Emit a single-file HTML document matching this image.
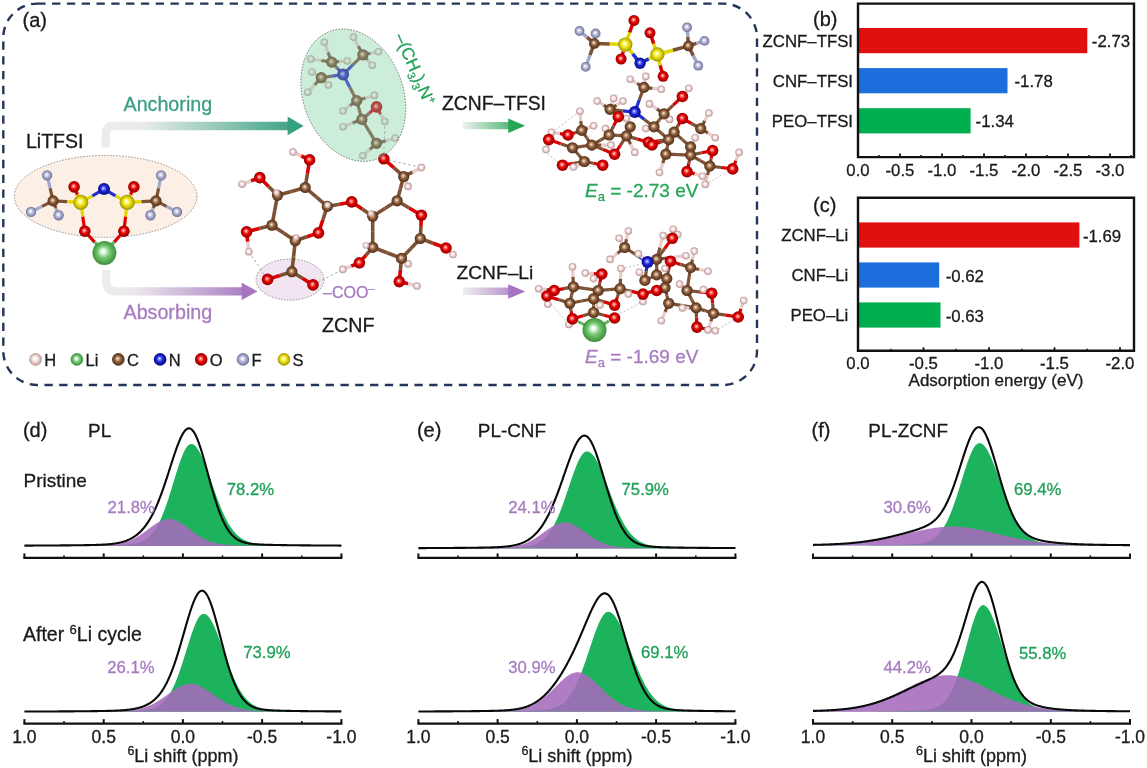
<!DOCTYPE html>
<html><head><meta charset="utf-8"><style>
html,body{margin:0;padding:0;background:#fff;}
body{width:1147px;height:768px;overflow:hidden;}
svg{display:block;font-family:"Liberation Sans", sans-serif;will-change:transform;}
</style></head><body>
<svg width="1147" height="768" viewBox="0 0 1147 768">
<defs><radialGradient id="gC" cx="0.5" cy="0.5" r="0.52" fx="0.44" fy="0.42"><stop offset="0" stop-color="#ffffff"/><stop offset="0.12" stop-color="#e2c6a8"/><stop offset="0.5" stop-color="#8c5b3a"/><stop offset="1" stop-color="#4a2c16"/></radialGradient><radialGradient id="gO" cx="0.5" cy="0.5" r="0.52" fx="0.44" fy="0.42"><stop offset="0" stop-color="#ffffff"/><stop offset="0.12" stop-color="#ffa0a0"/><stop offset="0.5" stop-color="#e60000"/><stop offset="1" stop-color="#8a0000"/></radialGradient><radialGradient id="gH" cx="0.5" cy="0.5" r="0.52" fx="0.44" fy="0.42"><stop offset="0" stop-color="#ffffff"/><stop offset="0.12" stop-color="#ffffff"/><stop offset="0.5" stop-color="#f2d8d8"/><stop offset="1" stop-color="#b08c8c"/></radialGradient><radialGradient id="gN" cx="0.5" cy="0.5" r="0.52" fx="0.44" fy="0.42"><stop offset="0" stop-color="#ffffff"/><stop offset="0.12" stop-color="#9aa6ff"/><stop offset="0.5" stop-color="#1c22d8"/><stop offset="1" stop-color="#080a78"/></radialGradient><radialGradient id="gS" cx="0.5" cy="0.5" r="0.52" fx="0.44" fy="0.42"><stop offset="0" stop-color="#ffffff"/><stop offset="0.12" stop-color="#ffffc0"/><stop offset="0.5" stop-color="#ebe210"/><stop offset="1" stop-color="#9a8c00"/></radialGradient><radialGradient id="gF" cx="0.5" cy="0.5" r="0.52" fx="0.44" fy="0.42"><stop offset="0" stop-color="#ffffff"/><stop offset="0.12" stop-color="#f4f4ff"/><stop offset="0.5" stop-color="#aeb0d4"/><stop offset="1" stop-color="#6a6c90"/></radialGradient><radialGradient id="gL" cx="0.5" cy="0.5" r="0.52" fx="0.44" fy="0.42"><stop offset="0" stop-color="#ffffff"/><stop offset="0.12" stop-color="#f4fff4"/><stop offset="0.5" stop-color="#70c66e"/><stop offset="1" stop-color="#3a8a38"/></radialGradient><linearGradient id="arAnch" gradientUnits="userSpaceOnUse" x1="105" y1="0" x2="300" y2="0"><stop offset="0" stop-color="#ececec"/><stop offset="0.2" stop-color="#e8ece9"/><stop offset="1" stop-color="#37a083"/></linearGradient><linearGradient id="arAbs" gradientUnits="userSpaceOnUse" x1="105" y1="0" x2="255" y2="0"><stop offset="0" stop-color="#ececec"/><stop offset="0.2" stop-color="#ebe8ec"/><stop offset="1" stop-color="#a674c0"/></linearGradient><linearGradient id="arG" gradientUnits="userSpaceOnUse" x1="463" y1="0" x2="525" y2="0"><stop offset="0" stop-color="#efefef"/><stop offset="1" stop-color="#25a654"/></linearGradient><linearGradient id="arP" gradientUnits="userSpaceOnUse" x1="463" y1="0" x2="525" y2="0"><stop offset="0" stop-color="#efefef"/><stop offset="1" stop-color="#a674c0"/></linearGradient></defs>
<rect x="858" y="28.0" width="229.3" height="25.2" fill="#e01010"/>
<text x="853.0" y="46.6" font-size="16.8" fill="#1a1a1a" text-anchor="end"  stroke="#1a1a1a" stroke-width="0.3">ZCNF&#8211;TFSI</text>
<text x="1091.8" y="47.1" font-size="16.8" fill="#1a1a1a" text-anchor="start"  stroke="#1a1a1a" stroke-width="0.3">-2.73</text>
<rect x="858" y="68.1" width="149.5" height="25.2" fill="#1b6edc"/>
<text x="853.0" y="86.7" font-size="16.8" fill="#1a1a1a" text-anchor="end"  stroke="#1a1a1a" stroke-width="0.3">CNF&#8211;TFSI</text>
<text x="1014.5" y="87.2" font-size="16.8" fill="#1a1a1a" text-anchor="start"  stroke="#1a1a1a" stroke-width="0.3">-1.78</text>
<rect x="858" y="108.2" width="112.6" height="25.2" fill="#00ad4f"/>
<text x="853.0" y="126.8" font-size="16.8" fill="#1a1a1a" text-anchor="end"  stroke="#1a1a1a" stroke-width="0.3">PEO&#8211;TFSI</text>
<text x="975.6" y="127.3" font-size="16.8" fill="#1a1a1a" text-anchor="start"  stroke="#1a1a1a" stroke-width="0.3">-1.34</text>
<path d="M858,3.6 H1134 V157.1 H858 Z" fill="none" stroke="#111" stroke-width="2.4"/>
<line x1="858.0" y1="157.1" x2="858.0" y2="153.6" stroke="#111" stroke-width="1.8"/>
<text x="858.0" y="175.9" font-size="16.8" fill="#1a1a1a" text-anchor="middle"  stroke="#1a1a1a" stroke-width="0.3">0.0</text>
<line x1="900.0" y1="157.1" x2="900.0" y2="153.6" stroke="#111" stroke-width="1.8"/>
<text x="900.0" y="175.9" font-size="16.8" fill="#1a1a1a" text-anchor="middle"  stroke="#1a1a1a" stroke-width="0.3">-0.5</text>
<line x1="942.0" y1="157.1" x2="942.0" y2="153.6" stroke="#111" stroke-width="1.8"/>
<text x="942.0" y="175.9" font-size="16.8" fill="#1a1a1a" text-anchor="middle"  stroke="#1a1a1a" stroke-width="0.3">-1.0</text>
<line x1="984.0" y1="157.1" x2="984.0" y2="153.6" stroke="#111" stroke-width="1.8"/>
<text x="984.0" y="175.9" font-size="16.8" fill="#1a1a1a" text-anchor="middle"  stroke="#1a1a1a" stroke-width="0.3">-1.5</text>
<line x1="1026.0" y1="157.1" x2="1026.0" y2="153.6" stroke="#111" stroke-width="1.8"/>
<text x="1026.0" y="175.9" font-size="16.8" fill="#1a1a1a" text-anchor="middle"  stroke="#1a1a1a" stroke-width="0.3">-2.0</text>
<line x1="1068.0" y1="157.1" x2="1068.0" y2="153.6" stroke="#111" stroke-width="1.8"/>
<text x="1068.0" y="175.9" font-size="16.8" fill="#1a1a1a" text-anchor="middle"  stroke="#1a1a1a" stroke-width="0.3">-2.5</text>
<line x1="1110.0" y1="157.1" x2="1110.0" y2="153.6" stroke="#111" stroke-width="1.8"/>
<text x="1110.0" y="175.9" font-size="16.8" fill="#1a1a1a" text-anchor="middle"  stroke="#1a1a1a" stroke-width="0.3">-3.0</text>
<line x1="879.0" y1="157.1" x2="879.0" y2="155.1" stroke="#111" stroke-width="1.5"/>
<line x1="921.0" y1="157.1" x2="921.0" y2="155.1" stroke="#111" stroke-width="1.5"/>
<line x1="963.0" y1="157.1" x2="963.0" y2="155.1" stroke="#111" stroke-width="1.5"/>
<line x1="1005.0" y1="157.1" x2="1005.0" y2="155.1" stroke="#111" stroke-width="1.5"/>
<line x1="1047.0" y1="157.1" x2="1047.0" y2="155.1" stroke="#111" stroke-width="1.5"/>
<line x1="1089.0" y1="157.1" x2="1089.0" y2="155.1" stroke="#111" stroke-width="1.5"/>
<line x1="1131.0" y1="157.1" x2="1131.0" y2="155.1" stroke="#111" stroke-width="1.5"/>
<text x="813.0" y="25.8" font-size="20" fill="#1a1a1a" text-anchor="start"  stroke="#1a1a1a" stroke-width="0.3">(b)</text>
<rect x="858" y="222.4" width="221.4" height="25.2" fill="#e01010"/>
<text x="848.3" y="241.0" font-size="16.8" fill="#1a1a1a" text-anchor="end"  stroke="#1a1a1a" stroke-width="0.3">ZCNF&#8211;Li</text>
<text x="1082.9" y="241.5" font-size="16.8" fill="#1a1a1a" text-anchor="start"  stroke="#1a1a1a" stroke-width="0.3">-1.69</text>
<rect x="858" y="262.4" width="81.2" height="25.2" fill="#1b6edc"/>
<text x="848.3" y="281.0" font-size="16.8" fill="#1a1a1a" text-anchor="end"  stroke="#1a1a1a" stroke-width="0.3">CNF&#8211;Li</text>
<text x="945.7" y="281.5" font-size="16.8" fill="#1a1a1a" text-anchor="start"  stroke="#1a1a1a" stroke-width="0.3">-0.62</text>
<rect x="858" y="302.4" width="82.5" height="25.2" fill="#00ad4f"/>
<text x="848.3" y="321.0" font-size="16.8" fill="#1a1a1a" text-anchor="end"  stroke="#1a1a1a" stroke-width="0.3">PEO&#8211;Li</text>
<text x="945.7" y="321.5" font-size="16.8" fill="#1a1a1a" text-anchor="start"  stroke="#1a1a1a" stroke-width="0.3">-0.63</text>
<path d="M858,197.8 H1134 V350.8 H858 Z" fill="none" stroke="#111" stroke-width="2.4"/>
<line x1="858.0" y1="350.8" x2="858.0" y2="347.3" stroke="#111" stroke-width="1.8"/>
<text x="858.0" y="369.0" font-size="16.8" fill="#1a1a1a" text-anchor="middle"  stroke="#1a1a1a" stroke-width="0.3">0.0</text>
<line x1="923.5" y1="350.8" x2="923.5" y2="347.3" stroke="#111" stroke-width="1.8"/>
<text x="923.5" y="369.0" font-size="16.8" fill="#1a1a1a" text-anchor="middle"  stroke="#1a1a1a" stroke-width="0.3">-0.5</text>
<line x1="989.0" y1="350.8" x2="989.0" y2="347.3" stroke="#111" stroke-width="1.8"/>
<text x="989.0" y="369.0" font-size="16.8" fill="#1a1a1a" text-anchor="middle"  stroke="#1a1a1a" stroke-width="0.3">-1.0</text>
<line x1="1054.5" y1="350.8" x2="1054.5" y2="347.3" stroke="#111" stroke-width="1.8"/>
<text x="1054.5" y="369.0" font-size="16.8" fill="#1a1a1a" text-anchor="middle"  stroke="#1a1a1a" stroke-width="0.3">-1.5</text>
<line x1="1120.0" y1="350.8" x2="1120.0" y2="347.3" stroke="#111" stroke-width="1.8"/>
<text x="1120.0" y="369.0" font-size="16.8" fill="#1a1a1a" text-anchor="middle"  stroke="#1a1a1a" stroke-width="0.3">-2.0</text>
<line x1="890.8" y1="350.8" x2="890.8" y2="348.8" stroke="#111" stroke-width="1.5"/>
<line x1="956.2" y1="350.8" x2="956.2" y2="348.8" stroke="#111" stroke-width="1.5"/>
<line x1="1021.8" y1="350.8" x2="1021.8" y2="348.8" stroke="#111" stroke-width="1.5"/>
<line x1="1087.2" y1="350.8" x2="1087.2" y2="348.8" stroke="#111" stroke-width="1.5"/>
<text x="813.0" y="211.5" font-size="20" fill="#1a1a1a" text-anchor="start"  stroke="#1a1a1a" stroke-width="0.3">(c)</text>
<text x="996.0" y="386.0" font-size="17" fill="#1a1a1a" text-anchor="middle"  stroke="#1a1a1a" stroke-width="0.3">Adsorption energy (eV)</text>
<polygon points="24.4,545.9 24.4,545.70 24.9,545.70 25.4,545.70 25.9,545.69 26.4,545.69 26.9,545.69 27.4,545.69 27.9,545.69 28.4,545.69 28.9,545.69 29.4,545.69 29.9,545.68 30.4,545.68 30.9,545.68 31.4,545.68 31.9,545.68 32.4,545.68 32.9,545.68 33.4,545.67 33.9,545.67 34.4,545.67 34.9,545.67 35.4,545.67 35.9,545.67 36.4,545.67 36.9,545.66 37.4,545.66 37.9,545.66 38.4,545.66 38.9,545.66 39.4,545.66 39.9,545.66 40.4,545.65 40.9,545.65 41.4,545.65 41.9,545.65 42.4,545.65 42.9,545.65 43.4,545.64 43.9,545.64 44.4,545.64 44.9,545.64 45.4,545.64 45.9,545.64 46.4,545.63 46.9,545.63 47.4,545.63 47.9,545.63 48.4,545.63 48.9,545.62 49.4,545.62 49.9,545.62 50.4,545.62 50.9,545.62 51.4,545.61 51.9,545.61 52.4,545.61 52.9,545.61 53.4,545.61 53.9,545.60 54.4,545.60 54.9,545.60 55.4,545.60 55.9,545.60 56.4,545.59 56.9,545.59 57.4,545.59 57.9,545.59 58.4,545.58 58.9,545.58 59.4,545.58 59.9,545.58 60.4,545.58 60.9,545.57 61.4,545.57 61.9,545.57 62.4,545.57 62.9,545.56 63.4,545.56 63.9,545.56 64.4,545.55 64.9,545.55 65.4,545.55 65.9,545.55 66.4,545.54 66.9,545.54 67.4,545.54 67.9,545.54 68.4,545.53 68.9,545.53 69.4,545.53 69.9,545.52 70.4,545.52 70.9,545.52 71.4,545.51 71.9,545.51 72.4,545.51 72.9,545.51 73.4,545.50 73.9,545.50 74.4,545.50 74.9,545.49 75.4,545.49 75.9,545.48 76.4,545.48 76.9,545.48 77.4,545.47 77.9,545.47 78.4,545.47 78.9,545.46 79.4,545.46 79.9,545.46 80.4,545.45 80.9,545.45 81.4,545.44 81.9,545.44 82.4,545.44 82.9,545.43 83.4,545.43 83.9,545.42 84.4,545.42 84.9,545.41 85.4,545.41 85.9,545.41 86.4,545.40 86.9,545.40 87.4,545.39 87.9,545.39 88.4,545.38 88.9,545.38 89.4,545.37 89.9,545.37 90.4,545.36 90.9,545.36 91.4,545.35 91.9,545.35 92.4,545.34 92.9,545.34 93.4,545.33 93.9,545.33 94.4,545.32 94.9,545.31 95.4,545.31 95.9,545.30 96.4,545.30 96.9,545.29 97.4,545.28 97.9,545.28 98.4,545.27 98.9,545.26 99.4,545.26 99.9,545.25 100.4,545.24 100.9,545.24 101.4,545.23 101.9,545.22 102.4,545.22 102.9,545.21 103.4,545.20 103.9,545.19 104.4,545.18 104.9,545.18 105.4,545.17 105.9,545.16 106.4,545.15 106.9,545.14 107.4,545.13 107.9,545.13 108.4,545.12 108.9,545.11 109.4,545.10 109.9,545.09 110.4,545.08 110.9,545.07 111.4,545.06 111.9,545.05 112.4,545.04 112.9,545.02 113.4,545.01 113.9,545.00 114.4,544.99 114.9,544.98 115.4,544.96 115.9,544.95 116.4,544.94 116.9,544.92 117.4,544.91 117.9,544.89 118.4,544.88 118.9,544.86 119.4,544.84 119.9,544.82 120.4,544.81 120.9,544.79 121.4,544.77 121.9,544.74 122.4,544.72 122.9,544.70 123.4,544.68 123.9,544.65 124.4,544.62 124.9,544.59 125.4,544.56 125.9,544.53 126.4,544.50 126.9,544.47 127.4,544.43 127.9,544.39 128.4,544.35 128.9,544.31 129.4,544.26 129.9,544.21 130.4,544.16 130.9,544.10 131.4,544.05 131.9,543.98 132.4,543.92 132.9,543.85 133.4,543.77 133.9,543.69 134.4,543.61 134.9,543.52 135.4,543.43 135.9,543.32 136.4,543.22 136.9,543.10 137.4,542.98 137.9,542.85 138.4,542.72 138.9,542.57 139.4,542.42 139.9,542.26 140.4,542.08 140.9,541.90 141.4,541.71 141.9,541.50 142.4,541.29 142.9,541.06 143.4,540.81 143.9,540.56 144.4,540.28 144.9,540.00 145.4,539.69 145.9,539.38 146.4,539.04 146.9,538.69 147.4,538.31 147.9,537.92 148.4,537.51 148.9,537.08 149.4,536.63 149.9,536.15 150.4,535.65 150.9,535.13 151.4,534.58 151.9,534.01 152.4,533.42 152.9,532.79 153.4,532.14 153.9,531.47 154.4,530.76 154.9,530.03 155.4,529.26 155.9,528.47 156.4,527.65 156.9,526.79 157.4,525.91 157.9,524.99 158.4,524.04 158.9,523.07 159.4,522.05 159.9,521.01 160.4,519.94 160.9,518.83 161.4,517.69 161.9,516.52 162.4,515.32 162.9,514.08 163.4,512.82 163.9,511.52 164.4,510.20 164.9,508.85 165.4,507.47 165.9,506.06 166.4,504.62 166.9,503.16 167.4,501.68 167.9,500.17 168.4,498.65 168.9,497.10 169.4,495.53 169.9,493.95 170.4,492.35 170.9,490.74 171.4,489.11 171.9,487.48 172.4,485.84 172.9,484.20 173.4,482.55 173.9,480.90 174.4,479.26 174.9,477.61 175.4,475.98 175.9,474.36 176.4,472.74 176.9,471.15 177.4,469.57 177.9,468.01 178.4,466.47 178.9,464.97 179.4,463.49 179.9,462.04 180.4,460.63 180.9,459.26 181.4,457.92 181.9,456.64 182.4,455.40 182.9,454.21 183.4,453.07 183.9,451.99 184.4,450.96 184.9,450.00 185.4,449.10 185.9,448.26 186.4,447.50 186.9,446.80 187.4,446.17 187.9,445.62 188.4,445.14 188.9,444.74 189.4,444.42 189.9,444.17 190.4,444.00 190.9,443.91 191.4,443.90 191.9,443.96 192.4,444.07 192.9,444.25 193.4,444.49 193.9,444.78 194.4,445.14 194.9,445.55 195.4,446.02 195.9,446.54 196.4,447.12 196.9,447.76 197.4,448.44 197.9,449.18 198.4,449.97 198.9,450.80 199.4,451.69 199.9,452.61 200.4,453.58 200.9,454.60 201.4,455.65 201.9,456.73 202.4,457.86 202.9,459.02 203.4,460.21 203.9,461.43 204.4,462.67 204.9,463.95 205.4,465.24 205.9,466.56 206.4,467.90 206.9,469.26 207.4,470.63 207.9,472.02 208.4,473.42 208.9,474.83 209.4,476.25 209.9,477.68 210.4,479.11 210.9,480.55 211.4,481.99 211.9,483.43 212.4,484.86 212.9,486.30 213.4,487.73 213.9,489.15 214.4,490.57 214.9,491.98 215.4,493.37 215.9,494.76 216.4,496.14 216.9,497.50 217.4,498.85 217.9,500.18 218.4,501.50 218.9,502.79 219.4,504.08 219.9,505.34 220.4,506.58 220.9,507.80 221.4,509.00 221.9,510.18 222.4,511.34 222.9,512.47 223.4,513.59 223.9,514.67 224.4,515.74 224.9,516.78 225.4,517.80 225.9,518.79 226.4,519.76 226.9,520.71 227.4,521.63 227.9,522.52 228.4,523.39 228.9,524.24 229.4,525.06 229.9,525.86 230.4,526.64 230.9,527.39 231.4,528.12 231.9,528.82 232.4,529.50 232.9,530.16 233.4,530.80 233.9,531.42 234.4,532.01 234.9,532.59 235.4,533.14 235.9,533.67 236.4,534.18 236.9,534.68 237.4,535.15 237.9,535.61 238.4,536.04 238.9,536.47 239.4,536.87 239.9,537.26 240.4,537.63 240.9,537.98 241.4,538.32 241.9,538.65 242.4,538.96 242.9,539.26 243.4,539.54 243.9,539.81 244.4,540.07 244.9,540.32 245.4,540.56 245.9,540.78 246.4,541.00 246.9,541.20 247.4,541.39 247.9,541.58 248.4,541.76 248.9,541.92 249.4,542.08 249.9,542.23 250.4,542.38 250.9,542.51 251.4,542.64 251.9,542.77 252.4,542.88 252.9,542.99 253.4,543.10 253.9,543.20 254.4,543.29 254.9,543.38 255.4,543.47 255.9,543.55 256.4,543.63 256.9,543.70 257.4,543.77 257.9,543.83 258.4,543.90 258.9,543.95 259.4,544.01 259.9,544.06 260.4,544.11 260.9,544.16 261.4,544.21 261.9,544.25 262.4,544.29 262.9,544.33 263.4,544.37 263.9,544.40 264.4,544.44 264.9,544.47 265.4,544.50 265.9,544.53 266.4,544.55 266.9,544.58 267.4,544.61 267.9,544.63 268.4,544.65 268.9,544.68 269.4,544.70 269.9,544.72 270.4,544.74 270.9,544.76 271.4,544.77 271.9,544.79 272.4,544.81 272.9,544.82 273.4,544.84 273.9,544.85 274.4,544.87 274.9,544.88 275.4,544.90 275.9,544.91 276.4,544.92 276.9,544.94 277.4,544.95 277.9,544.96 278.4,544.97 278.9,544.98 279.4,544.99 279.9,545.00 280.4,545.01 280.9,545.02 281.4,545.03 281.9,545.04 282.4,545.05 282.9,545.06 283.4,545.07 283.9,545.08 284.4,545.09 284.9,545.10 285.4,545.11 285.9,545.11 286.4,545.12 286.9,545.13 287.4,545.14 287.9,545.15 288.4,545.15 288.9,545.16 289.4,545.17 289.9,545.17 290.4,545.18 290.9,545.19 291.4,545.20 291.9,545.20 292.4,545.21 292.9,545.21 293.4,545.22 293.9,545.23 294.4,545.23 294.9,545.24 295.4,545.25 295.9,545.25 296.4,545.26 296.9,545.26 297.4,545.27 297.9,545.27 298.4,545.28 298.9,545.29 299.4,545.29 299.9,545.30 300.4,545.30 300.9,545.31 301.4,545.31 301.9,545.32 302.4,545.32 302.9,545.33 303.4,545.33 303.9,545.34 304.4,545.34 304.9,545.35 305.4,545.35 305.9,545.36 306.4,545.36 306.9,545.36 307.4,545.37 307.9,545.37 308.4,545.38 308.9,545.38 309.4,545.39 309.9,545.39 310.4,545.39 310.9,545.40 311.4,545.40 311.9,545.41 312.4,545.41 312.9,545.41 313.4,545.42 313.9,545.42 314.4,545.43 314.9,545.43 315.4,545.43 315.9,545.44 316.4,545.44 316.9,545.44 317.4,545.45 317.9,545.45 318.4,545.45 318.9,545.46 319.4,545.46 319.9,545.46 320.4,545.47 320.9,545.47 321.4,545.47 321.9,545.48 322.4,545.48 322.9,545.48 323.4,545.49 323.9,545.49 324.4,545.49 324.9,545.49 325.4,545.50 325.9,545.50 326.4,545.50 326.9,545.51 327.4,545.51 327.9,545.51 328.4,545.51 328.9,545.52 329.4,545.52 329.9,545.52 330.4,545.52 330.9,545.53 331.4,545.53 331.9,545.53 332.4,545.54 332.9,545.54 333.4,545.54 333.9,545.54 334.4,545.54 334.9,545.55 335.4,545.55 335.9,545.55 336.4,545.55 336.9,545.56 337.4,545.56 337.9,545.56 338.4,545.56 338.9,545.57 339.4,545.57 339.9,545.57 340.4,545.57 340.9,545.57 341.4,545.58 341.4,545.9" fill="#1db35c"/>
<polygon points="24.4,545.9 24.4,545.81 24.9,545.81 25.4,545.80 25.9,545.80 26.4,545.80 26.9,545.80 27.4,545.80 27.9,545.80 28.4,545.80 28.9,545.80 29.4,545.80 29.9,545.80 30.4,545.80 30.9,545.80 31.4,545.80 31.9,545.80 32.4,545.79 32.9,545.79 33.4,545.79 33.9,545.79 34.4,545.79 34.9,545.79 35.4,545.79 35.9,545.79 36.4,545.79 36.9,545.79 37.4,545.79 37.9,545.79 38.4,545.79 38.9,545.78 39.4,545.78 39.9,545.78 40.4,545.78 40.9,545.78 41.4,545.78 41.9,545.78 42.4,545.78 42.9,545.78 43.4,545.78 43.9,545.78 44.4,545.77 44.9,545.77 45.4,545.77 45.9,545.77 46.4,545.77 46.9,545.77 47.4,545.77 47.9,545.77 48.4,545.77 48.9,545.77 49.4,545.76 49.9,545.76 50.4,545.76 50.9,545.76 51.4,545.76 51.9,545.76 52.4,545.76 52.9,545.76 53.4,545.76 53.9,545.75 54.4,545.75 54.9,545.75 55.4,545.75 55.9,545.75 56.4,545.75 56.9,545.75 57.4,545.75 57.9,545.74 58.4,545.74 58.9,545.74 59.4,545.74 59.9,545.74 60.4,545.74 60.9,545.74 61.4,545.73 61.9,545.73 62.4,545.73 62.9,545.73 63.4,545.73 63.9,545.73 64.4,545.72 64.9,545.72 65.4,545.72 65.9,545.72 66.4,545.72 66.9,545.72 67.4,545.71 67.9,545.71 68.4,545.71 68.9,545.71 69.4,545.71 69.9,545.71 70.4,545.70 70.9,545.70 71.4,545.70 71.9,545.70 72.4,545.70 72.9,545.69 73.4,545.69 73.9,545.69 74.4,545.69 74.9,545.69 75.4,545.68 75.9,545.68 76.4,545.68 76.9,545.68 77.4,545.67 77.9,545.67 78.4,545.67 78.9,545.67 79.4,545.66 79.9,545.66 80.4,545.66 80.9,545.65 81.4,545.65 81.9,545.65 82.4,545.64 82.9,545.64 83.4,545.64 83.9,545.63 84.4,545.63 84.9,545.63 85.4,545.62 85.9,545.62 86.4,545.62 86.9,545.61 87.4,545.61 87.9,545.60 88.4,545.60 88.9,545.59 89.4,545.59 89.9,545.58 90.4,545.58 90.9,545.57 91.4,545.57 91.9,545.56 92.4,545.55 92.9,545.55 93.4,545.54 93.9,545.53 94.4,545.52 94.9,545.52 95.4,545.51 95.9,545.50 96.4,545.49 96.9,545.48 97.4,545.47 97.9,545.46 98.4,545.44 98.9,545.43 99.4,545.42 99.9,545.41 100.4,545.39 100.9,545.38 101.4,545.36 101.9,545.34 102.4,545.33 102.9,545.31 103.4,545.29 103.9,545.27 104.4,545.25 104.9,545.22 105.4,545.20 105.9,545.17 106.4,545.15 106.9,545.12 107.4,545.09 107.9,545.06 108.4,545.02 108.9,544.99 109.4,544.95 109.9,544.91 110.4,544.87 110.9,544.83 111.4,544.79 111.9,544.74 112.4,544.69 112.9,544.64 113.4,544.58 113.9,544.53 114.4,544.47 114.9,544.40 115.4,544.34 115.9,544.27 116.4,544.20 116.9,544.12 117.4,544.04 117.9,543.96 118.4,543.88 118.9,543.79 119.4,543.69 119.9,543.59 120.4,543.49 120.9,543.38 121.4,543.27 121.9,543.16 122.4,543.04 122.9,542.91 123.4,542.78 123.9,542.65 124.4,542.51 124.9,542.36 125.4,542.21 125.9,542.06 126.4,541.89 126.9,541.73 127.4,541.55 127.9,541.38 128.4,541.19 128.9,541.00 129.4,540.80 129.9,540.60 130.4,540.39 130.9,540.17 131.4,539.95 131.9,539.73 132.4,539.49 132.9,539.25 133.4,539.00 133.9,538.75 134.4,538.49 134.9,538.22 135.4,537.95 135.9,537.67 136.4,537.39 136.9,537.10 137.4,536.80 137.9,536.50 138.4,536.19 138.9,535.88 139.4,535.56 139.9,535.23 140.4,534.91 140.9,534.57 141.4,534.23 141.9,533.89 142.4,533.54 142.9,533.19 143.4,532.83 143.9,532.47 144.4,532.11 144.9,531.74 145.4,531.38 145.9,531.00 146.4,530.63 146.9,530.26 147.4,529.88 147.9,529.51 148.4,529.13 148.9,528.75 149.4,528.38 149.9,528.00 150.4,527.63 150.9,527.25 151.4,526.88 151.9,526.51 152.4,526.15 152.9,525.79 153.4,525.43 153.9,525.07 154.4,524.73 154.9,524.38 155.4,524.05 155.9,523.72 156.4,523.39 156.9,523.08 157.4,522.77 157.9,522.47 158.4,522.18 158.9,521.90 159.4,521.62 159.9,521.36 160.4,521.11 160.9,520.88 161.4,520.65 161.9,520.43 162.4,520.23 162.9,520.04 163.4,519.87 163.9,519.71 164.4,519.56 164.9,519.42 165.4,519.30 165.9,519.20 166.4,519.11 166.9,519.04 167.4,518.98 167.9,518.94 168.4,518.91 168.9,518.90 169.4,518.91 169.9,518.93 170.4,518.96 170.9,519.01 171.4,519.08 171.9,519.16 172.4,519.26 172.9,519.37 173.4,519.50 173.9,519.64 174.4,519.80 174.9,519.97 175.4,520.15 175.9,520.35 176.4,520.56 176.9,520.78 177.4,521.02 177.9,521.26 178.4,521.52 178.9,521.79 179.4,522.06 179.9,522.35 180.4,522.65 180.9,522.95 181.4,523.26 181.9,523.59 182.4,523.91 182.9,524.25 183.4,524.59 183.9,524.93 184.4,525.29 184.9,525.64 185.4,526.00 185.9,526.37 186.4,526.73 186.9,527.10 187.4,527.48 187.9,527.85 188.4,528.23 188.9,528.60 189.4,528.98 189.9,529.36 190.4,529.73 190.9,530.11 191.4,530.48 191.9,530.86 192.4,531.23 192.9,531.60 193.4,531.96 193.9,532.33 194.4,532.69 194.9,533.05 195.4,533.40 195.9,533.75 196.4,534.09 196.9,534.44 197.4,534.77 197.9,535.10 198.4,535.43 198.9,535.75 199.4,536.07 199.9,536.38 200.4,536.68 200.9,536.98 201.4,537.27 201.9,537.56 202.4,537.84 202.9,538.12 203.4,538.38 203.9,538.65 204.4,538.90 204.9,539.15 205.4,539.40 205.9,539.63 206.4,539.86 206.9,540.09 207.4,540.31 207.9,540.52 208.4,540.72 208.9,540.92 209.4,541.11 209.9,541.30 210.4,541.48 210.9,541.66 211.4,541.83 211.9,541.99 212.4,542.15 212.9,542.30 213.4,542.45 213.9,542.59 214.4,542.73 214.9,542.86 215.4,542.99 215.9,543.11 216.4,543.23 216.9,543.34 217.4,543.45 217.9,543.55 218.4,543.65 218.9,543.75 219.4,543.84 219.9,543.93 220.4,544.01 220.9,544.09 221.4,544.17 221.9,544.24 222.4,544.31 222.9,544.38 223.4,544.44 223.9,544.50 224.4,544.56 224.9,544.62 225.4,544.67 225.9,544.72 226.4,544.77 226.9,544.81 227.4,544.86 227.9,544.90 228.4,544.94 228.9,544.98 229.4,545.01 229.9,545.04 230.4,545.08 230.9,545.11 231.4,545.14 231.9,545.16 232.4,545.19 232.9,545.21 233.4,545.24 233.9,545.26 234.4,545.28 234.9,545.30 235.4,545.32 235.9,545.34 236.4,545.35 236.9,545.37 237.4,545.39 237.9,545.40 238.4,545.41 238.9,545.43 239.4,545.44 239.9,545.45 240.4,545.46 240.9,545.47 241.4,545.48 241.9,545.49 242.4,545.50 242.9,545.51 243.4,545.52 243.9,545.53 244.4,545.54 244.9,545.54 245.4,545.55 245.9,545.56 246.4,545.56 246.9,545.57 247.4,545.57 247.9,545.58 248.4,545.59 248.9,545.59 249.4,545.60 249.9,545.60 250.4,545.61 250.9,545.61 251.4,545.61 251.9,545.62 252.4,545.62 252.9,545.63 253.4,545.63 253.9,545.63 254.4,545.64 254.9,545.64 255.4,545.64 255.9,545.65 256.4,545.65 256.9,545.65 257.4,545.66 257.9,545.66 258.4,545.66 258.9,545.66 259.4,545.67 259.9,545.67 260.4,545.67 260.9,545.67 261.4,545.68 261.9,545.68 262.4,545.68 262.9,545.68 263.4,545.69 263.9,545.69 264.4,545.69 264.9,545.69 265.4,545.70 265.9,545.70 266.4,545.70 266.9,545.70 267.4,545.70 267.9,545.70 268.4,545.71 268.9,545.71 269.4,545.71 269.9,545.71 270.4,545.71 270.9,545.72 271.4,545.72 271.9,545.72 272.4,545.72 272.9,545.72 273.4,545.72 273.9,545.73 274.4,545.73 274.9,545.73 275.4,545.73 275.9,545.73 276.4,545.73 276.9,545.73 277.4,545.74 277.9,545.74 278.4,545.74 278.9,545.74 279.4,545.74 279.9,545.74 280.4,545.74 280.9,545.75 281.4,545.75 281.9,545.75 282.4,545.75 282.9,545.75 283.4,545.75 283.9,545.75 284.4,545.75 284.9,545.76 285.4,545.76 285.9,545.76 286.4,545.76 286.9,545.76 287.4,545.76 287.9,545.76 288.4,545.76 288.9,545.77 289.4,545.77 289.9,545.77 290.4,545.77 290.9,545.77 291.4,545.77 291.9,545.77 292.4,545.77 292.9,545.77 293.4,545.77 293.9,545.78 294.4,545.78 294.9,545.78 295.4,545.78 295.9,545.78 296.4,545.78 296.9,545.78 297.4,545.78 297.9,545.78 298.4,545.78 298.9,545.78 299.4,545.79 299.9,545.79 300.4,545.79 300.9,545.79 301.4,545.79 301.9,545.79 302.4,545.79 302.9,545.79 303.4,545.79 303.9,545.79 304.4,545.79 304.9,545.79 305.4,545.79 305.9,545.80 306.4,545.80 306.9,545.80 307.4,545.80 307.9,545.80 308.4,545.80 308.9,545.80 309.4,545.80 309.9,545.80 310.4,545.80 310.9,545.80 311.4,545.80 311.9,545.80 312.4,545.80 312.9,545.81 313.4,545.81 313.9,545.81 314.4,545.81 314.9,545.81 315.4,545.81 315.9,545.81 316.4,545.81 316.9,545.81 317.4,545.81 317.9,545.81 318.4,545.81 318.9,545.81 319.4,545.81 319.9,545.81 320.4,545.81 320.9,545.81 321.4,545.82 321.9,545.82 322.4,545.82 322.9,545.82 323.4,545.82 323.9,545.82 324.4,545.82 324.9,545.82 325.4,545.82 325.9,545.82 326.4,545.82 326.9,545.82 327.4,545.82 327.9,545.82 328.4,545.82 328.9,545.82 329.4,545.82 329.9,545.82 330.4,545.82 330.9,545.82 331.4,545.82 331.9,545.83 332.4,545.83 332.9,545.83 333.4,545.83 333.9,545.83 334.4,545.83 334.9,545.83 335.4,545.83 335.9,545.83 336.4,545.83 336.9,545.83 337.4,545.83 337.9,545.83 338.4,545.83 338.9,545.83 339.4,545.83 339.9,545.83 340.4,545.83 340.9,545.83 341.4,545.83 341.4,545.9" fill="rgba(165,106,188,0.88)"/>
<polyline points="24.4,545.61 24.9,545.61 25.4,545.61 25.9,545.60 26.4,545.60 26.9,545.60 27.4,545.60 27.9,545.60 28.4,545.59 28.9,545.59 29.4,545.59 29.9,545.59 30.4,545.59 30.9,545.58 31.4,545.58 31.9,545.58 32.4,545.58 32.9,545.58 33.4,545.57 33.9,545.57 34.4,545.57 34.9,545.57 35.4,545.57 35.9,545.56 36.4,545.56 36.9,545.56 37.4,545.56 37.9,545.55 38.4,545.55 38.9,545.55 39.4,545.55 39.9,545.54 40.4,545.54 40.9,545.54 41.4,545.54 41.9,545.53 42.4,545.53 42.9,545.53 43.4,545.53 43.9,545.52 44.4,545.52 44.9,545.52 45.4,545.52 45.9,545.51 46.4,545.51 46.9,545.51 47.4,545.51 47.9,545.50 48.4,545.50 48.9,545.50 49.4,545.49 49.9,545.49 50.4,545.49 50.9,545.48 51.4,545.48 51.9,545.48 52.4,545.48 52.9,545.47 53.4,545.47 53.9,545.47 54.4,545.46 54.9,545.46 55.4,545.46 55.9,545.45 56.4,545.45 56.9,545.45 57.4,545.44 57.9,545.44 58.4,545.43 58.9,545.43 59.4,545.43 59.9,545.42 60.4,545.42 60.9,545.42 61.4,545.41 61.9,545.41 62.4,545.40 62.9,545.40 63.4,545.40 63.9,545.39 64.4,545.39 64.9,545.38 65.4,545.38 65.9,545.38 66.4,545.37 66.9,545.37 67.4,545.36 67.9,545.36 68.4,545.35 68.9,545.35 69.4,545.34 69.9,545.34 70.4,545.33 70.9,545.33 71.4,545.32 71.9,545.32 72.4,545.31 72.9,545.31 73.4,545.30 73.9,545.30 74.4,545.29 74.9,545.29 75.4,545.28 75.9,545.28 76.4,545.27 76.9,545.26 77.4,545.26 77.9,545.25 78.4,545.25 78.9,545.24 79.4,545.23 79.9,545.23 80.4,545.22 80.9,545.21 81.4,545.21 81.9,545.20 82.4,545.19 82.9,545.19 83.4,545.18 83.9,545.17 84.4,545.16 84.9,545.16 85.4,545.15 85.9,545.14 86.4,545.13 86.9,545.12 87.4,545.11 87.9,545.10 88.4,545.10 88.9,545.09 89.4,545.08 89.9,545.07 90.4,545.06 90.9,545.05 91.4,545.03 91.9,545.02 92.4,545.01 92.9,545.00 93.4,544.99 93.9,544.97 94.4,544.96 94.9,544.95 95.4,544.93 95.9,544.92 96.4,544.90 96.9,544.89 97.4,544.87 97.9,544.86 98.4,544.84 98.9,544.82 99.4,544.80 99.9,544.78 100.4,544.76 100.9,544.74 101.4,544.72 101.9,544.69 102.4,544.67 102.9,544.65 103.4,544.62 103.9,544.59 104.4,544.56 104.9,544.53 105.4,544.50 105.9,544.47 106.4,544.44 106.9,544.40 107.4,544.36 107.9,544.33 108.4,544.28 108.9,544.24 109.4,544.20 109.9,544.15 110.4,544.10 110.9,544.05 111.4,544.00 111.9,543.94 112.4,543.89 112.9,543.83 113.4,543.76 113.9,543.70 114.4,543.63 114.9,543.56 115.4,543.48 115.9,543.40 116.4,543.32 116.9,543.23 117.4,543.14 117.9,543.05 118.4,542.95 118.9,542.85 119.4,542.74 119.9,542.63 120.4,542.52 120.9,542.40 121.4,542.27 121.9,542.14 122.4,542.00 122.9,541.86 123.4,541.71 123.9,541.56 124.4,541.40 124.9,541.23 125.4,541.06 125.9,540.88 126.4,540.70 126.9,540.50 127.4,540.30 127.9,540.09 128.4,539.88 128.9,539.65 129.4,539.42 129.9,539.18 130.4,538.92 130.9,538.66 131.4,538.40 131.9,538.12 132.4,537.83 132.9,537.53 133.4,537.22 133.9,536.90 134.4,536.57 134.9,536.23 135.4,535.88 135.9,535.51 136.4,535.13 136.9,534.74 137.4,534.34 137.9,533.92 138.4,533.50 138.9,533.05 139.4,532.60 139.9,532.13 140.4,531.64 140.9,531.14 141.4,530.62 141.9,530.09 142.4,529.54 142.9,528.98 143.4,528.40 143.9,527.80 144.4,527.18 144.9,526.55 145.4,525.90 145.9,525.23 146.4,524.54 146.9,523.83 147.4,523.10 147.9,522.35 148.4,521.58 148.9,520.79 149.4,519.98 149.9,519.15 150.4,518.29 150.9,517.41 151.4,516.52 151.9,515.59 152.4,514.65 152.9,513.68 153.4,512.69 153.9,511.68 154.4,510.65 154.9,509.59 155.4,508.50 155.9,507.39 156.4,506.26 156.9,505.11 157.4,503.93 157.9,502.73 158.4,501.51 158.9,500.26 159.4,498.99 159.9,497.70 160.4,496.39 160.9,495.06 161.4,493.70 161.9,492.33 162.4,490.93 162.9,489.52 163.4,488.09 163.9,486.64 164.4,485.18 164.9,483.70 165.4,482.20 165.9,480.69 166.4,479.18 166.9,477.65 167.4,476.11 167.9,474.56 168.4,473.01 168.9,471.45 169.4,469.89 169.9,468.32 170.4,466.76 170.9,465.20 171.4,463.64 171.9,462.08 172.4,460.54 172.9,459.00 173.4,457.47 173.9,455.96 174.4,454.46 174.9,452.98 175.4,451.52 175.9,450.08 176.4,448.67 176.9,447.29 177.4,445.93 177.9,444.60 178.4,443.31 178.9,442.06 179.4,440.84 179.9,439.67 180.4,438.54 180.9,437.46 181.4,436.42 181.9,435.44 182.4,434.51 182.9,433.64 183.4,432.82 183.9,432.07 184.4,431.38 184.9,430.75 185.4,430.20 185.9,429.71 186.4,429.29 186.9,428.94 187.4,428.67 187.9,428.47 188.4,428.35 188.9,428.31 189.4,428.34 189.9,428.45 190.4,428.64 190.9,428.91 191.4,429.26 191.9,429.69 192.4,430.19 192.9,430.77 193.4,431.43 193.9,432.16 194.4,432.97 194.9,433.84 195.4,434.79 195.9,435.81 196.4,436.89 196.9,438.04 197.4,439.24 197.9,440.51 198.4,441.83 198.9,443.21 199.4,444.63 199.9,446.11 200.4,447.63 200.9,449.19 201.4,450.79 201.9,452.43 202.4,454.10 202.9,455.80 203.4,457.53 203.9,459.28 204.4,461.05 204.9,462.84 205.4,464.65 205.9,466.47 206.4,468.30 206.9,470.13 207.4,471.97 207.9,473.81 208.4,475.65 208.9,477.49 209.4,479.32 209.9,481.15 210.4,482.96 210.9,484.76 211.4,486.55 211.9,488.32 212.4,490.07 212.9,491.80 213.4,493.51 213.9,495.20 214.4,496.86 214.9,498.50 215.4,500.10 215.9,501.68 216.4,503.24 216.9,504.76 217.4,506.25 217.9,507.70 218.4,509.13 218.9,510.52 219.4,511.88 219.9,513.20 220.4,514.49 220.9,515.74 221.4,516.96 221.9,518.14 222.4,519.29 222.9,520.40 223.4,521.48 223.9,522.53 224.4,523.53 224.9,524.51 225.4,525.45 225.9,526.36 226.4,527.23 226.9,528.07 227.4,528.89 227.9,529.66 228.4,530.41 228.9,531.13 229.4,531.82 229.9,532.48 230.4,533.11 230.9,533.72 231.4,534.30 231.9,534.85 232.4,535.38 232.9,535.88 233.4,536.36 233.9,536.82 234.4,537.25 234.9,537.67 235.4,538.06 235.9,538.44 236.4,538.79 236.9,539.13 237.4,539.45 237.9,539.75 238.4,540.04 238.9,540.31 239.4,540.57 239.9,540.81 240.4,541.04 240.9,541.26 241.4,541.47 241.9,541.66 242.4,541.85 242.9,542.02 243.4,542.18 243.9,542.34 244.4,542.48 244.9,542.62 245.4,542.75 245.9,542.87 246.4,542.98 246.9,543.09 247.4,543.19 247.9,543.29 248.4,543.38 248.9,543.46 249.4,543.54 249.9,543.62 250.4,543.69 250.9,543.76 251.4,543.82 251.9,543.88 252.4,543.94 252.9,543.99 253.4,544.04 253.9,544.09 254.4,544.13 254.9,544.17 255.4,544.22 255.9,544.25 256.4,544.29 256.9,544.32 257.4,544.36 257.9,544.39 258.4,544.42 258.9,544.45 259.4,544.47 259.9,544.50 260.4,544.52 260.9,544.55 261.4,544.57 261.9,544.59 262.4,544.61 262.9,544.63 263.4,544.65 263.9,544.67 264.4,544.69 264.9,544.71 265.4,544.72 265.9,544.74 266.4,544.76 266.9,544.77 267.4,544.79 267.9,544.80 268.4,544.82 268.9,544.83 269.4,544.84 269.9,544.86 270.4,544.87 270.9,544.88 271.4,544.89 271.9,544.90 272.4,544.92 272.9,544.93 273.4,544.94 273.9,544.95 274.4,544.96 274.9,544.97 275.4,544.98 275.9,544.99 276.4,545.00 276.9,545.01 277.4,545.02 277.9,545.03 278.4,545.04 278.9,545.05 279.4,545.06 279.9,545.07 280.4,545.07 280.9,545.08 281.4,545.09 281.9,545.10 282.4,545.11 282.9,545.11 283.4,545.12 283.9,545.13 284.4,545.14 284.9,545.15 285.4,545.15 285.9,545.16 286.4,545.17 286.9,545.17 287.4,545.18 287.9,545.19 288.4,545.19 288.9,545.20 289.4,545.21 289.9,545.21 290.4,545.22 290.9,545.23 291.4,545.23 291.9,545.24 292.4,545.25 292.9,545.25 293.4,545.26 293.9,545.26 294.4,545.27 294.9,545.27 295.4,545.28 295.9,545.29 296.4,545.29 296.9,545.30 297.4,545.30 297.9,545.31 298.4,545.31 298.9,545.32 299.4,545.32 299.9,545.33 300.4,545.33 300.9,545.34 301.4,545.34 301.9,545.35 302.4,545.35 302.9,545.36 303.4,545.36 303.9,545.36 304.4,545.37 304.9,545.37 305.4,545.38 305.9,545.38 306.4,545.39 306.9,545.39 307.4,545.39 307.9,545.40 308.4,545.40 308.9,545.41 309.4,545.41 309.9,545.41 310.4,545.42 310.9,545.42 311.4,545.43 311.9,545.43 312.4,545.43 312.9,545.44 313.4,545.44 313.9,545.44 314.4,545.45 314.9,545.45 315.4,545.45 315.9,545.46 316.4,545.46 316.9,545.46 317.4,545.47 317.9,545.47 318.4,545.47 318.9,545.48 319.4,545.48 319.9,545.48 320.4,545.49 320.9,545.49 321.4,545.49 321.9,545.49 322.4,545.50 322.9,545.50 323.4,545.50 323.9,545.51 324.4,545.51 324.9,545.51 325.4,545.51 325.9,545.52 326.4,545.52 326.9,545.52 327.4,545.52 327.9,545.53 328.4,545.53 328.9,545.53 329.4,545.54 329.9,545.54 330.4,545.54 330.9,545.54 331.4,545.54 331.9,545.55 332.4,545.55 332.9,545.55 333.4,545.55 333.9,545.56 334.4,545.56 334.9,545.56 335.4,545.56 335.9,545.57 336.4,545.57 336.9,545.57 337.4,545.57 337.9,545.57 338.4,545.58 338.9,545.58 339.4,545.58 339.9,545.58 340.4,545.58 340.9,545.59 341.4,545.59" fill="none" stroke="#0a0a0a" stroke-width="2.1" stroke-linejoin="round"/>
<polygon points="24.4,711.8 24.4,711.64 24.9,711.64 25.4,711.64 25.9,711.64 26.4,711.64 26.9,711.63 27.4,711.63 27.9,711.63 28.4,711.63 28.9,711.63 29.4,711.63 29.9,711.63 30.4,711.63 30.9,711.63 31.4,711.63 31.9,711.62 32.4,711.62 32.9,711.62 33.4,711.62 33.9,711.62 34.4,711.62 34.9,711.62 35.4,711.62 35.9,711.62 36.4,711.62 36.9,711.61 37.4,711.61 37.9,711.61 38.4,711.61 38.9,711.61 39.4,711.61 39.9,711.61 40.4,711.61 40.9,711.61 41.4,711.60 41.9,711.60 42.4,711.60 42.9,711.60 43.4,711.60 43.9,711.60 44.4,711.60 44.9,711.60 45.4,711.59 45.9,711.59 46.4,711.59 46.9,711.59 47.4,711.59 47.9,711.59 48.4,711.59 48.9,711.58 49.4,711.58 49.9,711.58 50.4,711.58 50.9,711.58 51.4,711.58 51.9,711.58 52.4,711.57 52.9,711.57 53.4,711.57 53.9,711.57 54.4,711.57 54.9,711.57 55.4,711.57 55.9,711.56 56.4,711.56 56.9,711.56 57.4,711.56 57.9,711.56 58.4,711.56 58.9,711.55 59.4,711.55 59.9,711.55 60.4,711.55 60.9,711.55 61.4,711.55 61.9,711.54 62.4,711.54 62.9,711.54 63.4,711.54 63.9,711.54 64.4,711.54 64.9,711.53 65.4,711.53 65.9,711.53 66.4,711.53 66.9,711.53 67.4,711.52 67.9,711.52 68.4,711.52 68.9,711.52 69.4,711.52 69.9,711.51 70.4,711.51 70.9,711.51 71.4,711.51 71.9,711.51 72.4,711.50 72.9,711.50 73.4,711.50 73.9,711.50 74.4,711.49 74.9,711.49 75.4,711.49 75.9,711.49 76.4,711.48 76.9,711.48 77.4,711.48 77.9,711.48 78.4,711.47 78.9,711.47 79.4,711.47 79.9,711.47 80.4,711.46 80.9,711.46 81.4,711.46 81.9,711.46 82.4,711.45 82.9,711.45 83.4,711.45 83.9,711.44 84.4,711.44 84.9,711.44 85.4,711.44 85.9,711.43 86.4,711.43 86.9,711.43 87.4,711.42 87.9,711.42 88.4,711.42 88.9,711.41 89.4,711.41 89.9,711.41 90.4,711.40 90.9,711.40 91.4,711.40 91.9,711.39 92.4,711.39 92.9,711.39 93.4,711.38 93.9,711.38 94.4,711.38 94.9,711.37 95.4,711.37 95.9,711.36 96.4,711.36 96.9,711.36 97.4,711.35 97.9,711.35 98.4,711.34 98.9,711.34 99.4,711.34 99.9,711.33 100.4,711.33 100.9,711.32 101.4,711.32 101.9,711.31 102.4,711.31 102.9,711.30 103.4,711.30 103.9,711.29 104.4,711.29 104.9,711.29 105.4,711.28 105.9,711.27 106.4,711.27 106.9,711.26 107.4,711.26 107.9,711.25 108.4,711.25 108.9,711.24 109.4,711.24 109.9,711.23 110.4,711.23 110.9,711.22 111.4,711.21 111.9,711.21 112.4,711.20 112.9,711.19 113.4,711.19 113.9,711.18 114.4,711.18 114.9,711.17 115.4,711.16 115.9,711.15 116.4,711.15 116.9,711.14 117.4,711.13 117.9,711.13 118.4,711.12 118.9,711.11 119.4,711.10 119.9,711.09 120.4,711.09 120.9,711.08 121.4,711.07 121.9,711.06 122.4,711.05 122.9,711.04 123.4,711.03 123.9,711.02 124.4,711.01 124.9,711.00 125.4,710.99 125.9,710.98 126.4,710.97 126.9,710.96 127.4,710.95 127.9,710.94 128.4,710.93 128.9,710.91 129.4,710.90 129.9,710.89 130.4,710.88 130.9,710.86 131.4,710.85 131.9,710.83 132.4,710.82 132.9,710.80 133.4,710.78 133.9,710.77 134.4,710.75 134.9,710.73 135.4,710.71 135.9,710.69 136.4,710.67 136.9,710.64 137.4,710.62 137.9,710.59 138.4,710.57 138.9,710.54 139.4,710.51 139.9,710.48 140.4,710.44 140.9,710.41 141.4,710.37 141.9,710.33 142.4,710.29 142.9,710.25 143.4,710.20 143.9,710.15 144.4,710.10 144.9,710.04 145.4,709.99 145.9,709.92 146.4,709.85 146.9,709.78 147.4,709.71 147.9,709.63 148.4,709.54 148.9,709.45 149.4,709.35 149.9,709.25 150.4,709.14 150.9,709.02 151.4,708.90 151.9,708.76 152.4,708.62 152.9,708.47 153.4,708.31 153.9,708.14 154.4,707.97 154.9,707.78 155.4,707.57 155.9,707.36 156.4,707.13 156.9,706.89 157.4,706.64 157.9,706.37 158.4,706.09 158.9,705.79 159.4,705.47 159.9,705.14 160.4,704.79 160.9,704.42 161.4,704.03 161.9,703.62 162.4,703.18 162.9,702.73 163.4,702.26 163.9,701.76 164.4,701.24 164.9,700.69 165.4,700.12 165.9,699.52 166.4,698.89 166.9,698.24 167.4,697.56 167.9,696.85 168.4,696.11 168.9,695.34 169.4,694.55 169.9,693.72 170.4,692.86 170.9,691.97 171.4,691.04 171.9,690.09 172.4,689.10 172.9,688.09 173.4,687.04 173.9,685.95 174.4,684.84 174.9,683.69 175.4,682.51 175.9,681.30 176.4,680.06 176.9,678.79 177.4,677.49 177.9,676.16 178.4,674.80 178.9,673.42 179.4,672.00 179.9,670.57 180.4,669.11 180.9,667.62 181.4,666.12 181.9,664.59 182.4,663.05 182.9,661.49 183.4,659.91 183.9,658.33 184.4,656.73 184.9,655.12 185.4,653.51 185.9,651.89 186.4,650.27 186.9,648.65 187.4,647.04 187.9,645.43 188.4,643.83 188.9,642.24 189.4,640.66 189.9,639.10 190.4,637.56 190.9,636.04 191.4,634.55 191.9,633.09 192.4,631.65 192.9,630.26 193.4,628.90 193.9,627.58 194.4,626.30 194.9,625.08 195.4,623.90 195.9,622.77 196.4,621.70 196.9,620.69 197.4,619.73 197.9,618.84 198.4,618.02 198.9,617.27 199.4,616.58 199.9,615.97 200.4,615.43 200.9,614.96 201.4,614.57 201.9,614.26 202.4,614.03 202.9,613.88 203.4,613.81 203.9,613.81 204.4,613.88 204.9,614.01 205.4,614.19 205.9,614.44 206.4,614.75 206.9,615.12 207.4,615.54 207.9,616.03 208.4,616.57 208.9,617.16 209.4,617.81 209.9,618.50 210.4,619.25 210.9,620.05 211.4,620.90 211.9,621.79 212.4,622.73 212.9,623.70 213.4,624.72 213.9,625.78 214.4,626.87 214.9,628.00 215.4,629.16 215.9,630.35 216.4,631.57 216.9,632.82 217.4,634.09 217.9,635.38 218.4,636.70 218.9,638.03 219.4,639.38 219.9,640.74 220.4,642.12 220.9,643.50 221.4,644.90 221.9,646.30 222.4,647.71 222.9,649.12 223.4,650.53 223.9,651.94 224.4,653.36 224.9,654.77 225.4,656.17 225.9,657.57 226.4,658.96 226.9,660.34 227.4,661.71 227.9,663.07 228.4,664.42 228.9,665.75 229.4,667.07 229.9,668.37 230.4,669.66 230.9,670.93 231.4,672.18 231.9,673.41 232.4,674.62 232.9,675.81 233.4,676.98 233.9,678.13 234.4,679.25 234.9,680.35 235.4,681.43 235.9,682.49 236.4,683.52 236.9,684.52 237.4,685.51 237.9,686.46 238.4,687.40 238.9,688.31 239.4,689.19 239.9,690.05 240.4,690.89 240.9,691.70 241.4,692.49 241.9,693.25 242.4,693.99 242.9,694.71 243.4,695.40 243.9,696.07 244.4,696.72 244.9,697.34 245.4,697.94 245.9,698.53 246.4,699.09 246.9,699.63 247.4,700.15 247.9,700.65 248.4,701.13 248.9,701.59 249.4,702.03 249.9,702.46 250.4,702.86 250.9,703.26 251.4,703.63 251.9,703.99 252.4,704.33 252.9,704.66 253.4,704.97 253.9,705.27 254.4,705.56 254.9,705.83 255.4,706.09 255.9,706.34 256.4,706.58 256.9,706.80 257.4,707.02 257.9,707.22 258.4,707.41 258.9,707.60 259.4,707.77 259.9,707.94 260.4,708.10 260.9,708.25 261.4,708.39 261.9,708.53 262.4,708.66 262.9,708.78 263.4,708.89 263.9,709.00 264.4,709.11 264.9,709.20 265.4,709.30 265.9,709.39 266.4,709.47 266.9,709.55 267.4,709.62 267.9,709.69 268.4,709.76 268.9,709.83 269.4,709.89 269.9,709.94 270.4,710.00 270.9,710.05 271.4,710.10 271.9,710.14 272.4,710.19 272.9,710.23 273.4,710.27 273.9,710.31 274.4,710.34 274.9,710.38 275.4,710.41 275.9,710.44 276.4,710.47 276.9,710.49 277.4,710.52 277.9,710.55 278.4,710.57 278.9,710.59 279.4,710.62 279.9,710.64 280.4,710.66 280.9,710.68 281.4,710.70 281.9,710.71 282.4,710.73 282.9,710.75 283.4,710.76 283.9,710.78 284.4,710.79 284.9,710.81 285.4,710.82 285.9,710.84 286.4,710.85 286.9,710.86 287.4,710.87 287.9,710.89 288.4,710.90 288.9,710.91 289.4,710.92 289.9,710.93 290.4,710.94 290.9,710.95 291.4,710.96 291.9,710.97 292.4,710.98 292.9,710.99 293.4,711.00 293.9,711.01 294.4,711.02 294.9,711.02 295.4,711.03 295.9,711.04 296.4,711.05 296.9,711.06 297.4,711.06 297.9,711.07 298.4,711.08 298.9,711.09 299.4,711.09 299.9,711.10 300.4,711.11 300.9,711.11 301.4,711.12 301.9,711.13 302.4,711.13 302.9,711.14 303.4,711.15 303.9,711.15 304.4,711.16 304.9,711.16 305.4,711.17 305.9,711.18 306.4,711.18 306.9,711.19 307.4,711.19 307.9,711.20 308.4,711.20 308.9,711.21 309.4,711.22 309.9,711.22 310.4,711.23 310.9,711.23 311.4,711.24 311.9,711.24 312.4,711.25 312.9,711.25 313.4,711.26 313.9,711.26 314.4,711.26 314.9,711.27 315.4,711.27 315.9,711.28 316.4,711.28 316.9,711.29 317.4,711.29 317.9,711.30 318.4,711.30 318.9,711.30 319.4,711.31 319.9,711.31 320.4,711.32 320.9,711.32 321.4,711.32 321.9,711.33 322.4,711.33 322.9,711.34 323.4,711.34 323.9,711.34 324.4,711.35 324.9,711.35 325.4,711.35 325.9,711.36 326.4,711.36 326.9,711.36 327.4,711.37 327.9,711.37 328.4,711.37 328.9,711.38 329.4,711.38 329.9,711.38 330.4,711.39 330.9,711.39 331.4,711.39 331.9,711.40 332.4,711.40 332.9,711.40 333.4,711.40 333.9,711.41 334.4,711.41 334.9,711.41 335.4,711.42 335.9,711.42 336.4,711.42 336.9,711.42 337.4,711.43 337.9,711.43 338.4,711.43 338.9,711.44 339.4,711.44 339.9,711.44 340.4,711.44 340.9,711.45 341.4,711.45 341.4,711.8" fill="#1db35c"/>
<polygon points="24.4,711.8 24.4,711.71 24.9,711.71 25.4,711.71 25.9,711.71 26.4,711.71 26.9,711.71 27.4,711.71 27.9,711.71 28.4,711.71 28.9,711.71 29.4,711.70 29.9,711.70 30.4,711.70 30.9,711.70 31.4,711.70 31.9,711.70 32.4,711.70 32.9,711.70 33.4,711.70 33.9,711.70 34.4,711.70 34.9,711.70 35.4,711.70 35.9,711.70 36.4,711.70 36.9,711.70 37.4,711.70 37.9,711.69 38.4,711.69 38.9,711.69 39.4,711.69 39.9,711.69 40.4,711.69 40.9,711.69 41.4,711.69 41.9,711.69 42.4,711.69 42.9,711.69 43.4,711.69 43.9,711.69 44.4,711.69 44.9,711.68 45.4,711.68 45.9,711.68 46.4,711.68 46.9,711.68 47.4,711.68 47.9,711.68 48.4,711.68 48.9,711.68 49.4,711.68 49.9,711.68 50.4,711.68 50.9,711.67 51.4,711.67 51.9,711.67 52.4,711.67 52.9,711.67 53.4,711.67 53.9,711.67 54.4,711.67 54.9,711.67 55.4,711.67 55.9,711.67 56.4,711.66 56.9,711.66 57.4,711.66 57.9,711.66 58.4,711.66 58.9,711.66 59.4,711.66 59.9,711.66 60.4,711.66 60.9,711.66 61.4,711.65 61.9,711.65 62.4,711.65 62.9,711.65 63.4,711.65 63.9,711.65 64.4,711.65 64.9,711.65 65.4,711.65 65.9,711.64 66.4,711.64 66.9,711.64 67.4,711.64 67.9,711.64 68.4,711.64 68.9,711.64 69.4,711.64 69.9,711.63 70.4,711.63 70.9,711.63 71.4,711.63 71.9,711.63 72.4,711.63 72.9,711.63 73.4,711.62 73.9,711.62 74.4,711.62 74.9,711.62 75.4,711.62 75.9,711.62 76.4,711.62 76.9,711.61 77.4,711.61 77.9,711.61 78.4,711.61 78.9,711.61 79.4,711.61 79.9,711.60 80.4,711.60 80.9,711.60 81.4,711.60 81.9,711.60 82.4,711.60 82.9,711.59 83.4,711.59 83.9,711.59 84.4,711.59 84.9,711.59 85.4,711.58 85.9,711.58 86.4,711.58 86.9,711.58 87.4,711.58 87.9,711.57 88.4,711.57 88.9,711.57 89.4,711.57 89.9,711.56 90.4,711.56 90.9,711.56 91.4,711.56 91.9,711.55 92.4,711.55 92.9,711.55 93.4,711.55 93.9,711.54 94.4,711.54 94.9,711.54 95.4,711.54 95.9,711.53 96.4,711.53 96.9,711.53 97.4,711.52 97.9,711.52 98.4,711.52 98.9,711.51 99.4,711.51 99.9,711.50 100.4,711.50 100.9,711.50 101.4,711.49 101.9,711.49 102.4,711.48 102.9,711.48 103.4,711.47 103.9,711.47 104.4,711.46 104.9,711.46 105.4,711.45 105.9,711.45 106.4,711.44 106.9,711.43 107.4,711.43 107.9,711.42 108.4,711.41 108.9,711.40 109.4,711.40 109.9,711.39 110.4,711.38 110.9,711.37 111.4,711.36 111.9,711.35 112.4,711.34 112.9,711.33 113.4,711.32 113.9,711.31 114.4,711.29 114.9,711.28 115.4,711.27 115.9,711.25 116.4,711.24 116.9,711.22 117.4,711.20 117.9,711.19 118.4,711.17 118.9,711.15 119.4,711.13 119.9,711.11 120.4,711.08 120.9,711.06 121.4,711.04 121.9,711.01 122.4,710.98 122.9,710.95 123.4,710.93 123.9,710.89 124.4,710.86 124.9,710.83 125.4,710.79 125.9,710.75 126.4,710.72 126.9,710.67 127.4,710.63 127.9,710.59 128.4,710.54 128.9,710.49 129.4,710.44 129.9,710.39 130.4,710.33 130.9,710.27 131.4,710.21 131.9,710.15 132.4,710.08 132.9,710.01 133.4,709.94 133.9,709.87 134.4,709.79 134.9,709.71 135.4,709.62 135.9,709.53 136.4,709.44 136.9,709.35 137.4,709.25 137.9,709.15 138.4,709.04 138.9,708.93 139.4,708.82 139.9,708.70 140.4,708.58 140.9,708.45 141.4,708.32 141.9,708.18 142.4,708.04 142.9,707.90 143.4,707.75 143.9,707.60 144.4,707.44 144.9,707.27 145.4,707.10 145.9,706.93 146.4,706.75 146.9,706.57 147.4,706.38 147.9,706.18 148.4,705.98 148.9,705.78 149.4,705.56 149.9,705.35 150.4,705.13 150.9,704.90 151.4,704.67 151.9,704.43 152.4,704.18 152.9,703.94 153.4,703.68 153.9,703.42 154.4,703.16 154.9,702.89 155.4,702.61 155.9,702.33 156.4,702.05 156.9,701.76 157.4,701.46 157.9,701.16 158.4,700.86 158.9,700.55 159.4,700.23 159.9,699.92 160.4,699.60 160.9,699.27 161.4,698.94 161.9,698.61 162.4,698.27 162.9,697.94 163.4,697.59 163.9,697.25 164.4,696.90 164.9,696.56 165.4,696.21 165.9,695.85 166.4,695.50 166.9,695.15 167.4,694.79 167.9,694.44 168.4,694.08 168.9,693.73 169.4,693.37 169.9,693.02 170.4,692.67 170.9,692.31 171.4,691.97 171.9,691.62 172.4,691.28 172.9,690.93 173.4,690.60 173.9,690.26 174.4,689.93 174.9,689.61 175.4,689.29 175.9,688.97 176.4,688.67 176.9,688.36 177.4,688.07 177.9,687.78 178.4,687.49 178.9,687.22 179.4,686.95 179.9,686.70 180.4,686.45 180.9,686.21 181.4,685.98 181.9,685.76 182.4,685.55 182.9,685.35 183.4,685.16 183.9,684.98 184.4,684.82 184.9,684.66 185.4,684.52 185.9,684.39 186.4,684.27 186.9,684.17 187.4,684.08 187.9,684.00 188.4,683.93 188.9,683.88 189.4,683.84 189.9,683.81 190.4,683.80 190.9,683.80 191.4,683.82 191.9,683.85 192.4,683.89 192.9,683.94 193.4,684.01 193.9,684.09 194.4,684.19 194.9,684.29 195.4,684.41 195.9,684.55 196.4,684.69 196.9,684.85 197.4,685.02 197.9,685.20 198.4,685.39 198.9,685.59 199.4,685.80 199.9,686.02 200.4,686.25 200.9,686.50 201.4,686.75 201.9,687.01 202.4,687.27 202.9,687.55 203.4,687.83 203.9,688.12 204.4,688.42 204.9,688.73 205.4,689.04 205.9,689.35 206.4,689.67 206.9,690.00 207.4,690.33 207.9,690.66 208.4,691.00 208.9,691.34 209.4,691.69 209.9,692.04 210.4,692.38 210.9,692.74 211.4,693.09 211.9,693.44 212.4,693.80 212.9,694.15 213.4,694.51 213.9,694.86 214.4,695.22 214.9,695.57 215.4,695.92 215.9,696.28 216.4,696.63 216.9,696.97 217.4,697.32 217.9,697.66 218.4,698.00 218.9,698.34 219.4,698.68 219.9,699.01 220.4,699.34 220.9,699.66 221.4,699.98 221.9,700.30 222.4,700.61 222.9,700.92 223.4,701.22 223.9,701.52 224.4,701.81 224.9,702.10 225.4,702.39 225.9,702.67 226.4,702.94 226.9,703.21 227.4,703.47 227.9,703.73 228.4,703.99 228.9,704.23 229.4,704.48 229.9,704.71 230.4,704.95 230.9,705.17 231.4,705.39 231.9,705.61 232.4,705.82 232.9,706.02 233.4,706.22 233.9,706.42 234.4,706.60 234.9,706.79 235.4,706.97 235.9,707.14 236.4,707.31 236.9,707.47 237.4,707.63 237.9,707.78 238.4,707.93 238.9,708.07 239.4,708.21 239.9,708.35 240.4,708.48 240.9,708.60 241.4,708.72 241.9,708.84 242.4,708.95 242.9,709.06 243.4,709.17 243.9,709.27 244.4,709.37 244.9,709.46 245.4,709.55 245.9,709.64 246.4,709.72 246.9,709.80 247.4,709.88 247.9,709.96 248.4,710.03 248.9,710.10 249.4,710.16 249.9,710.22 250.4,710.28 250.9,710.34 251.4,710.40 251.9,710.45 252.4,710.50 252.9,710.55 253.4,710.60 253.9,710.64 254.4,710.68 254.9,710.72 255.4,710.76 255.9,710.80 256.4,710.83 256.9,710.87 257.4,710.90 257.9,710.93 258.4,710.96 258.9,710.99 259.4,711.02 259.9,711.04 260.4,711.07 260.9,711.09 261.4,711.11 261.9,711.13 262.4,711.15 262.9,711.17 263.4,711.19 263.9,711.21 264.4,711.22 264.9,711.24 265.4,711.25 265.9,711.27 266.4,711.28 266.9,711.30 267.4,711.31 267.9,711.32 268.4,711.33 268.9,711.34 269.4,711.35 269.9,711.36 270.4,711.37 270.9,711.38 271.4,711.39 271.9,711.40 272.4,711.41 272.9,711.41 273.4,711.42 273.9,711.43 274.4,711.43 274.9,711.44 275.4,711.45 275.9,711.45 276.4,711.46 276.9,711.46 277.4,711.47 277.9,711.47 278.4,711.48 278.9,711.48 279.4,711.49 279.9,711.49 280.4,711.50 280.9,711.50 281.4,711.50 281.9,711.51 282.4,711.51 282.9,711.52 283.4,711.52 283.9,711.52 284.4,711.53 284.9,711.53 285.4,711.53 285.9,711.54 286.4,711.54 286.9,711.54 287.4,711.54 287.9,711.55 288.4,711.55 288.9,711.55 289.4,711.56 289.9,711.56 290.4,711.56 290.9,711.56 291.4,711.57 291.9,711.57 292.4,711.57 292.9,711.57 293.4,711.57 293.9,711.58 294.4,711.58 294.9,711.58 295.4,711.58 295.9,711.58 296.4,711.59 296.9,711.59 297.4,711.59 297.9,711.59 298.4,711.59 298.9,711.60 299.4,711.60 299.9,711.60 300.4,711.60 300.9,711.60 301.4,711.60 301.9,711.61 302.4,711.61 302.9,711.61 303.4,711.61 303.9,711.61 304.4,711.61 304.9,711.62 305.4,711.62 305.9,711.62 306.4,711.62 306.9,711.62 307.4,711.62 307.9,711.62 308.4,711.63 308.9,711.63 309.4,711.63 309.9,711.63 310.4,711.63 310.9,711.63 311.4,711.63 311.9,711.64 312.4,711.64 312.9,711.64 313.4,711.64 313.9,711.64 314.4,711.64 314.9,711.64 315.4,711.64 315.9,711.65 316.4,711.65 316.9,711.65 317.4,711.65 317.9,711.65 318.4,711.65 318.9,711.65 319.4,711.65 319.9,711.65 320.4,711.66 320.9,711.66 321.4,711.66 321.9,711.66 322.4,711.66 322.9,711.66 323.4,711.66 323.9,711.66 324.4,711.66 324.9,711.66 325.4,711.67 325.9,711.67 326.4,711.67 326.9,711.67 327.4,711.67 327.9,711.67 328.4,711.67 328.9,711.67 329.4,711.67 329.9,711.67 330.4,711.67 330.9,711.68 331.4,711.68 331.9,711.68 332.4,711.68 332.9,711.68 333.4,711.68 333.9,711.68 334.4,711.68 334.9,711.68 335.4,711.68 335.9,711.68 336.4,711.68 336.9,711.69 337.4,711.69 337.9,711.69 338.4,711.69 338.9,711.69 339.4,711.69 339.9,711.69 340.4,711.69 340.9,711.69 341.4,711.69 341.4,711.8" fill="rgba(165,106,188,0.88)"/>
<polyline points="24.4,711.55 24.9,711.55 25.4,711.55 25.9,711.55 26.4,711.55 26.9,711.55 27.4,711.55 27.9,711.54 28.4,711.54 28.9,711.54 29.4,711.54 29.9,711.54 30.4,711.54 30.9,711.53 31.4,711.53 31.9,711.53 32.4,711.53 32.9,711.53 33.4,711.53 33.9,711.53 34.4,711.52 34.9,711.52 35.4,711.52 35.9,711.52 36.4,711.52 36.9,711.52 37.4,711.51 37.9,711.51 38.4,711.51 38.9,711.51 39.4,711.51 39.9,711.50 40.4,711.50 40.9,711.50 41.4,711.50 41.9,711.50 42.4,711.50 42.9,711.49 43.4,711.49 43.9,711.49 44.4,711.49 44.9,711.49 45.4,711.48 45.9,711.48 46.4,711.48 46.9,711.48 47.4,711.48 47.9,711.47 48.4,711.47 48.9,711.47 49.4,711.47 49.9,711.46 50.4,711.46 50.9,711.46 51.4,711.46 51.9,711.46 52.4,711.45 52.9,711.45 53.4,711.45 53.9,711.45 54.4,711.44 54.9,711.44 55.4,711.44 55.9,711.44 56.4,711.43 56.9,711.43 57.4,711.43 57.9,711.43 58.4,711.42 58.9,711.42 59.4,711.42 59.9,711.42 60.4,711.41 60.9,711.41 61.4,711.41 61.9,711.41 62.4,711.40 62.9,711.40 63.4,711.40 63.9,711.39 64.4,711.39 64.9,711.39 65.4,711.38 65.9,711.38 66.4,711.38 66.9,711.38 67.4,711.37 67.9,711.37 68.4,711.37 68.9,711.36 69.4,711.36 69.9,711.36 70.4,711.35 70.9,711.35 71.4,711.35 71.9,711.34 72.4,711.34 72.9,711.34 73.4,711.33 73.9,711.33 74.4,711.32 74.9,711.32 75.4,711.32 75.9,711.31 76.4,711.31 76.9,711.31 77.4,711.30 77.9,711.30 78.4,711.29 78.9,711.29 79.4,711.29 79.9,711.28 80.4,711.28 80.9,711.27 81.4,711.27 81.9,711.26 82.4,711.26 82.9,711.25 83.4,711.25 83.9,711.25 84.4,711.24 84.9,711.24 85.4,711.23 85.9,711.23 86.4,711.22 86.9,711.22 87.4,711.21 87.9,711.21 88.4,711.20 88.9,711.20 89.4,711.19 89.9,711.18 90.4,711.18 90.9,711.17 91.4,711.17 91.9,711.16 92.4,711.16 92.9,711.15 93.4,711.14 93.9,711.14 94.4,711.13 94.9,711.12 95.4,711.12 95.9,711.11 96.4,711.10 96.9,711.10 97.4,711.09 97.9,711.08 98.4,711.07 98.9,711.07 99.4,711.06 99.9,711.05 100.4,711.04 100.9,711.03 101.4,711.03 101.9,711.02 102.4,711.01 102.9,711.00 103.4,710.99 103.9,710.98 104.4,710.97 104.9,710.96 105.4,710.95 105.9,710.94 106.4,710.93 106.9,710.92 107.4,710.90 107.9,710.89 108.4,710.88 108.9,710.87 109.4,710.85 109.9,710.84 110.4,710.83 110.9,710.81 111.4,710.80 111.9,710.78 112.4,710.76 112.9,710.75 113.4,710.73 113.9,710.71 114.4,710.69 114.9,710.67 115.4,710.65 115.9,710.63 116.4,710.61 116.9,710.59 117.4,710.57 117.9,710.54 118.4,710.52 118.9,710.49 119.4,710.46 119.9,710.44 120.4,710.41 120.9,710.38 121.4,710.34 121.9,710.31 122.4,710.28 122.9,710.24 123.4,710.20 123.9,710.16 124.4,710.12 124.9,710.08 125.4,710.04 125.9,709.99 126.4,709.94 126.9,709.89 127.4,709.84 127.9,709.79 128.4,709.73 128.9,709.67 129.4,709.61 129.9,709.55 130.4,709.48 130.9,709.41 131.4,709.34 131.9,709.26 132.4,709.18 132.9,709.10 133.4,709.02 133.9,708.93 134.4,708.84 134.9,708.74 135.4,708.64 135.9,708.54 136.4,708.43 136.9,708.31 137.4,708.20 137.9,708.07 138.4,707.95 138.9,707.81 139.4,707.68 139.9,707.53 140.4,707.38 140.9,707.23 141.4,707.07 141.9,706.90 142.4,706.73 142.9,706.54 143.4,706.36 143.9,706.16 144.4,705.96 144.9,705.74 145.4,705.52 145.9,705.30 146.4,705.06 146.9,704.81 147.4,704.56 147.9,704.29 148.4,704.01 148.9,703.73 149.4,703.43 149.9,703.12 150.4,702.80 150.9,702.47 151.4,702.12 151.9,701.76 152.4,701.39 152.9,701.00 153.4,700.60 153.9,700.19 154.4,699.75 154.9,699.31 155.4,698.84 155.9,698.36 156.4,697.87 156.9,697.35 157.4,696.82 157.9,696.26 158.4,695.69 158.9,695.10 159.4,694.48 159.9,693.85 160.4,693.19 160.9,692.51 161.4,691.81 161.9,691.09 162.4,690.34 162.9,689.56 163.4,688.76 163.9,687.94 164.4,687.08 164.9,686.21 165.4,685.30 165.9,684.37 166.4,683.41 166.9,682.42 167.4,681.40 167.9,680.36 168.4,679.28 168.9,678.17 169.4,677.04 169.9,675.87 170.4,674.68 170.9,673.46 171.4,672.20 171.9,670.92 172.4,669.61 172.9,668.26 173.4,666.89 173.9,665.49 174.4,664.06 174.9,662.61 175.4,661.13 175.9,659.62 176.4,658.08 176.9,656.52 177.4,654.94 177.9,653.34 178.4,651.71 178.9,650.07 179.4,648.40 179.9,646.72 180.4,645.02 180.9,643.31 181.4,641.59 181.9,639.85 182.4,638.11 182.9,636.36 183.4,634.61 183.9,632.85 184.4,631.09 184.9,629.34 185.4,627.59 185.9,625.85 186.4,624.12 186.9,622.40 187.4,620.70 187.9,619.01 188.4,617.35 188.9,615.71 189.4,614.10 189.9,612.51 190.4,610.96 190.9,609.44 191.4,607.97 191.9,606.53 192.4,605.14 192.9,603.79 193.4,602.50 193.9,601.26 194.4,600.07 194.9,598.95 195.4,597.88 195.9,596.88 196.4,595.95 196.9,595.08 197.4,594.29 197.9,593.57 198.4,592.93 198.9,592.36 199.4,591.88 199.9,591.48 200.4,591.16 200.9,590.92 201.4,590.77 201.9,590.71 202.4,590.73 202.9,590.84 203.4,591.04 203.9,591.32 204.4,591.69 204.9,592.15 205.4,592.69 205.9,593.32 206.4,594.03 206.9,594.82 207.4,595.69 207.9,596.63 208.4,597.65 208.9,598.75 209.4,599.91 209.9,601.14 210.4,602.44 210.9,603.80 211.4,605.22 211.9,606.69 212.4,608.21 212.9,609.79 213.4,611.41 213.9,613.08 214.4,614.78 214.9,616.52 215.4,618.30 215.9,620.10 216.4,621.93 216.9,623.78 217.4,625.65 217.9,627.54 218.4,629.45 218.9,631.36 219.4,633.28 219.9,635.21 220.4,637.14 220.9,639.06 221.4,640.99 221.9,642.91 222.4,644.81 222.9,646.71 223.4,648.60 223.9,650.46 224.4,652.32 224.9,654.15 225.4,655.96 225.9,657.74 226.4,659.50 226.9,661.24 227.4,662.95 227.9,664.62 228.4,666.27 228.9,667.89 229.4,669.47 229.9,671.02 230.4,672.53 230.9,674.01 231.4,675.46 231.9,676.87 232.4,678.24 232.9,679.57 233.4,680.87 233.9,682.13 234.4,683.36 234.9,684.54 235.4,685.69 235.9,686.80 236.4,687.88 236.9,688.92 237.4,689.92 237.9,690.89 238.4,691.82 238.9,692.72 239.4,693.59 239.9,694.42 240.4,695.22 240.9,695.98 241.4,696.72 241.9,697.42 242.4,698.10 242.9,698.74 243.4,699.36 243.9,699.95 244.4,700.51 244.9,701.05 245.4,701.56 245.9,702.05 246.4,702.52 246.9,702.96 247.4,703.38 247.9,703.78 248.4,704.16 248.9,704.53 249.4,704.87 249.9,705.19 250.4,705.50 250.9,705.79 251.4,706.07 251.9,706.33 252.4,706.58 252.9,706.81 253.4,707.04 253.9,707.24 254.4,707.44 254.9,707.63 255.4,707.80 255.9,707.97 256.4,708.13 256.9,708.28 257.4,708.42 257.9,708.55 258.4,708.67 258.9,708.79 259.4,708.90 259.9,709.00 260.4,709.10 260.9,709.19 261.4,709.28 261.9,709.36 262.4,709.44 262.9,709.51 263.4,709.58 263.9,709.65 264.4,709.71 264.9,709.77 265.4,709.82 265.9,709.88 266.4,709.92 266.9,709.97 267.4,710.02 267.9,710.06 268.4,710.10 268.9,710.14 269.4,710.17 269.9,710.21 270.4,710.24 270.9,710.27 271.4,710.30 271.9,710.33 272.4,710.36 272.9,710.38 273.4,710.41 273.9,710.43 274.4,710.46 274.9,710.48 275.4,710.50 275.9,710.52 276.4,710.54 276.9,710.56 277.4,710.58 277.9,710.59 278.4,710.61 278.9,710.63 279.4,710.65 279.9,710.66 280.4,710.68 280.9,710.69 281.4,710.71 281.9,710.72 282.4,710.73 282.9,710.75 283.4,710.76 283.9,710.77 284.4,710.78 284.9,710.80 285.4,710.81 285.9,710.82 286.4,710.83 286.9,710.84 287.4,710.85 287.9,710.86 288.4,710.87 288.9,710.88 289.4,710.89 289.9,710.90 290.4,710.91 290.9,710.92 291.4,710.93 291.9,710.94 292.4,710.95 292.9,710.96 293.4,710.97 293.9,710.98 294.4,710.99 294.9,710.99 295.4,711.00 295.9,711.01 296.4,711.02 296.9,711.03 297.4,711.03 297.9,711.04 298.4,711.05 298.9,711.06 299.4,711.06 299.9,711.07 300.4,711.08 300.9,711.08 301.4,711.09 301.9,711.10 302.4,711.10 302.9,711.11 303.4,711.12 303.9,711.12 304.4,711.13 304.9,711.14 305.4,711.14 305.9,711.15 306.4,711.15 306.9,711.16 307.4,711.16 307.9,711.17 308.4,711.18 308.9,711.18 309.4,711.19 309.9,711.19 310.4,711.20 310.9,711.20 311.4,711.21 311.9,711.21 312.4,711.22 312.9,711.22 313.4,711.23 313.9,711.23 314.4,711.24 314.9,711.24 315.4,711.25 315.9,711.25 316.4,711.26 316.9,711.26 317.4,711.27 317.9,711.27 318.4,711.27 318.9,711.28 319.4,711.28 319.9,711.29 320.4,711.29 320.9,711.29 321.4,711.30 321.9,711.30 322.4,711.31 322.9,711.31 323.4,711.31 323.9,711.32 324.4,711.32 324.9,711.33 325.4,711.33 325.9,711.33 326.4,711.34 326.9,711.34 327.4,711.34 327.9,711.35 328.4,711.35 328.9,711.35 329.4,711.36 329.9,711.36 330.4,711.36 330.9,711.37 331.4,711.37 331.9,711.37 332.4,711.38 332.9,711.38 333.4,711.38 333.9,711.39 334.4,711.39 334.9,711.39 335.4,711.39 335.9,711.40 336.4,711.40 336.9,711.40 337.4,711.41 337.9,711.41 338.4,711.41 338.9,711.41 339.4,711.42 339.9,711.42 340.4,711.42 340.9,711.42 341.4,711.43" fill="none" stroke="#0a0a0a" stroke-width="2.1" stroke-linejoin="round"/>
<line x1="23.4" y1="557.9" x2="342.4" y2="557.9" stroke="#111" stroke-width="2.2"/>
<line x1="24.4" y1="557.9" x2="24.4" y2="553.4" stroke="#111" stroke-width="2"/>
<line x1="103.7" y1="557.9" x2="103.7" y2="553.4" stroke="#111" stroke-width="2"/>
<line x1="182.9" y1="557.9" x2="182.9" y2="553.4" stroke="#111" stroke-width="2"/>
<line x1="262.1" y1="557.9" x2="262.1" y2="553.4" stroke="#111" stroke-width="2"/>
<line x1="341.4" y1="557.9" x2="341.4" y2="553.4" stroke="#111" stroke-width="2"/>
<line x1="64.0" y1="557.9" x2="64.0" y2="555.4" stroke="#111" stroke-width="1.6"/>
<line x1="143.3" y1="557.9" x2="143.3" y2="555.4" stroke="#111" stroke-width="1.6"/>
<line x1="222.5" y1="557.9" x2="222.5" y2="555.4" stroke="#111" stroke-width="1.6"/>
<line x1="301.8" y1="557.9" x2="301.8" y2="555.4" stroke="#111" stroke-width="1.6"/>
<line x1="23.4" y1="723.6" x2="342.4" y2="723.6" stroke="#111" stroke-width="2.2"/>
<line x1="24.4" y1="723.6" x2="24.4" y2="719.1" stroke="#111" stroke-width="2"/>
<line x1="103.7" y1="723.6" x2="103.7" y2="719.1" stroke="#111" stroke-width="2"/>
<line x1="182.9" y1="723.6" x2="182.9" y2="719.1" stroke="#111" stroke-width="2"/>
<line x1="262.1" y1="723.6" x2="262.1" y2="719.1" stroke="#111" stroke-width="2"/>
<line x1="341.4" y1="723.6" x2="341.4" y2="719.1" stroke="#111" stroke-width="2"/>
<line x1="64.0" y1="723.6" x2="64.0" y2="721.1" stroke="#111" stroke-width="1.6"/>
<line x1="143.3" y1="723.6" x2="143.3" y2="721.1" stroke="#111" stroke-width="1.6"/>
<line x1="222.5" y1="723.6" x2="222.5" y2="721.1" stroke="#111" stroke-width="1.6"/>
<line x1="301.8" y1="723.6" x2="301.8" y2="721.1" stroke="#111" stroke-width="1.6"/>
<text x="24.4" y="742.8" font-size="17.5" fill="#1a1a1a" text-anchor="middle"  stroke="#1a1a1a" stroke-width="0.3">1.0</text>
<text x="103.7" y="742.8" font-size="17.5" fill="#1a1a1a" text-anchor="middle"  stroke="#1a1a1a" stroke-width="0.3">0.5</text>
<text x="182.9" y="742.8" font-size="17.5" fill="#1a1a1a" text-anchor="middle"  stroke="#1a1a1a" stroke-width="0.3">0.0</text>
<text x="262.1" y="742.8" font-size="17.5" fill="#1a1a1a" text-anchor="middle"  stroke="#1a1a1a" stroke-width="0.3">-0.5</text>
<text x="341.4" y="742.8" font-size="17.5" fill="#1a1a1a" text-anchor="middle"  stroke="#1a1a1a" stroke-width="0.3">-1.0</text>
<text x="182.9" y="761.5" font-size="18" fill="#1a1a1a" text-anchor="middle" stroke="#1a1a1a" stroke-width="0.3"><tspan font-size="12.5" dy="-7">6</tspan><tspan dy="7">Li shift (ppm)</tspan></text>
<text x="22.9" y="437.0" font-size="20" fill="#1a1a1a" text-anchor="start"  stroke="#1a1a1a" stroke-width="0.3">(d)</text>
<text x="88.1" y="437.2" font-size="18.9" fill="#1a1a1a" text-anchor="start"  stroke="#1a1a1a" stroke-width="0.3">PL</text>
<text x="107.6" y="512.5" font-size="16.7" fill="#a87bc1" text-anchor="start"  stroke="#a87bc1" stroke-width="0.3">21.8%</text>
<text x="226.7" y="495.4" font-size="16.7" fill="#20a058" text-anchor="start"  stroke="#20a058" stroke-width="0.3">78.2%</text>
<text x="107.2" y="673.2" font-size="16.7" fill="#a87bc1" text-anchor="start"  stroke="#a87bc1" stroke-width="0.3">26.1%</text>
<text x="243.3" y="658.1" font-size="16.7" fill="#20a058" text-anchor="start"  stroke="#20a058" stroke-width="0.3">73.9%</text>
<polygon points="418.4,548.4 418.4,548.20 418.9,548.19 419.4,548.19 419.9,548.19 420.4,548.19 420.9,548.19 421.4,548.19 421.9,548.19 422.4,548.19 422.9,548.18 423.4,548.18 423.9,548.18 424.4,548.18 424.9,548.18 425.4,548.18 425.9,548.18 426.4,548.17 426.9,548.17 427.4,548.17 427.9,548.17 428.4,548.17 428.9,548.17 429.4,548.17 429.9,548.16 430.4,548.16 430.9,548.16 431.4,548.16 431.9,548.16 432.4,548.16 432.9,548.16 433.4,548.15 433.9,548.15 434.4,548.15 434.9,548.15 435.4,548.15 435.9,548.15 436.4,548.14 436.9,548.14 437.4,548.14 437.9,548.14 438.4,548.14 438.9,548.14 439.4,548.13 439.9,548.13 440.4,548.13 440.9,548.13 441.4,548.13 441.9,548.13 442.4,548.12 442.9,548.12 443.4,548.12 443.9,548.12 444.4,548.12 444.9,548.11 445.4,548.11 445.9,548.11 446.4,548.11 446.9,548.11 447.4,548.10 447.9,548.10 448.4,548.10 448.9,548.10 449.4,548.10 449.9,548.09 450.4,548.09 450.9,548.09 451.4,548.09 451.9,548.08 452.4,548.08 452.9,548.08 453.4,548.08 453.9,548.07 454.4,548.07 454.9,548.07 455.4,548.07 455.9,548.07 456.4,548.06 456.9,548.06 457.4,548.06 457.9,548.06 458.4,548.05 458.9,548.05 459.4,548.05 459.9,548.04 460.4,548.04 460.9,548.04 461.4,548.04 461.9,548.03 462.4,548.03 462.9,548.03 463.4,548.02 463.9,548.02 464.4,548.02 464.9,548.02 465.4,548.01 465.9,548.01 466.4,548.01 466.9,548.00 467.4,548.00 467.9,548.00 468.4,547.99 468.9,547.99 469.4,547.99 469.9,547.98 470.4,547.98 470.9,547.98 471.4,547.97 471.9,547.97 472.4,547.97 472.9,547.96 473.4,547.96 473.9,547.95 474.4,547.95 474.9,547.95 475.4,547.94 475.9,547.94 476.4,547.94 476.9,547.93 477.4,547.93 477.9,547.92 478.4,547.92 478.9,547.91 479.4,547.91 479.9,547.91 480.4,547.90 480.9,547.90 481.4,547.89 481.9,547.89 482.4,547.88 482.9,547.88 483.4,547.87 483.9,547.87 484.4,547.86 484.9,547.86 485.4,547.85 485.9,547.85 486.4,547.84 486.9,547.84 487.4,547.83 487.9,547.83 488.4,547.82 488.9,547.82 489.4,547.81 489.9,547.80 490.4,547.80 490.9,547.79 491.4,547.79 491.9,547.78 492.4,547.77 492.9,547.77 493.4,547.76 493.9,547.75 494.4,547.75 494.9,547.74 495.4,547.73 495.9,547.73 496.4,547.72 496.9,547.71 497.4,547.70 497.9,547.70 498.4,547.69 498.9,547.68 499.4,547.67 499.9,547.67 500.4,547.66 500.9,547.65 501.4,547.64 501.9,547.63 502.4,547.62 502.9,547.61 503.4,547.60 503.9,547.59 504.4,547.58 504.9,547.57 505.4,547.56 505.9,547.55 506.4,547.54 506.9,547.53 507.4,547.52 507.9,547.51 508.4,547.50 508.9,547.48 509.4,547.47 509.9,547.46 510.4,547.44 510.9,547.43 511.4,547.41 511.9,547.40 512.4,547.38 512.9,547.36 513.4,547.35 513.9,547.33 514.4,547.31 514.9,547.29 515.4,547.27 515.9,547.25 516.4,547.23 516.9,547.20 517.4,547.18 517.9,547.15 518.4,547.12 518.9,547.09 519.4,547.06 519.9,547.03 520.4,547.00 520.9,546.96 521.4,546.93 521.9,546.89 522.4,546.84 522.9,546.80 523.4,546.75 523.9,546.70 524.4,546.65 524.9,546.60 525.4,546.54 525.9,546.47 526.4,546.41 526.9,546.34 527.4,546.26 527.9,546.19 528.4,546.10 528.9,546.01 529.4,545.92 529.9,545.82 530.4,545.72 530.9,545.61 531.4,545.49 531.9,545.36 532.4,545.23 532.9,545.09 533.4,544.94 533.9,544.79 534.4,544.62 534.9,544.44 535.4,544.26 535.9,544.06 536.4,543.86 536.9,543.64 537.4,543.41 537.9,543.17 538.4,542.91 538.9,542.65 539.4,542.36 539.9,542.07 540.4,541.76 540.9,541.43 541.4,541.08 541.9,540.72 542.4,540.34 542.9,539.95 543.4,539.53 543.9,539.10 544.4,538.64 544.9,538.17 545.4,537.67 545.9,537.15 546.4,536.61 546.9,536.05 547.4,535.46 547.9,534.85 548.4,534.22 548.9,533.56 549.4,532.87 549.9,532.16 550.4,531.42 550.9,530.66 551.4,529.87 551.9,529.05 552.4,528.21 552.9,527.34 553.4,526.44 553.9,525.51 554.4,524.56 554.9,523.57 555.4,522.56 555.9,521.52 556.4,520.45 556.9,519.36 557.4,518.24 557.9,517.09 558.4,515.92 558.9,514.72 559.4,513.49 559.9,512.24 560.4,510.96 560.9,509.67 561.4,508.35 561.9,507.01 562.4,505.64 562.9,504.26 563.4,502.86 563.9,501.45 564.4,500.02 564.9,498.57 565.4,497.11 565.9,495.64 566.4,494.16 566.9,492.67 567.4,491.18 567.9,489.68 568.4,488.18 568.9,486.68 569.4,485.18 569.9,483.69 570.4,482.20 570.9,480.72 571.4,479.25 571.9,477.79 572.4,476.34 572.9,474.92 573.4,473.51 573.9,472.13 574.4,470.76 574.9,469.43 575.4,468.13 575.9,466.85 576.4,465.62 576.9,464.42 577.4,463.25 577.9,462.13 578.4,461.06 578.9,460.03 579.4,459.04 579.9,458.11 580.4,457.23 580.9,456.41 581.4,455.64 581.9,454.94 582.4,454.29 582.9,453.70 583.4,453.18 583.9,452.73 584.4,452.33 584.9,452.01 585.4,451.76 585.9,451.57 586.4,451.45 586.9,451.40 587.4,451.42 587.9,451.49 588.4,451.61 588.9,451.78 589.4,452.01 589.9,452.29 590.4,452.62 590.9,453.00 591.4,453.42 591.9,453.90 592.4,454.43 592.9,455.00 593.4,455.62 593.9,456.29 594.4,457.00 594.9,457.75 595.4,458.54 595.9,459.37 596.4,460.24 596.9,461.14 597.4,462.08 597.9,463.05 598.4,464.06 598.9,465.10 599.4,466.16 599.9,467.25 600.4,468.37 600.9,469.51 601.4,470.68 601.9,471.86 602.4,473.06 602.9,474.29 603.4,475.52 603.9,476.77 604.4,478.04 604.9,479.31 605.4,480.59 605.9,481.89 606.4,483.18 606.9,484.49 607.4,485.79 607.9,487.10 608.4,488.41 608.9,489.72 609.4,491.03 609.9,492.33 610.4,493.63 610.9,494.93 611.4,496.21 611.9,497.49 612.4,498.76 612.9,500.03 613.4,501.28 613.9,502.51 614.4,503.74 614.9,504.95 615.4,506.15 615.9,507.33 616.4,508.50 616.9,509.65 617.4,510.79 617.9,511.90 618.4,513.00 618.9,514.08 619.4,515.14 619.9,516.18 620.4,517.20 620.9,518.21 621.4,519.19 621.9,520.15 622.4,521.09 622.9,522.00 623.4,522.90 623.9,523.78 624.4,524.63 624.9,525.47 625.4,526.28 625.9,527.07 626.4,527.84 626.9,528.59 627.4,529.32 627.9,530.02 628.4,530.71 628.9,531.38 629.4,532.02 629.9,532.65 630.4,533.25 630.9,533.84 631.4,534.41 631.9,534.96 632.4,535.49 632.9,536.00 633.4,536.49 633.9,536.97 634.4,537.43 634.9,537.87 635.4,538.30 635.9,538.71 636.4,539.11 636.9,539.49 637.4,539.85 637.9,540.20 638.4,540.54 638.9,540.86 639.4,541.18 639.9,541.47 640.4,541.76 640.9,542.03 641.4,542.29 641.9,542.54 642.4,542.78 642.9,543.01 643.4,543.23 643.9,543.44 644.4,543.64 644.9,543.83 645.4,544.01 645.9,544.18 646.4,544.35 646.9,544.51 647.4,544.66 647.9,544.80 648.4,544.94 648.9,545.07 649.4,545.19 649.9,545.31 650.4,545.42 650.9,545.53 651.4,545.63 651.9,545.73 652.4,545.82 652.9,545.90 653.4,545.99 653.9,546.07 654.4,546.14 654.9,546.21 655.4,546.28 655.9,546.34 656.4,546.40 656.9,546.46 657.4,546.52 657.9,546.57 658.4,546.62 658.9,546.67 659.4,546.71 659.9,546.76 660.4,546.80 660.9,546.84 661.4,546.87 661.9,546.91 662.4,546.94 662.9,546.97 663.4,547.00 663.9,547.03 664.4,547.06 664.9,547.09 665.4,547.11 665.9,547.14 666.4,547.16 666.9,547.18 667.4,547.20 667.9,547.23 668.4,547.25 668.9,547.26 669.4,547.28 669.9,547.30 670.4,547.32 670.9,547.33 671.4,547.35 671.9,547.36 672.4,547.38 672.9,547.39 673.4,547.41 673.9,547.42 674.4,547.43 674.9,547.45 675.4,547.46 675.9,547.47 676.4,547.48 676.9,547.49 677.4,547.50 677.9,547.51 678.4,547.52 678.9,547.53 679.4,547.54 679.9,547.55 680.4,547.56 680.9,547.57 681.4,547.58 681.9,547.59 682.4,547.60 682.9,547.61 683.4,547.61 683.9,547.62 684.4,547.63 684.9,547.64 685.4,547.64 685.9,547.65 686.4,547.66 686.9,547.67 687.4,547.67 687.9,547.68 688.4,547.69 688.9,547.69 689.4,547.70 689.9,547.71 690.4,547.71 690.9,547.72 691.4,547.73 691.9,547.73 692.4,547.74 692.9,547.74 693.4,547.75 693.9,547.76 694.4,547.76 694.9,547.77 695.4,547.77 695.9,547.78 696.4,547.78 696.9,547.79 697.4,547.79 697.9,547.80 698.4,547.81 698.9,547.81 699.4,547.82 699.9,547.82 700.4,547.82 700.9,547.83 701.4,547.83 701.9,547.84 702.4,547.84 702.9,547.85 703.4,547.85 703.9,547.86 704.4,547.86 704.9,547.87 705.4,547.87 705.9,547.87 706.4,547.88 706.9,547.88 707.4,547.89 707.9,547.89 708.4,547.90 708.9,547.90 709.4,547.90 709.9,547.91 710.4,547.91 710.9,547.91 711.4,547.92 711.9,547.92 712.4,547.93 712.9,547.93 713.4,547.93 713.9,547.94 714.4,547.94 714.9,547.94 715.4,547.95 715.9,547.95 716.4,547.95 716.9,547.96 717.4,547.96 717.9,547.96 718.4,547.97 718.9,547.97 719.4,547.97 719.9,547.98 720.4,547.98 720.9,547.98 721.4,547.98 721.9,547.99 722.4,547.99 722.9,547.99 723.4,548.00 723.9,548.00 724.4,548.00 724.9,548.00 725.4,548.01 725.9,548.01 726.4,548.01 726.9,548.02 727.4,548.02 727.9,548.02 728.4,548.02 728.9,548.03 729.4,548.03 729.9,548.03 730.4,548.03 730.9,548.04 731.4,548.04 731.9,548.04 732.4,548.04 732.9,548.05 733.4,548.05 733.9,548.05 734.4,548.05 734.9,548.05 735.4,548.06 735.4,548.4" fill="#1db35c"/>
<polygon points="418.4,548.4 418.4,548.31 418.9,548.31 419.4,548.31 419.9,548.31 420.4,548.31 420.9,548.31 421.4,548.31 421.9,548.31 422.4,548.31 422.9,548.31 423.4,548.31 423.9,548.30 424.4,548.30 424.9,548.30 425.4,548.30 425.9,548.30 426.4,548.30 426.9,548.30 427.4,548.30 427.9,548.30 428.4,548.30 428.9,548.30 429.4,548.30 429.9,548.30 430.4,548.30 430.9,548.29 431.4,548.29 431.9,548.29 432.4,548.29 432.9,548.29 433.4,548.29 433.9,548.29 434.4,548.29 434.9,548.29 435.4,548.29 435.9,548.29 436.4,548.29 436.9,548.28 437.4,548.28 437.9,548.28 438.4,548.28 438.9,548.28 439.4,548.28 439.9,548.28 440.4,548.28 440.9,548.28 441.4,548.28 441.9,548.28 442.4,548.27 442.9,548.27 443.4,548.27 443.9,548.27 444.4,548.27 444.9,548.27 445.4,548.27 445.9,548.27 446.4,548.27 446.9,548.27 447.4,548.26 447.9,548.26 448.4,548.26 448.9,548.26 449.4,548.26 449.9,548.26 450.4,548.26 450.9,548.26 451.4,548.25 451.9,548.25 452.4,548.25 452.9,548.25 453.4,548.25 453.9,548.25 454.4,548.25 454.9,548.25 455.4,548.24 455.9,548.24 456.4,548.24 456.9,548.24 457.4,548.24 457.9,548.24 458.4,548.24 458.9,548.23 459.4,548.23 459.9,548.23 460.4,548.23 460.9,548.23 461.4,548.23 461.9,548.23 462.4,548.22 462.9,548.22 463.4,548.22 463.9,548.22 464.4,548.22 464.9,548.22 465.4,548.21 465.9,548.21 466.4,548.21 466.9,548.21 467.4,548.21 467.9,548.20 468.4,548.20 468.9,548.20 469.4,548.20 469.9,548.20 470.4,548.19 470.9,548.19 471.4,548.19 471.9,548.19 472.4,548.18 472.9,548.18 473.4,548.18 473.9,548.18 474.4,548.17 474.9,548.17 475.4,548.17 475.9,548.17 476.4,548.16 476.9,548.16 477.4,548.16 477.9,548.16 478.4,548.15 478.9,548.15 479.4,548.15 479.9,548.14 480.4,548.14 480.9,548.13 481.4,548.13 481.9,548.13 482.4,548.12 482.9,548.12 483.4,548.11 483.9,548.11 484.4,548.11 484.9,548.10 485.4,548.10 485.9,548.09 486.4,548.08 486.9,548.08 487.4,548.07 487.9,548.07 488.4,548.06 488.9,548.05 489.4,548.05 489.9,548.04 490.4,548.03 490.9,548.02 491.4,548.01 491.9,548.00 492.4,548.00 492.9,547.99 493.4,547.97 493.9,547.96 494.4,547.95 494.9,547.94 495.4,547.93 495.9,547.91 496.4,547.90 496.9,547.88 497.4,547.87 497.9,547.85 498.4,547.83 498.9,547.81 499.4,547.79 499.9,547.77 500.4,547.75 500.9,547.73 501.4,547.71 501.9,547.68 502.4,547.65 502.9,547.62 503.4,547.59 503.9,547.56 504.4,547.53 504.9,547.50 505.4,547.46 505.9,547.42 506.4,547.38 506.9,547.34 507.4,547.29 507.9,547.25 508.4,547.20 508.9,547.14 509.4,547.09 509.9,547.03 510.4,546.97 510.9,546.91 511.4,546.84 511.9,546.78 512.4,546.70 512.9,546.63 513.4,546.55 513.9,546.47 514.4,546.38 514.9,546.29 515.4,546.20 515.9,546.10 516.4,546.00 516.9,545.89 517.4,545.78 517.9,545.67 518.4,545.55 518.9,545.42 519.4,545.30 519.9,545.16 520.4,545.02 520.9,544.88 521.4,544.73 521.9,544.57 522.4,544.41 522.9,544.25 523.4,544.08 523.9,543.90 524.4,543.72 524.9,543.53 525.4,543.34 525.9,543.14 526.4,542.93 526.9,542.72 527.4,542.50 527.9,542.27 528.4,542.04 528.9,541.81 529.4,541.56 529.9,541.32 530.4,541.06 530.9,540.80 531.4,540.53 531.9,540.26 532.4,539.98 532.9,539.70 533.4,539.41 533.9,539.11 534.4,538.81 534.9,538.50 535.4,538.19 535.9,537.88 536.4,537.56 536.9,537.23 537.4,536.90 537.9,536.56 538.4,536.23 538.9,535.88 539.4,535.54 539.9,535.19 540.4,534.84 540.9,534.48 541.4,534.13 541.9,533.77 542.4,533.41 542.9,533.05 543.4,532.69 543.9,532.32 544.4,531.96 544.9,531.60 545.4,531.24 545.9,530.87 546.4,530.51 546.9,530.16 547.4,529.80 547.9,529.45 548.4,529.10 548.9,528.76 549.4,528.41 549.9,528.08 550.4,527.75 550.9,527.42 551.4,527.10 551.9,526.79 552.4,526.48 552.9,526.18 553.4,525.89 553.9,525.61 554.4,525.34 554.9,525.08 555.4,524.82 555.9,524.58 556.4,524.35 556.9,524.13 557.4,523.92 557.9,523.72 558.4,523.54 558.9,523.36 559.4,523.21 559.9,523.06 560.4,522.93 560.9,522.81 561.4,522.71 561.9,522.62 562.4,522.55 562.9,522.49 563.4,522.44 563.9,522.41 564.4,522.40 564.9,522.40 565.4,522.42 565.9,522.45 566.4,522.50 566.9,522.56 567.4,522.64 567.9,522.73 568.4,522.83 568.9,522.95 569.4,523.09 569.9,523.24 570.4,523.40 570.9,523.57 571.4,523.76 571.9,523.96 572.4,524.17 572.9,524.39 573.4,524.63 573.9,524.87 574.4,525.13 574.9,525.39 575.4,525.67 575.9,525.95 576.4,526.24 576.9,526.54 577.4,526.85 577.9,527.16 578.4,527.48 578.9,527.81 579.4,528.14 579.9,528.48 580.4,528.82 580.9,529.17 581.4,529.52 581.9,529.87 582.4,530.23 582.9,530.59 583.4,530.95 583.9,531.31 584.4,531.67 584.9,532.03 585.4,532.40 585.9,532.76 586.4,533.12 586.9,533.48 587.4,533.84 587.9,534.20 588.4,534.56 588.9,534.91 589.4,535.26 589.9,535.61 590.4,535.95 590.9,536.29 591.4,536.63 591.9,536.97 592.4,537.29 592.9,537.62 593.4,537.94 593.9,538.26 594.4,538.57 594.9,538.87 595.4,539.17 595.9,539.47 596.4,539.75 596.9,540.04 597.4,540.31 597.9,540.59 598.4,540.85 598.9,541.11 599.4,541.37 599.9,541.61 600.4,541.85 600.9,542.09 601.4,542.32 601.9,542.54 602.4,542.76 602.9,542.97 603.4,543.18 603.9,543.37 604.4,543.57 604.9,543.76 605.4,543.94 605.9,544.11 606.4,544.28 606.9,544.45 607.4,544.61 607.9,544.76 608.4,544.91 608.9,545.05 609.4,545.19 609.9,545.32 610.4,545.45 610.9,545.57 611.4,545.69 611.9,545.81 612.4,545.91 612.9,546.02 613.4,546.12 613.9,546.22 614.4,546.31 614.9,546.40 615.4,546.48 615.9,546.57 616.4,546.64 616.9,546.72 617.4,546.79 617.9,546.86 618.4,546.92 618.9,546.98 619.4,547.04 619.9,547.10 620.4,547.15 620.9,547.21 621.4,547.25 621.9,547.30 622.4,547.35 622.9,547.39 623.4,547.43 623.9,547.47 624.4,547.50 624.9,547.54 625.4,547.57 625.9,547.60 626.4,547.63 626.9,547.66 627.4,547.68 627.9,547.71 628.4,547.73 628.9,547.76 629.4,547.78 629.9,547.80 630.4,547.82 630.9,547.84 631.4,547.85 631.9,547.87 632.4,547.89 632.9,547.90 633.4,547.92 633.9,547.93 634.4,547.94 634.9,547.95 635.4,547.97 635.9,547.98 636.4,547.99 636.9,548.00 637.4,548.01 637.9,548.02 638.4,548.02 638.9,548.03 639.4,548.04 639.9,548.05 640.4,548.05 640.9,548.06 641.4,548.07 641.9,548.07 642.4,548.08 642.9,548.09 643.4,548.09 643.9,548.10 644.4,548.10 644.9,548.11 645.4,548.11 645.9,548.12 646.4,548.12 646.9,548.12 647.4,548.13 647.9,548.13 648.4,548.14 648.9,548.14 649.4,548.14 649.9,548.15 650.4,548.15 650.9,548.15 651.4,548.16 651.9,548.16 652.4,548.16 652.9,548.16 653.4,548.17 653.9,548.17 654.4,548.17 654.9,548.18 655.4,548.18 655.9,548.18 656.4,548.18 656.9,548.18 657.4,548.19 657.9,548.19 658.4,548.19 658.9,548.19 659.4,548.20 659.9,548.20 660.4,548.20 660.9,548.20 661.4,548.20 661.9,548.21 662.4,548.21 662.9,548.21 663.4,548.21 663.9,548.21 664.4,548.22 664.9,548.22 665.4,548.22 665.9,548.22 666.4,548.22 666.9,548.22 667.4,548.23 667.9,548.23 668.4,548.23 668.9,548.23 669.4,548.23 669.9,548.23 670.4,548.23 670.9,548.24 671.4,548.24 671.9,548.24 672.4,548.24 672.9,548.24 673.4,548.24 673.9,548.24 674.4,548.25 674.9,548.25 675.4,548.25 675.9,548.25 676.4,548.25 676.9,548.25 677.4,548.25 677.9,548.26 678.4,548.26 678.9,548.26 679.4,548.26 679.9,548.26 680.4,548.26 680.9,548.26 681.4,548.26 681.9,548.26 682.4,548.27 682.9,548.27 683.4,548.27 683.9,548.27 684.4,548.27 684.9,548.27 685.4,548.27 685.9,548.27 686.4,548.27 686.9,548.27 687.4,548.28 687.9,548.28 688.4,548.28 688.9,548.28 689.4,548.28 689.9,548.28 690.4,548.28 690.9,548.28 691.4,548.28 691.9,548.28 692.4,548.29 692.9,548.29 693.4,548.29 693.9,548.29 694.4,548.29 694.9,548.29 695.4,548.29 695.9,548.29 696.4,548.29 696.9,548.29 697.4,548.29 697.9,548.29 698.4,548.29 698.9,548.30 699.4,548.30 699.9,548.30 700.4,548.30 700.9,548.30 701.4,548.30 701.9,548.30 702.4,548.30 702.9,548.30 703.4,548.30 703.9,548.30 704.4,548.30 704.9,548.30 705.4,548.30 705.9,548.31 706.4,548.31 706.9,548.31 707.4,548.31 707.9,548.31 708.4,548.31 708.9,548.31 709.4,548.31 709.9,548.31 710.4,548.31 710.9,548.31 711.4,548.31 711.9,548.31 712.4,548.31 712.9,548.31 713.4,548.31 713.9,548.31 714.4,548.32 714.9,548.32 715.4,548.32 715.9,548.32 716.4,548.32 716.9,548.32 717.4,548.32 717.9,548.32 718.4,548.32 718.9,548.32 719.4,548.32 719.9,548.32 720.4,548.32 720.9,548.32 721.4,548.32 721.9,548.32 722.4,548.32 722.9,548.32 723.4,548.32 723.9,548.33 724.4,548.33 724.9,548.33 725.4,548.33 725.9,548.33 726.4,548.33 726.9,548.33 727.4,548.33 727.9,548.33 728.4,548.33 728.9,548.33 729.4,548.33 729.9,548.33 730.4,548.33 730.9,548.33 731.4,548.33 731.9,548.33 732.4,548.33 732.9,548.33 733.4,548.33 733.9,548.33 734.4,548.33 734.9,548.33 735.4,548.33 735.4,548.4" fill="rgba(165,106,188,0.88)"/>
<polyline points="418.4,548.11 418.9,548.10 419.4,548.10 419.9,548.10 420.4,548.10 420.9,548.10 421.4,548.10 421.9,548.09 422.4,548.09 422.9,548.09 423.4,548.09 423.9,548.09 424.4,548.08 424.9,548.08 425.4,548.08 425.9,548.08 426.4,548.08 426.9,548.07 427.4,548.07 427.9,548.07 428.4,548.07 428.9,548.07 429.4,548.06 429.9,548.06 430.4,548.06 430.9,548.06 431.4,548.05 431.9,548.05 432.4,548.05 432.9,548.05 433.4,548.04 433.9,548.04 434.4,548.04 434.9,548.04 435.4,548.04 435.9,548.03 436.4,548.03 436.9,548.03 437.4,548.03 437.9,548.02 438.4,548.02 438.9,548.02 439.4,548.01 439.9,548.01 440.4,548.01 440.9,548.01 441.4,548.00 441.9,548.00 442.4,548.00 442.9,548.00 443.4,547.99 443.9,547.99 444.4,547.99 444.9,547.98 445.4,547.98 445.9,547.98 446.4,547.97 446.9,547.97 447.4,547.97 447.9,547.96 448.4,547.96 448.9,547.96 449.4,547.95 449.9,547.95 450.4,547.95 450.9,547.94 451.4,547.94 451.9,547.94 452.4,547.93 452.9,547.93 453.4,547.93 453.9,547.92 454.4,547.92 454.9,547.92 455.4,547.91 455.9,547.91 456.4,547.90 456.9,547.90 457.4,547.90 457.9,547.89 458.4,547.89 458.9,547.88 459.4,547.88 459.9,547.88 460.4,547.87 460.9,547.87 461.4,547.86 461.9,547.86 462.4,547.85 462.9,547.85 463.4,547.84 463.9,547.84 464.4,547.84 464.9,547.83 465.4,547.83 465.9,547.82 466.4,547.82 466.9,547.81 467.4,547.81 467.9,547.80 468.4,547.80 468.9,547.79 469.4,547.78 469.9,547.78 470.4,547.77 470.9,547.77 471.4,547.76 471.9,547.76 472.4,547.75 472.9,547.74 473.4,547.74 473.9,547.73 474.4,547.73 474.9,547.72 475.4,547.71 475.9,547.71 476.4,547.70 476.9,547.69 477.4,547.68 477.9,547.68 478.4,547.67 478.9,547.66 479.4,547.66 479.9,547.65 480.4,547.64 480.9,547.63 481.4,547.62 481.9,547.61 482.4,547.61 482.9,547.60 483.4,547.59 483.9,547.58 484.4,547.57 484.9,547.56 485.4,547.55 485.9,547.54 486.4,547.53 486.9,547.52 487.4,547.50 487.9,547.49 488.4,547.48 488.9,547.47 489.4,547.46 489.9,547.44 490.4,547.43 490.9,547.41 491.4,547.40 491.9,547.38 492.4,547.37 492.9,547.35 493.4,547.34 493.9,547.32 494.4,547.30 494.9,547.28 495.4,547.26 495.9,547.24 496.4,547.22 496.9,547.20 497.4,547.17 497.9,547.15 498.4,547.12 498.9,547.10 499.4,547.07 499.9,547.04 500.4,547.01 500.9,546.98 501.4,546.95 501.9,546.91 502.4,546.87 502.9,546.84 503.4,546.80 503.9,546.76 504.4,546.71 504.9,546.67 505.4,546.62 505.9,546.57 506.4,546.52 506.9,546.47 507.4,546.41 507.9,546.35 508.4,546.29 508.9,546.23 509.4,546.16 509.9,546.09 510.4,546.01 510.9,545.94 511.4,545.86 511.9,545.77 512.4,545.68 512.9,545.59 513.4,545.50 513.9,545.40 514.4,545.29 514.9,545.18 515.4,545.07 515.9,544.95 516.4,544.82 516.9,544.69 517.4,544.56 517.9,544.42 518.4,544.27 518.9,544.12 519.4,543.96 519.9,543.79 520.4,543.62 520.9,543.44 521.4,543.26 521.9,543.06 522.4,542.86 522.9,542.65 523.4,542.43 523.9,542.20 524.4,541.97 524.9,541.73 525.4,541.47 525.9,541.21 526.4,540.94 526.9,540.66 527.4,540.36 527.9,540.06 528.4,539.75 528.9,539.42 529.4,539.08 529.9,538.74 530.4,538.38 530.9,538.00 531.4,537.62 531.9,537.22 532.4,536.81 532.9,536.39 533.4,535.95 533.9,535.50 534.4,535.03 534.9,534.55 535.4,534.05 535.9,533.54 536.4,533.01 536.9,532.47 537.4,531.91 537.9,531.33 538.4,530.74 538.9,530.13 539.4,529.50 539.9,528.86 540.4,528.19 540.9,527.51 541.4,526.81 541.9,526.09 542.4,525.35 542.9,524.60 543.4,523.82 543.9,523.02 544.4,522.20 544.9,521.36 545.4,520.51 545.9,519.63 546.4,518.73 546.9,517.81 547.4,516.86 547.9,515.90 548.4,514.92 548.9,513.91 549.4,512.89 549.9,511.84 550.4,510.77 550.9,509.68 551.4,508.57 551.9,507.44 552.4,506.29 552.9,505.12 553.4,503.93 553.9,502.72 554.4,501.49 554.9,500.25 555.4,498.98 555.9,497.70 556.4,496.40 556.9,495.09 557.4,493.76 557.9,492.41 558.4,491.05 558.9,489.68 559.4,488.30 559.9,486.90 560.4,485.49 560.9,484.08 561.4,482.66 561.9,481.23 562.4,479.79 562.9,478.35 563.4,476.91 563.9,475.46 564.4,474.02 564.9,472.57 565.4,471.13 565.9,469.69 566.4,468.26 566.9,466.83 567.4,465.42 567.9,464.01 568.4,462.62 568.9,461.24 569.4,459.87 569.9,458.52 570.4,457.20 570.9,455.89 571.4,454.60 571.9,453.35 572.4,452.11 572.9,450.91 573.4,449.74 573.9,448.60 574.4,447.49 574.9,446.42 575.4,445.39 575.9,444.41 576.4,443.46 576.9,442.56 577.4,441.70 577.9,440.90 578.4,440.14 578.9,439.44 579.4,438.79 579.9,438.19 580.4,437.66 580.9,437.18 581.4,436.76 581.9,436.41 582.4,436.12 582.9,435.89 583.4,435.73 583.9,435.63 584.4,435.60 584.9,435.64 585.4,435.75 585.9,435.93 586.4,436.17 586.9,436.48 587.4,436.86 587.9,437.31 588.4,437.83 588.9,438.41 589.4,439.06 589.9,439.77 590.4,440.55 590.9,441.38 591.4,442.28 591.9,443.24 592.4,444.25 592.9,445.32 593.4,446.44 593.9,447.61 594.4,448.83 594.9,450.10 595.4,451.41 595.9,452.76 596.4,454.15 596.9,455.58 597.4,457.05 597.9,458.54 598.4,460.07 598.9,461.62 599.4,463.19 599.9,464.79 600.4,466.41 600.9,468.04 601.4,469.69 601.9,471.35 602.4,473.02 602.9,474.70 603.4,476.38 603.9,478.07 604.4,479.75 604.9,481.44 605.4,483.12 605.9,484.80 606.4,486.46 606.9,488.12 607.4,489.77 607.9,491.41 608.4,493.03 608.9,494.64 609.4,496.23 609.9,497.80 610.4,499.35 610.9,500.88 611.4,502.38 611.9,503.87 612.4,505.33 612.9,506.76 613.4,508.17 613.9,509.55 614.4,510.90 614.9,512.23 615.4,513.52 615.9,514.79 616.4,516.03 616.9,517.23 617.4,518.41 617.9,519.56 618.4,520.67 618.9,521.76 619.4,522.81 619.9,523.83 620.4,524.83 620.9,525.79 621.4,526.72 621.9,527.62 622.4,528.49 622.9,529.34 623.4,530.15 623.9,530.94 624.4,531.69 624.9,532.42 625.4,533.13 625.9,533.80 626.4,534.45 626.9,535.07 627.4,535.67 627.9,536.25 628.4,536.80 628.9,537.33 629.4,537.83 629.9,538.32 630.4,538.78 630.9,539.22 631.4,539.64 631.9,540.04 632.4,540.43 632.9,540.79 633.4,541.14 633.9,541.47 634.4,541.79 634.9,542.09 635.4,542.38 635.9,542.65 636.4,542.90 636.9,543.15 637.4,543.38 637.9,543.60 638.4,543.81 638.9,544.00 639.4,544.19 639.9,544.37 640.4,544.54 640.9,544.69 641.4,544.84 641.9,544.98 642.4,545.12 642.9,545.24 643.4,545.36 643.9,545.48 644.4,545.58 644.9,545.68 645.4,545.78 645.9,545.87 646.4,545.95 646.9,546.03 647.4,546.11 647.9,546.18 648.4,546.25 648.9,546.31 649.4,546.37 649.9,546.43 650.4,546.48 650.9,546.53 651.4,546.58 651.9,546.63 652.4,546.67 652.9,546.71 653.4,546.75 653.9,546.79 654.4,546.82 654.9,546.86 655.4,546.89 655.9,546.92 656.4,546.95 656.9,546.98 657.4,547.00 657.9,547.03 658.4,547.05 658.9,547.08 659.4,547.10 659.9,547.12 660.4,547.14 660.9,547.16 661.4,547.18 661.9,547.20 662.4,547.21 662.9,547.23 663.4,547.25 663.9,547.26 664.4,547.28 664.9,547.29 665.4,547.31 665.9,547.32 666.4,547.34 666.9,547.35 667.4,547.36 667.9,547.38 668.4,547.39 668.9,547.40 669.4,547.41 669.9,547.42 670.4,547.43 670.9,547.45 671.4,547.46 671.9,547.47 672.4,547.48 672.9,547.49 673.4,547.50 673.9,547.51 674.4,547.52 674.9,547.53 675.4,547.54 675.9,547.54 676.4,547.55 676.9,547.56 677.4,547.57 677.9,547.58 678.4,547.59 678.9,547.60 679.4,547.60 679.9,547.61 680.4,547.62 680.9,547.63 681.4,547.63 681.9,547.64 682.4,547.65 682.9,547.66 683.4,547.66 683.9,547.67 684.4,547.68 684.9,547.68 685.4,547.69 685.9,547.70 686.4,547.70 686.9,547.71 687.4,547.72 687.9,547.72 688.4,547.73 688.9,547.73 689.4,547.74 689.9,547.75 690.4,547.75 690.9,547.76 691.4,547.76 691.9,547.77 692.4,547.78 692.9,547.78 693.4,547.79 693.9,547.79 694.4,547.80 694.9,547.80 695.4,547.81 695.9,547.81 696.4,547.82 696.9,547.82 697.4,547.83 697.9,547.83 698.4,547.84 698.9,547.84 699.4,547.85 699.9,547.85 700.4,547.85 700.9,547.86 701.4,547.86 701.9,547.87 702.4,547.87 702.9,547.88 703.4,547.88 703.9,547.88 704.4,547.89 704.9,547.89 705.4,547.90 705.9,547.90 706.4,547.90 706.9,547.91 707.4,547.91 707.9,547.92 708.4,547.92 708.9,547.92 709.4,547.93 709.9,547.93 710.4,547.93 710.9,547.94 711.4,547.94 711.9,547.94 712.4,547.95 712.9,547.95 713.4,547.95 713.9,547.96 714.4,547.96 714.9,547.96 715.4,547.97 715.9,547.97 716.4,547.97 716.9,547.98 717.4,547.98 717.9,547.98 718.4,547.99 718.9,547.99 719.4,547.99 719.9,548.00 720.4,548.00 720.9,548.00 721.4,548.00 721.9,548.01 722.4,548.01 722.9,548.01 723.4,548.01 723.9,548.02 724.4,548.02 724.9,548.02 725.4,548.03 725.9,548.03 726.4,548.03 726.9,548.03 727.4,548.04 727.9,548.04 728.4,548.04 728.9,548.04 729.4,548.04 729.9,548.05 730.4,548.05 730.9,548.05 731.4,548.05 731.9,548.06 732.4,548.06 732.9,548.06 733.4,548.06 733.9,548.07 734.4,548.07 734.9,548.07 735.4,548.07" fill="none" stroke="#0a0a0a" stroke-width="2.1" stroke-linejoin="round"/>
<polygon points="418.4,711.8 418.4,711.63 418.9,711.63 419.4,711.62 419.9,711.62 420.4,711.62 420.9,711.62 421.4,711.62 421.9,711.62 422.4,711.62 422.9,711.62 423.4,711.62 423.9,711.62 424.4,711.61 424.9,711.61 425.4,711.61 425.9,711.61 426.4,711.61 426.9,711.61 427.4,711.61 427.9,711.61 428.4,711.61 428.9,711.61 429.4,711.60 429.9,711.60 430.4,711.60 430.9,711.60 431.4,711.60 431.9,711.60 432.4,711.60 432.9,711.60 433.4,711.60 433.9,711.59 434.4,711.59 434.9,711.59 435.4,711.59 435.9,711.59 436.4,711.59 436.9,711.59 437.4,711.59 437.9,711.58 438.4,711.58 438.9,711.58 439.4,711.58 439.9,711.58 440.4,711.58 440.9,711.58 441.4,711.58 441.9,711.57 442.4,711.57 442.9,711.57 443.4,711.57 443.9,711.57 444.4,711.57 444.9,711.57 445.4,711.56 445.9,711.56 446.4,711.56 446.9,711.56 447.4,711.56 447.9,711.56 448.4,711.56 448.9,711.55 449.4,711.55 449.9,711.55 450.4,711.55 450.9,711.55 451.4,711.55 451.9,711.55 452.4,711.54 452.9,711.54 453.4,711.54 453.9,711.54 454.4,711.54 454.9,711.54 455.4,711.53 455.9,711.53 456.4,711.53 456.9,711.53 457.4,711.53 457.9,711.52 458.4,711.52 458.9,711.52 459.4,711.52 459.9,711.52 460.4,711.52 460.9,711.51 461.4,711.51 461.9,711.51 462.4,711.51 462.9,711.51 463.4,711.50 463.9,711.50 464.4,711.50 464.9,711.50 465.4,711.50 465.9,711.49 466.4,711.49 466.9,711.49 467.4,711.49 467.9,711.49 468.4,711.48 468.9,711.48 469.4,711.48 469.9,711.48 470.4,711.47 470.9,711.47 471.4,711.47 471.9,711.47 472.4,711.46 472.9,711.46 473.4,711.46 473.9,711.46 474.4,711.45 474.9,711.45 475.4,711.45 475.9,711.45 476.4,711.44 476.9,711.44 477.4,711.44 477.9,711.44 478.4,711.43 478.9,711.43 479.4,711.43 479.9,711.43 480.4,711.42 480.9,711.42 481.4,711.42 481.9,711.41 482.4,711.41 482.9,711.41 483.4,711.41 483.9,711.40 484.4,711.40 484.9,711.40 485.4,711.39 485.9,711.39 486.4,711.39 486.9,711.38 487.4,711.38 487.9,711.38 488.4,711.37 488.9,711.37 489.4,711.37 489.9,711.36 490.4,711.36 490.9,711.35 491.4,711.35 491.9,711.35 492.4,711.34 492.9,711.34 493.4,711.34 493.9,711.33 494.4,711.33 494.9,711.32 495.4,711.32 495.9,711.32 496.4,711.31 496.9,711.31 497.4,711.30 497.9,711.30 498.4,711.29 498.9,711.29 499.4,711.29 499.9,711.28 500.4,711.28 500.9,711.27 501.4,711.27 501.9,711.26 502.4,711.26 502.9,711.25 503.4,711.25 503.9,711.24 504.4,711.24 504.9,711.23 505.4,711.23 505.9,711.22 506.4,711.22 506.9,711.21 507.4,711.21 507.9,711.20 508.4,711.19 508.9,711.19 509.4,711.18 509.9,711.18 510.4,711.17 510.9,711.16 511.4,711.16 511.9,711.15 512.4,711.14 512.9,711.14 513.4,711.13 513.9,711.12 514.4,711.12 514.9,711.11 515.4,711.10 515.9,711.10 516.4,711.09 516.9,711.08 517.4,711.07 517.9,711.07 518.4,711.06 518.9,711.05 519.4,711.04 519.9,711.03 520.4,711.02 520.9,711.02 521.4,711.01 521.9,711.00 522.4,710.99 522.9,710.98 523.4,710.97 523.9,710.96 524.4,710.95 524.9,710.94 525.4,710.93 525.9,710.92 526.4,710.91 526.9,710.89 527.4,710.88 527.9,710.87 528.4,710.86 528.9,710.84 529.4,710.83 529.9,710.82 530.4,710.80 530.9,710.79 531.4,710.77 531.9,710.76 532.4,710.74 532.9,710.72 533.4,710.70 533.9,710.69 534.4,710.67 534.9,710.65 535.4,710.62 535.9,710.60 536.4,710.58 536.9,710.56 537.4,710.53 537.9,710.50 538.4,710.47 538.9,710.45 539.4,710.41 539.9,710.38 540.4,710.35 540.9,710.31 541.4,710.27 541.9,710.23 542.4,710.19 542.9,710.14 543.4,710.10 543.9,710.05 544.4,709.99 544.9,709.94 545.4,709.88 545.9,709.82 546.4,709.75 546.9,709.68 547.4,709.60 547.9,709.52 548.4,709.44 548.9,709.35 549.4,709.26 549.9,709.16 550.4,709.05 550.9,708.94 551.4,708.83 551.9,708.70 552.4,708.57 552.9,708.43 553.4,708.28 553.9,708.13 554.4,707.96 554.9,707.79 555.4,707.61 555.9,707.42 556.4,707.21 556.9,707.00 557.4,706.77 557.9,706.53 558.4,706.28 558.9,706.02 559.4,705.74 559.9,705.45 560.4,705.15 560.9,704.83 561.4,704.49 561.9,704.13 562.4,703.76 562.9,703.38 563.4,702.97 563.9,702.55 564.4,702.10 564.9,701.64 565.4,701.16 565.9,700.65 566.4,700.12 566.9,699.58 567.4,699.00 567.9,698.41 568.4,697.79 568.9,697.15 569.4,696.48 569.9,695.79 570.4,695.07 570.9,694.33 571.4,693.56 571.9,692.77 572.4,691.95 572.9,691.10 573.4,690.22 573.9,689.32 574.4,688.38 574.9,687.43 575.4,686.44 575.9,685.42 576.4,684.38 576.9,683.31 577.4,682.22 577.9,681.09 578.4,679.94 578.9,678.77 579.4,677.57 579.9,676.34 580.4,675.09 580.9,673.81 581.4,672.51 581.9,671.19 582.4,669.85 582.9,668.48 583.4,667.10 583.9,665.70 584.4,664.28 584.9,662.84 585.4,661.39 585.9,659.93 586.4,658.45 586.9,656.96 587.4,655.47 587.9,653.97 588.4,652.46 588.9,650.94 589.4,649.43 589.9,647.92 590.4,646.40 590.9,644.89 591.4,643.39 591.9,641.90 592.4,640.41 592.9,638.94 593.4,637.48 593.9,636.04 594.4,634.62 594.9,633.23 595.4,631.85 595.9,630.50 596.4,629.18 596.9,627.89 597.4,626.64 597.9,625.42 598.4,624.24 598.9,623.10 599.4,622.00 599.9,620.95 600.4,619.95 600.9,618.99 601.4,618.09 601.9,617.24 602.4,616.45 602.9,615.71 603.4,615.04 603.9,614.42 604.4,613.86 604.9,613.37 605.4,612.95 605.9,612.59 606.4,612.29 606.9,612.07 607.4,611.91 607.9,611.82 608.4,611.80 608.9,611.84 609.4,611.93 609.9,612.07 610.4,612.26 610.9,612.50 611.4,612.80 611.9,613.15 612.4,613.54 612.9,613.99 613.4,614.48 613.9,615.02 614.4,615.61 614.9,616.24 615.4,616.91 615.9,617.63 616.4,618.39 616.9,619.19 617.4,620.03 617.9,620.91 618.4,621.82 618.9,622.77 619.4,623.75 619.9,624.76 620.4,625.81 620.9,626.88 621.4,627.98 621.9,629.10 622.4,630.25 622.9,631.42 623.4,632.61 623.9,633.82 624.4,635.05 624.9,636.29 625.4,637.55 625.9,638.82 626.4,640.11 626.9,641.40 627.4,642.70 627.9,644.01 628.4,645.32 628.9,646.64 629.4,647.96 629.9,649.28 630.4,650.60 630.9,651.92 631.4,653.24 631.9,654.56 632.4,655.87 632.9,657.17 633.4,658.47 633.9,659.76 634.4,661.04 634.9,662.31 635.4,663.57 635.9,664.81 636.4,666.05 636.9,667.27 637.4,668.47 637.9,669.67 638.4,670.84 638.9,672.00 639.4,673.14 639.9,674.27 640.4,675.38 640.9,676.47 641.4,677.54 641.9,678.59 642.4,679.62 642.9,680.63 643.4,681.62 643.9,682.59 644.4,683.54 644.9,684.47 645.4,685.38 645.9,686.27 646.4,687.13 646.9,687.98 647.4,688.80 647.9,689.61 648.4,690.39 648.9,691.15 649.4,691.89 649.9,692.61 650.4,693.31 650.9,693.99 651.4,694.65 651.9,695.29 652.4,695.91 652.9,696.52 653.4,697.10 653.9,697.66 654.4,698.21 654.9,698.73 655.4,699.24 655.9,699.73 656.4,700.21 656.9,700.67 657.4,701.11 657.9,701.53 658.4,701.94 658.9,702.34 659.4,702.72 659.9,703.08 660.4,703.43 660.9,703.77 661.4,704.09 661.9,704.40 662.4,704.70 662.9,704.99 663.4,705.26 663.9,705.53 664.4,705.78 664.9,706.02 665.4,706.25 665.9,706.47 666.4,706.68 666.9,706.88 667.4,707.08 667.9,707.26 668.4,707.44 668.9,707.60 669.4,707.76 669.9,707.92 670.4,708.06 670.9,708.20 671.4,708.33 671.9,708.46 672.4,708.58 672.9,708.70 673.4,708.81 673.9,708.91 674.4,709.01 674.9,709.10 675.4,709.19 675.9,709.28 676.4,709.36 676.9,709.44 677.4,709.51 677.9,709.58 678.4,709.65 678.9,709.71 679.4,709.77 679.9,709.83 680.4,709.88 680.9,709.93 681.4,709.98 681.9,710.03 682.4,710.07 682.9,710.12 683.4,710.16 683.9,710.20 684.4,710.23 684.9,710.27 685.4,710.30 685.9,710.33 686.4,710.37 686.9,710.39 687.4,710.42 687.9,710.45 688.4,710.48 688.9,710.50 689.4,710.52 689.9,710.55 690.4,710.57 690.9,710.59 691.4,710.61 691.9,710.63 692.4,710.65 692.9,710.66 693.4,710.68 693.9,710.70 694.4,710.71 694.9,710.73 695.4,710.74 695.9,710.76 696.4,710.77 696.9,710.79 697.4,710.80 697.9,710.81 698.4,710.82 698.9,710.84 699.4,710.85 699.9,710.86 700.4,710.87 700.9,710.88 701.4,710.89 701.9,710.90 702.4,710.91 702.9,710.92 703.4,710.93 703.9,710.94 704.4,710.95 704.9,710.96 705.4,710.97 705.9,710.98 706.4,710.98 706.9,710.99 707.4,711.00 707.9,711.01 708.4,711.02 708.9,711.02 709.4,711.03 709.9,711.04 710.4,711.05 710.9,711.05 711.4,711.06 711.9,711.07 712.4,711.07 712.9,711.08 713.4,711.09 713.9,711.09 714.4,711.10 714.9,711.11 715.4,711.11 715.9,711.12 716.4,711.12 716.9,711.13 717.4,711.14 717.9,711.14 718.4,711.15 718.9,711.15 719.4,711.16 719.9,711.16 720.4,711.17 720.9,711.17 721.4,711.18 721.9,711.18 722.4,711.19 722.9,711.20 723.4,711.20 723.9,711.21 724.4,711.21 724.9,711.21 725.4,711.22 725.9,711.22 726.4,711.23 726.9,711.23 727.4,711.24 727.9,711.24 728.4,711.25 728.9,711.25 729.4,711.26 729.9,711.26 730.4,711.26 730.9,711.27 731.4,711.27 731.9,711.28 732.4,711.28 732.9,711.28 733.4,711.29 733.9,711.29 734.4,711.30 734.9,711.30 735.4,711.30 735.4,711.8" fill="#1db35c"/>
<polygon points="418.4,711.8 418.4,711.66 418.9,711.66 419.4,711.66 419.9,711.66 420.4,711.66 420.9,711.66 421.4,711.66 421.9,711.66 422.4,711.66 422.9,711.65 423.4,711.65 423.9,711.65 424.4,711.65 424.9,711.65 425.4,711.65 425.9,711.65 426.4,711.65 426.9,711.65 427.4,711.65 427.9,711.65 428.4,711.64 428.9,711.64 429.4,711.64 429.9,711.64 430.4,711.64 430.9,711.64 431.4,711.64 431.9,711.64 432.4,711.64 432.9,711.63 433.4,711.63 433.9,711.63 434.4,711.63 434.9,711.63 435.4,711.63 435.9,711.63 436.4,711.63 436.9,711.63 437.4,711.62 437.9,711.62 438.4,711.62 438.9,711.62 439.4,711.62 439.9,711.62 440.4,711.62 440.9,711.62 441.4,711.61 441.9,711.61 442.4,711.61 442.9,711.61 443.4,711.61 443.9,711.61 444.4,711.61 444.9,711.61 445.4,711.60 445.9,711.60 446.4,711.60 446.9,711.60 447.4,711.60 447.9,711.60 448.4,711.59 448.9,711.59 449.4,711.59 449.9,711.59 450.4,711.59 450.9,711.59 451.4,711.59 451.9,711.58 452.4,711.58 452.9,711.58 453.4,711.58 453.9,711.58 454.4,711.58 454.9,711.57 455.4,711.57 455.9,711.57 456.4,711.57 456.9,711.57 457.4,711.56 457.9,711.56 458.4,711.56 458.9,711.56 459.4,711.56 459.9,711.55 460.4,711.55 460.9,711.55 461.4,711.55 461.9,711.55 462.4,711.54 462.9,711.54 463.4,711.54 463.9,711.54 464.4,711.54 464.9,711.53 465.4,711.53 465.9,711.53 466.4,711.53 466.9,711.52 467.4,711.52 467.9,711.52 468.4,711.52 468.9,711.51 469.4,711.51 469.9,711.51 470.4,711.51 470.9,711.50 471.4,711.50 471.9,711.50 472.4,711.50 472.9,711.49 473.4,711.49 473.9,711.49 474.4,711.48 474.9,711.48 475.4,711.48 475.9,711.48 476.4,711.47 476.9,711.47 477.4,711.47 477.9,711.46 478.4,711.46 478.9,711.45 479.4,711.45 479.9,711.45 480.4,711.44 480.9,711.44 481.4,711.44 481.9,711.43 482.4,711.43 482.9,711.42 483.4,711.42 483.9,711.41 484.4,711.41 484.9,711.40 485.4,711.40 485.9,711.39 486.4,711.39 486.9,711.38 487.4,711.38 487.9,711.37 488.4,711.37 488.9,711.36 489.4,711.35 489.9,711.35 490.4,711.34 490.9,711.33 491.4,711.33 491.9,711.32 492.4,711.31 492.9,711.30 493.4,711.29 493.9,711.28 494.4,711.27 494.9,711.26 495.4,711.25 495.9,711.24 496.4,711.23 496.9,711.22 497.4,711.21 497.9,711.20 498.4,711.18 498.9,711.17 499.4,711.15 499.9,711.14 500.4,711.12 500.9,711.11 501.4,711.09 501.9,711.07 502.4,711.05 502.9,711.03 503.4,711.01 503.9,710.99 504.4,710.96 504.9,710.94 505.4,710.91 505.9,710.89 506.4,710.86 506.9,710.83 507.4,710.80 507.9,710.76 508.4,710.73 508.9,710.69 509.4,710.66 509.9,710.62 510.4,710.57 510.9,710.53 511.4,710.49 511.9,710.44 512.4,710.39 512.9,710.34 513.4,710.28 513.9,710.22 514.4,710.16 514.9,710.10 515.4,710.04 515.9,709.97 516.4,709.90 516.9,709.82 517.4,709.74 517.9,709.66 518.4,709.58 518.9,709.49 519.4,709.40 519.9,709.30 520.4,709.20 520.9,709.09 521.4,708.98 521.9,708.87 522.4,708.75 522.9,708.63 523.4,708.50 523.9,708.37 524.4,708.23 524.9,708.09 525.4,707.94 525.9,707.79 526.4,707.63 526.9,707.46 527.4,707.29 527.9,707.11 528.4,706.93 528.9,706.74 529.4,706.54 529.9,706.34 530.4,706.13 530.9,705.91 531.4,705.69 531.9,705.46 532.4,705.22 532.9,704.98 533.4,704.73 533.9,704.47 534.4,704.20 534.9,703.93 535.4,703.65 535.9,703.36 536.4,703.06 536.9,702.76 537.4,702.45 537.9,702.13 538.4,701.80 538.9,701.47 539.4,701.13 539.9,700.78 540.4,700.42 540.9,700.05 541.4,699.68 541.9,699.30 542.4,698.92 542.9,698.52 543.4,698.12 543.9,697.71 544.4,697.30 544.9,696.88 545.4,696.45 545.9,696.01 546.4,695.57 546.9,695.13 547.4,694.68 547.9,694.22 548.4,693.75 548.9,693.29 549.4,692.81 549.9,692.34 550.4,691.86 550.9,691.37 551.4,690.88 551.9,690.39 552.4,689.90 552.9,689.40 553.4,688.91 553.9,688.41 554.4,687.91 554.9,687.41 555.4,686.90 555.9,686.40 556.4,685.90 556.9,685.40 557.4,684.91 557.9,684.41 558.4,683.92 558.9,683.43 559.4,682.94 559.9,682.46 560.4,681.98 560.9,681.51 561.4,681.05 561.9,680.59 562.4,680.13 562.9,679.69 563.4,679.25 563.9,678.82 564.4,678.40 564.9,677.99 565.4,677.59 565.9,677.20 566.4,676.82 566.9,676.46 567.4,676.10 567.9,675.76 568.4,675.44 568.9,675.12 569.4,674.82 569.9,674.54 570.4,674.27 570.9,674.02 571.4,673.78 571.9,673.56 572.4,673.35 572.9,673.17 573.4,673.00 573.9,672.85 574.4,672.71 574.9,672.60 575.4,672.50 575.9,672.42 576.4,672.36 576.9,672.32 577.4,672.30 577.9,672.30 578.4,672.32 578.9,672.35 579.4,672.41 579.9,672.48 580.4,672.58 580.9,672.69 581.4,672.82 581.9,672.97 582.4,673.13 582.9,673.31 583.4,673.52 583.9,673.73 584.4,673.97 584.9,674.22 585.4,674.48 585.9,674.76 586.4,675.06 586.9,675.37 587.4,675.70 587.9,676.03 588.4,676.39 588.9,676.75 589.4,677.13 589.9,677.51 590.4,677.91 590.9,678.32 591.4,678.74 591.9,679.16 592.4,679.60 592.9,680.04 593.4,680.49 593.9,680.95 594.4,681.42 594.9,681.89 595.4,682.36 595.9,682.85 596.4,683.33 596.9,683.82 597.4,684.31 597.9,684.81 598.4,685.30 598.9,685.80 599.4,686.30 599.9,686.80 600.4,687.31 600.9,687.81 601.4,688.31 601.9,688.81 602.4,689.31 602.9,689.80 603.4,690.30 603.9,690.79 604.4,691.28 604.9,691.76 605.4,692.24 605.9,692.72 606.4,693.19 606.9,693.66 607.4,694.13 607.9,694.58 608.4,695.04 608.9,695.48 609.4,695.93 609.9,696.36 610.4,696.79 610.9,697.21 611.4,697.63 611.9,698.04 612.4,698.44 612.9,698.84 613.4,699.23 613.9,699.61 614.4,699.98 614.9,700.35 615.4,700.71 615.9,701.06 616.4,701.40 616.9,701.74 617.4,702.07 617.9,702.39 618.4,702.70 618.9,703.00 619.4,703.30 619.9,703.59 620.4,703.87 620.9,704.15 621.4,704.42 621.9,704.68 622.4,704.93 622.9,705.18 623.4,705.41 623.9,705.65 624.4,705.87 624.9,706.09 625.4,706.30 625.9,706.50 626.4,706.70 626.9,706.89 627.4,707.08 627.9,707.25 628.4,707.43 628.9,707.59 629.4,707.75 629.9,707.91 630.4,708.06 630.9,708.20 631.4,708.34 631.9,708.48 632.4,708.60 632.9,708.73 633.4,708.85 633.9,708.96 634.4,709.07 634.9,709.18 635.4,709.28 635.9,709.38 636.4,709.47 636.9,709.56 637.4,709.64 637.9,709.73 638.4,709.81 638.9,709.88 639.4,709.95 639.9,710.02 640.4,710.09 640.9,710.15 641.4,710.21 641.9,710.27 642.4,710.33 642.9,710.38 643.4,710.43 643.9,710.48 644.4,710.52 644.9,710.57 645.4,710.61 645.9,710.65 646.4,710.69 646.9,710.72 647.4,710.76 647.9,710.79 648.4,710.82 648.9,710.85 649.4,710.88 649.9,710.91 650.4,710.93 650.9,710.96 651.4,710.98 651.9,711.00 652.4,711.03 652.9,711.05 653.4,711.07 653.9,711.08 654.4,711.10 654.9,711.12 655.4,711.13 655.9,711.15 656.4,711.17 656.9,711.18 657.4,711.19 657.9,711.21 658.4,711.22 658.9,711.23 659.4,711.24 659.9,711.25 660.4,711.26 660.9,711.27 661.4,711.28 661.9,711.29 662.4,711.30 662.9,711.31 663.4,711.32 663.9,711.32 664.4,711.33 664.9,711.34 665.4,711.35 665.9,711.35 666.4,711.36 666.9,711.36 667.4,711.37 667.9,711.38 668.4,711.38 668.9,711.39 669.4,711.39 669.9,711.40 670.4,711.40 670.9,711.41 671.4,711.41 671.9,711.42 672.4,711.42 672.9,711.43 673.4,711.43 673.9,711.43 674.4,711.44 674.9,711.44 675.4,711.45 675.9,711.45 676.4,711.45 676.9,711.46 677.4,711.46 677.9,711.46 678.4,711.47 678.9,711.47 679.4,711.47 679.9,711.48 680.4,711.48 680.9,711.48 681.4,711.49 681.9,711.49 682.4,711.49 682.9,711.50 683.4,711.50 683.9,711.50 684.4,711.50 684.9,711.51 685.4,711.51 685.9,711.51 686.4,711.51 686.9,711.52 687.4,711.52 687.9,711.52 688.4,711.52 688.9,711.53 689.4,711.53 689.9,711.53 690.4,711.53 690.9,711.54 691.4,711.54 691.9,711.54 692.4,711.54 692.9,711.54 693.4,711.55 693.9,711.55 694.4,711.55 694.9,711.55 695.4,711.55 695.9,711.56 696.4,711.56 696.9,711.56 697.4,711.56 697.9,711.56 698.4,711.57 698.9,711.57 699.4,711.57 699.9,711.57 700.4,711.57 700.9,711.58 701.4,711.58 701.9,711.58 702.4,711.58 702.9,711.58 703.4,711.58 703.9,711.59 704.4,711.59 704.9,711.59 705.4,711.59 705.9,711.59 706.4,711.59 706.9,711.59 707.4,711.60 707.9,711.60 708.4,711.60 708.9,711.60 709.4,711.60 709.9,711.60 710.4,711.60 710.9,711.61 711.4,711.61 711.9,711.61 712.4,711.61 712.9,711.61 713.4,711.61 713.9,711.61 714.4,711.62 714.9,711.62 715.4,711.62 715.9,711.62 716.4,711.62 716.9,711.62 717.4,711.62 717.9,711.62 718.4,711.63 718.9,711.63 719.4,711.63 719.9,711.63 720.4,711.63 720.9,711.63 721.4,711.63 721.9,711.63 722.4,711.63 722.9,711.64 723.4,711.64 723.9,711.64 724.4,711.64 724.9,711.64 725.4,711.64 725.9,711.64 726.4,711.64 726.9,711.64 727.4,711.65 727.9,711.65 728.4,711.65 728.9,711.65 729.4,711.65 729.9,711.65 730.4,711.65 730.9,711.65 731.4,711.65 731.9,711.65 732.4,711.65 732.9,711.66 733.4,711.66 733.9,711.66 734.4,711.66 734.9,711.66 735.4,711.66 735.4,711.8" fill="rgba(165,106,188,0.88)"/>
<polyline points="418.4,711.49 418.9,711.49 419.4,711.49 419.9,711.48 420.4,711.48 420.9,711.48 421.4,711.48 421.9,711.48 422.4,711.47 422.9,711.47 423.4,711.47 423.9,711.47 424.4,711.47 424.9,711.46 425.4,711.46 425.9,711.46 426.4,711.46 426.9,711.46 427.4,711.45 427.9,711.45 428.4,711.45 428.9,711.45 429.4,711.45 429.9,711.44 430.4,711.44 430.9,711.44 431.4,711.44 431.9,711.44 432.4,711.43 432.9,711.43 433.4,711.43 433.9,711.43 434.4,711.42 434.9,711.42 435.4,711.42 435.9,711.42 436.4,711.42 436.9,711.41 437.4,711.41 437.9,711.41 438.4,711.41 438.9,711.40 439.4,711.40 439.9,711.40 440.4,711.40 440.9,711.39 441.4,711.39 441.9,711.39 442.4,711.38 442.9,711.38 443.4,711.38 443.9,711.38 444.4,711.37 444.9,711.37 445.4,711.37 445.9,711.37 446.4,711.36 446.9,711.36 447.4,711.36 447.9,711.35 448.4,711.35 448.9,711.35 449.4,711.34 449.9,711.34 450.4,711.34 450.9,711.34 451.4,711.33 451.9,711.33 452.4,711.33 452.9,711.32 453.4,711.32 453.9,711.32 454.4,711.31 454.9,711.31 455.4,711.31 455.9,711.30 456.4,711.30 456.9,711.29 457.4,711.29 457.9,711.29 458.4,711.28 458.9,711.28 459.4,711.28 459.9,711.27 460.4,711.27 460.9,711.26 461.4,711.26 461.9,711.26 462.4,711.25 462.9,711.25 463.4,711.24 463.9,711.24 464.4,711.24 464.9,711.23 465.4,711.23 465.9,711.22 466.4,711.22 466.9,711.21 467.4,711.21 467.9,711.20 468.4,711.20 468.9,711.20 469.4,711.19 469.9,711.19 470.4,711.18 470.9,711.18 471.4,711.17 471.9,711.17 472.4,711.16 472.9,711.16 473.4,711.15 473.9,711.14 474.4,711.14 474.9,711.13 475.4,711.13 475.9,711.12 476.4,711.12 476.9,711.11 477.4,711.10 477.9,711.10 478.4,711.09 478.9,711.09 479.4,711.08 479.9,711.07 480.4,711.07 480.9,711.06 481.4,711.05 481.9,711.05 482.4,711.04 482.9,711.03 483.4,711.02 483.9,711.02 484.4,711.01 484.9,711.00 485.4,710.99 485.9,710.98 486.4,710.98 486.9,710.97 487.4,710.96 487.9,710.95 488.4,710.94 488.9,710.93 489.4,710.92 489.9,710.91 490.4,710.90 490.9,710.89 491.4,710.88 491.9,710.87 492.4,710.85 492.9,710.84 493.4,710.83 493.9,710.82 494.4,710.80 494.9,710.79 495.4,710.77 495.9,710.76 496.4,710.74 496.9,710.73 497.4,710.71 497.9,710.69 498.4,710.68 498.9,710.66 499.4,710.64 499.9,710.62 500.4,710.60 500.9,710.58 501.4,710.55 501.9,710.53 502.4,710.51 502.9,710.48 503.4,710.46 503.9,710.43 504.4,710.40 504.9,710.37 505.4,710.34 505.9,710.31 506.4,710.27 506.9,710.24 507.4,710.20 507.9,710.16 508.4,710.12 508.9,710.08 509.4,710.04 509.9,709.99 510.4,709.94 510.9,709.89 511.4,709.84 511.9,709.79 512.4,709.73 512.9,709.67 513.4,709.61 513.9,709.55 514.4,709.48 514.9,709.41 515.4,709.34 515.9,709.26 516.4,709.18 516.9,709.10 517.4,709.02 517.9,708.93 518.4,708.83 518.9,708.74 519.4,708.64 519.9,708.53 520.4,708.42 520.9,708.31 521.4,708.19 521.9,708.07 522.4,707.94 522.9,707.81 523.4,707.67 523.9,707.53 524.4,707.38 524.9,707.23 525.4,707.07 525.9,706.90 526.4,706.73 526.9,706.56 527.4,706.37 527.9,706.18 528.4,705.99 528.9,705.78 529.4,705.57 529.9,705.36 530.4,705.13 530.9,704.90 531.4,704.66 531.9,704.42 532.4,704.16 532.9,703.90 533.4,703.63 533.9,703.36 534.4,703.07 534.9,702.78 535.4,702.47 535.9,702.16 536.4,701.84 536.9,701.52 537.4,701.18 537.9,700.83 538.4,700.48 538.9,700.11 539.4,699.74 539.9,699.36 540.4,698.97 540.9,698.57 541.4,698.16 541.9,697.74 542.4,697.31 542.9,696.87 543.4,696.42 543.9,695.96 544.4,695.49 544.9,695.01 545.4,694.53 545.9,694.03 546.4,693.52 546.9,693.01 547.4,692.48 547.9,691.94 548.4,691.40 548.9,690.84 549.4,690.27 549.9,689.70 550.4,689.11 550.9,688.52 551.4,687.91 551.9,687.30 552.4,686.67 552.9,686.04 553.4,685.39 553.9,684.74 554.4,684.07 554.9,683.40 555.4,682.71 555.9,682.02 556.4,681.32 556.9,680.60 557.4,679.88 557.9,679.14 558.4,678.40 558.9,677.65 559.4,676.89 559.9,676.11 560.4,675.33 560.9,674.54 561.4,673.73 561.9,672.92 562.4,672.10 562.9,671.26 563.4,670.42 563.9,669.57 564.4,668.70 564.9,667.83 565.4,666.95 565.9,666.05 566.4,665.15 566.9,664.23 567.4,663.31 567.9,662.37 568.4,661.43 568.9,660.47 569.4,659.51 569.9,658.53 570.4,657.54 570.9,656.55 571.4,655.54 571.9,654.52 572.4,653.50 572.9,652.46 573.4,651.42 573.9,650.36 574.4,649.30 574.9,648.22 575.4,647.14 575.9,646.05 576.4,644.95 576.9,643.84 577.4,642.72 577.9,641.60 578.4,640.46 578.9,639.32 579.4,638.18 579.9,637.02 580.4,635.86 580.9,634.70 581.4,633.53 581.9,632.36 582.4,631.18 582.9,630.00 583.4,628.82 583.9,627.63 584.4,626.45 584.9,625.26 585.4,624.08 585.9,622.89 586.4,621.71 586.9,620.54 587.4,619.37 587.9,618.20 588.4,617.04 588.9,615.89 589.4,614.76 589.9,613.63 590.4,612.51 590.9,611.41 591.4,610.33 591.9,609.26 592.4,608.21 592.9,607.18 593.4,606.18 593.9,605.20 594.4,604.24 594.9,603.31 595.4,602.42 595.9,601.55 596.4,600.71 596.9,599.91 597.4,599.15 597.9,598.43 598.4,597.75 598.9,597.10 599.4,596.51 599.9,595.96 600.4,595.45 600.9,595.00 601.4,594.60 601.9,594.25 602.4,593.95 602.9,593.71 603.4,593.53 603.9,593.41 604.4,593.34 604.9,593.33 605.4,593.39 605.9,593.51 606.4,593.69 606.9,593.93 607.4,594.24 607.9,594.61 608.4,595.04 608.9,595.53 609.4,596.09 609.9,596.71 610.4,597.40 610.9,598.14 611.4,598.94 611.9,599.80 612.4,600.72 612.9,601.70 613.4,602.73 613.9,603.81 614.4,604.94 614.9,606.12 615.4,607.35 615.9,608.63 616.4,609.95 616.9,611.31 617.4,612.70 617.9,614.14 618.4,615.61 618.9,617.11 619.4,618.64 619.9,620.20 620.4,621.78 620.9,623.39 621.4,625.01 621.9,626.66 622.4,628.32 622.9,629.99 623.4,631.68 623.9,633.37 624.4,635.08 624.9,636.78 625.4,638.49 625.9,640.20 626.4,641.91 626.9,643.61 627.4,645.31 627.9,647.00 628.4,648.69 628.9,650.36 629.4,652.02 629.9,653.67 630.4,655.30 630.9,656.92 631.4,658.52 631.9,660.10 632.4,661.65 632.9,663.19 633.4,664.70 633.9,666.19 634.4,667.66 634.9,669.10 635.4,670.51 635.9,671.90 636.4,673.26 636.9,674.59 637.4,675.90 637.9,677.17 638.4,678.41 638.9,679.63 639.4,680.81 639.9,681.97 640.4,683.09 640.9,684.19 641.4,685.25 641.9,686.28 642.4,687.29 642.9,688.26 643.4,689.20 643.9,690.12 644.4,691.00 644.9,691.85 645.4,692.68 645.9,693.48 646.4,694.25 646.9,694.99 647.4,695.71 647.9,696.40 648.4,697.06 648.9,697.70 649.4,698.32 649.9,698.90 650.4,699.47 650.9,700.01 651.4,700.53 651.9,701.03 652.4,701.51 652.9,701.96 653.4,702.40 653.9,702.82 654.4,703.22 654.9,703.60 655.4,703.96 655.9,704.31 656.4,704.64 656.9,704.95 657.4,705.25 657.9,705.53 658.4,705.80 658.9,706.06 659.4,706.30 659.9,706.54 660.4,706.76 660.9,706.97 661.4,707.16 661.9,707.35 662.4,707.53 662.9,707.70 663.4,707.86 663.9,708.01 664.4,708.15 664.9,708.29 665.4,708.42 665.9,708.54 666.4,708.66 666.9,708.76 667.4,708.87 667.9,708.97 668.4,709.06 668.9,709.14 669.4,709.23 669.9,709.31 670.4,709.38 670.9,709.45 671.4,709.52 671.9,709.58 672.4,709.64 672.9,709.69 673.4,709.75 673.9,709.80 674.4,709.85 674.9,709.89 675.4,709.93 675.9,709.98 676.4,710.02 676.9,710.05 677.4,710.09 677.9,710.12 678.4,710.15 678.9,710.18 679.4,710.21 679.9,710.24 680.4,710.27 680.9,710.30 681.4,710.32 681.9,710.34 682.4,710.37 682.9,710.39 683.4,710.41 683.9,710.43 684.4,710.45 684.9,710.47 685.4,710.49 685.9,710.51 686.4,710.52 686.9,710.54 687.4,710.56 687.9,710.57 688.4,710.59 688.9,710.60 689.4,710.62 689.9,710.63 690.4,710.64 690.9,710.66 691.4,710.67 691.9,710.68 692.4,710.70 692.9,710.71 693.4,710.72 693.9,710.73 694.4,710.74 694.9,710.75 695.4,710.77 695.9,710.78 696.4,710.79 696.9,710.80 697.4,710.81 697.9,710.82 698.4,710.83 698.9,710.84 699.4,710.85 699.9,710.86 700.4,710.87 700.9,710.87 701.4,710.88 701.9,710.89 702.4,710.90 702.9,710.91 703.4,710.92 703.9,710.93 704.4,710.93 704.9,710.94 705.4,710.95 705.9,710.96 706.4,710.97 706.9,710.97 707.4,710.98 707.9,710.99 708.4,711.00 708.9,711.00 709.4,711.01 709.9,711.02 710.4,711.02 710.9,711.03 711.4,711.04 711.9,711.04 712.4,711.05 712.9,711.06 713.4,711.06 713.9,711.07 714.4,711.08 714.9,711.08 715.4,711.09 715.9,711.09 716.4,711.10 716.9,711.11 717.4,711.11 717.9,711.12 718.4,711.12 718.9,711.13 719.4,711.13 719.9,711.14 720.4,711.14 720.9,711.15 721.4,711.15 721.9,711.16 722.4,711.16 722.9,711.17 723.4,711.17 723.9,711.18 724.4,711.18 724.9,711.19 725.4,711.19 725.9,711.20 726.4,711.20 726.9,711.21 727.4,711.21 727.9,711.22 728.4,711.22 728.9,711.23 729.4,711.23 729.9,711.23 730.4,711.24 730.9,711.24 731.4,711.25 731.9,711.25 732.4,711.25 732.9,711.26 733.4,711.26 733.9,711.27 734.4,711.27 734.9,711.27 735.4,711.28" fill="none" stroke="#0a0a0a" stroke-width="2.1" stroke-linejoin="round"/>
<line x1="417.4" y1="557.9" x2="736.4" y2="557.9" stroke="#111" stroke-width="2.2"/>
<line x1="418.4" y1="557.9" x2="418.4" y2="553.4" stroke="#111" stroke-width="2"/>
<line x1="497.6" y1="557.9" x2="497.6" y2="553.4" stroke="#111" stroke-width="2"/>
<line x1="576.9" y1="557.9" x2="576.9" y2="553.4" stroke="#111" stroke-width="2"/>
<line x1="656.1" y1="557.9" x2="656.1" y2="553.4" stroke="#111" stroke-width="2"/>
<line x1="735.4" y1="557.9" x2="735.4" y2="553.4" stroke="#111" stroke-width="2"/>
<line x1="458.0" y1="557.9" x2="458.0" y2="555.4" stroke="#111" stroke-width="1.6"/>
<line x1="537.3" y1="557.9" x2="537.3" y2="555.4" stroke="#111" stroke-width="1.6"/>
<line x1="616.5" y1="557.9" x2="616.5" y2="555.4" stroke="#111" stroke-width="1.6"/>
<line x1="695.8" y1="557.9" x2="695.8" y2="555.4" stroke="#111" stroke-width="1.6"/>
<line x1="417.4" y1="723.6" x2="736.4" y2="723.6" stroke="#111" stroke-width="2.2"/>
<line x1="418.4" y1="723.6" x2="418.4" y2="719.1" stroke="#111" stroke-width="2"/>
<line x1="497.6" y1="723.6" x2="497.6" y2="719.1" stroke="#111" stroke-width="2"/>
<line x1="576.9" y1="723.6" x2="576.9" y2="719.1" stroke="#111" stroke-width="2"/>
<line x1="656.1" y1="723.6" x2="656.1" y2="719.1" stroke="#111" stroke-width="2"/>
<line x1="735.4" y1="723.6" x2="735.4" y2="719.1" stroke="#111" stroke-width="2"/>
<line x1="458.0" y1="723.6" x2="458.0" y2="721.1" stroke="#111" stroke-width="1.6"/>
<line x1="537.3" y1="723.6" x2="537.3" y2="721.1" stroke="#111" stroke-width="1.6"/>
<line x1="616.5" y1="723.6" x2="616.5" y2="721.1" stroke="#111" stroke-width="1.6"/>
<line x1="695.8" y1="723.6" x2="695.8" y2="721.1" stroke="#111" stroke-width="1.6"/>
<text x="418.4" y="742.8" font-size="17.5" fill="#1a1a1a" text-anchor="middle"  stroke="#1a1a1a" stroke-width="0.3">1.0</text>
<text x="497.6" y="742.8" font-size="17.5" fill="#1a1a1a" text-anchor="middle"  stroke="#1a1a1a" stroke-width="0.3">0.5</text>
<text x="576.9" y="742.8" font-size="17.5" fill="#1a1a1a" text-anchor="middle"  stroke="#1a1a1a" stroke-width="0.3">0.0</text>
<text x="656.1" y="742.8" font-size="17.5" fill="#1a1a1a" text-anchor="middle"  stroke="#1a1a1a" stroke-width="0.3">-0.5</text>
<text x="735.4" y="742.8" font-size="17.5" fill="#1a1a1a" text-anchor="middle"  stroke="#1a1a1a" stroke-width="0.3">-1.0</text>
<text x="576.9" y="761.5" font-size="18" fill="#1a1a1a" text-anchor="middle" stroke="#1a1a1a" stroke-width="0.3"><tspan font-size="12.5" dy="-7">6</tspan><tspan dy="7">Li shift (ppm)</tspan></text>
<text x="416.9" y="437.0" font-size="20" fill="#1a1a1a" text-anchor="start"  stroke="#1a1a1a" stroke-width="0.3">(e)</text>
<text x="477.8" y="437.2" font-size="18.9" fill="#1a1a1a" text-anchor="start"  stroke="#1a1a1a" stroke-width="0.3">PL-CNF</text>
<text x="508.3" y="512.5" font-size="16.7" fill="#a87bc1" text-anchor="start"  stroke="#a87bc1" stroke-width="0.3">24.1%</text>
<text x="621.6" y="495.3" font-size="16.7" fill="#20a058" text-anchor="start"  stroke="#20a058" stroke-width="0.3">75.9%</text>
<text x="508.3" y="673.4" font-size="16.7" fill="#a87bc1" text-anchor="start"  stroke="#a87bc1" stroke-width="0.3">30.9%</text>
<text x="641.1" y="658.1" font-size="16.7" fill="#20a058" text-anchor="start"  stroke="#20a058" stroke-width="0.3">69.1%</text>
<polygon points="813,545.6 813.0,545.39 813.5,545.39 814.0,545.38 814.5,545.38 815.0,545.38 815.5,545.38 816.0,545.38 816.5,545.38 817.0,545.38 817.5,545.38 818.0,545.37 818.5,545.37 819.0,545.37 819.5,545.37 820.0,545.37 820.5,545.37 821.0,545.37 821.5,545.36 822.0,545.36 822.5,545.36 823.0,545.36 823.5,545.36 824.0,545.36 824.5,545.36 825.0,545.35 825.5,545.35 826.0,545.35 826.5,545.35 827.0,545.35 827.5,545.35 828.0,545.34 828.5,545.34 829.0,545.34 829.5,545.34 830.0,545.34 830.5,545.34 831.0,545.33 831.5,545.33 832.0,545.33 832.5,545.33 833.0,545.33 833.5,545.32 834.0,545.32 834.5,545.32 835.0,545.32 835.5,545.32 836.0,545.32 836.5,545.31 837.0,545.31 837.5,545.31 838.0,545.31 838.5,545.31 839.0,545.30 839.5,545.30 840.0,545.30 840.5,545.30 841.0,545.29 841.5,545.29 842.0,545.29 842.5,545.29 843.0,545.29 843.5,545.28 844.0,545.28 844.5,545.28 845.0,545.28 845.5,545.27 846.0,545.27 846.5,545.27 847.0,545.27 847.5,545.26 848.0,545.26 848.5,545.26 849.0,545.26 849.5,545.25 850.0,545.25 850.5,545.25 851.0,545.25 851.5,545.24 852.0,545.24 852.5,545.24 853.0,545.24 853.5,545.23 854.0,545.23 854.5,545.23 855.0,545.22 855.5,545.22 856.0,545.22 856.5,545.22 857.0,545.21 857.5,545.21 858.0,545.21 858.5,545.20 859.0,545.20 859.5,545.20 860.0,545.19 860.5,545.19 861.0,545.19 861.5,545.18 862.0,545.18 862.5,545.18 863.0,545.17 863.5,545.17 864.0,545.17 864.5,545.16 865.0,545.16 865.5,545.15 866.0,545.15 866.5,545.15 867.0,545.14 867.5,545.14 868.0,545.14 868.5,545.13 869.0,545.13 869.5,545.12 870.0,545.12 870.5,545.11 871.0,545.11 871.5,545.11 872.0,545.10 872.5,545.10 873.0,545.09 873.5,545.09 874.0,545.08 874.5,545.08 875.0,545.07 875.5,545.07 876.0,545.06 876.5,545.06 877.0,545.05 877.5,545.05 878.0,545.04 878.5,545.04 879.0,545.03 879.5,545.03 880.0,545.02 880.5,545.02 881.0,545.01 881.5,545.00 882.0,545.00 882.5,544.99 883.0,544.99 883.5,544.98 884.0,544.97 884.5,544.97 885.0,544.96 885.5,544.96 886.0,544.95 886.5,544.94 887.0,544.94 887.5,544.93 888.0,544.92 888.5,544.91 889.0,544.91 889.5,544.90 890.0,544.89 890.5,544.88 891.0,544.88 891.5,544.87 892.0,544.86 892.5,544.85 893.0,544.84 893.5,544.84 894.0,544.83 894.5,544.82 895.0,544.81 895.5,544.80 896.0,544.79 896.5,544.78 897.0,544.77 897.5,544.76 898.0,544.75 898.5,544.74 899.0,544.73 899.5,544.72 900.0,544.71 900.5,544.69 901.0,544.68 901.5,544.67 902.0,544.66 902.5,544.64 903.0,544.63 903.5,544.62 904.0,544.60 904.5,544.59 905.0,544.57 905.5,544.55 906.0,544.54 906.5,544.52 907.0,544.50 907.5,544.48 908.0,544.46 908.5,544.44 909.0,544.42 909.5,544.40 910.0,544.37 910.5,544.35 911.0,544.32 911.5,544.30 912.0,544.27 912.5,544.24 913.0,544.20 913.5,544.17 914.0,544.14 914.5,544.10 915.0,544.06 915.5,544.02 916.0,543.97 916.5,543.93 917.0,543.88 917.5,543.82 918.0,543.77 918.5,543.71 919.0,543.65 919.5,543.58 920.0,543.51 920.5,543.43 921.0,543.35 921.5,543.27 922.0,543.18 922.5,543.09 923.0,542.99 923.5,542.88 924.0,542.77 924.5,542.65 925.0,542.52 925.5,542.38 926.0,542.24 926.5,542.09 927.0,541.93 927.5,541.76 928.0,541.58 928.5,541.38 929.0,541.18 929.5,540.97 930.0,540.74 930.5,540.51 931.0,540.25 931.5,539.99 932.0,539.71 932.5,539.41 933.0,539.10 933.5,538.78 934.0,538.43 934.5,538.07 935.0,537.69 935.5,537.29 936.0,536.87 936.5,536.44 937.0,535.98 937.5,535.49 938.0,534.99 938.5,534.46 939.0,533.91 939.5,533.34 940.0,532.74 940.5,532.11 941.0,531.46 941.5,530.78 942.0,530.08 942.5,529.34 943.0,528.58 943.5,527.79 944.0,526.97 944.5,526.12 945.0,525.24 945.5,524.33 946.0,523.39 946.5,522.42 947.0,521.42 947.5,520.39 948.0,519.33 948.5,518.23 949.0,517.11 949.5,515.96 950.0,514.77 950.5,513.56 951.0,512.31 951.5,511.04 952.0,509.74 952.5,508.41 953.0,507.05 953.5,505.67 954.0,504.26 954.5,502.83 955.0,501.37 955.5,499.90 956.0,498.40 956.5,496.88 957.0,495.34 957.5,493.79 958.0,492.22 958.5,490.64 959.0,489.05 959.5,487.45 960.0,485.84 960.5,484.22 961.0,482.60 961.5,480.98 962.0,479.36 962.5,477.75 963.0,476.14 963.5,474.53 964.0,472.94 964.5,471.36 965.0,469.80 965.5,468.26 966.0,466.73 966.5,465.23 967.0,463.76 967.5,462.32 968.0,460.91 968.5,459.53 969.0,458.19 969.5,456.89 970.0,455.64 970.5,454.43 971.0,453.26 971.5,452.15 972.0,451.10 972.5,450.10 973.0,449.16 973.5,448.28 974.0,447.46 974.5,446.70 975.0,446.02 975.5,445.40 976.0,444.86 976.5,444.38 977.0,443.98 977.5,443.65 978.0,443.40 978.5,443.22 979.0,443.12 979.5,443.10 980.0,443.14 980.5,443.24 981.0,443.40 981.5,443.61 982.0,443.89 982.5,444.22 983.0,444.60 983.5,445.04 984.0,445.54 984.5,446.09 985.0,446.69 985.5,447.34 986.0,448.04 986.5,448.79 987.0,449.59 987.5,450.43 988.0,451.32 988.5,452.25 989.0,453.22 989.5,454.22 990.0,455.27 990.5,456.35 991.0,457.47 991.5,458.61 992.0,459.79 992.5,461.00 993.0,462.23 993.5,463.49 994.0,464.77 994.5,466.07 995.0,467.38 995.5,468.72 996.0,470.07 996.5,471.44 997.0,472.82 997.5,474.20 998.0,475.60 998.5,477.00 999.0,478.41 999.5,479.82 1000.0,481.24 1000.5,482.65 1001.0,484.06 1001.5,485.47 1002.0,486.88 1002.5,488.28 1003.0,489.67 1003.5,491.06 1004.0,492.44 1004.5,493.81 1005.0,495.16 1005.5,496.51 1006.0,497.84 1006.5,499.15 1007.0,500.45 1007.5,501.73 1008.0,503.00 1008.5,504.25 1009.0,505.48 1009.5,506.69 1010.0,507.88 1010.5,509.05 1011.0,510.20 1011.5,511.33 1012.0,512.44 1012.5,513.52 1013.0,514.59 1013.5,515.63 1014.0,516.64 1014.5,517.64 1015.0,518.61 1015.5,519.55 1016.0,520.48 1016.5,521.38 1017.0,522.25 1017.5,523.11 1018.0,523.94 1018.5,524.74 1019.0,525.53 1019.5,526.29 1020.0,527.02 1020.5,527.74 1021.0,528.43 1021.5,529.10 1022.0,529.75 1022.5,530.38 1023.0,530.99 1023.5,531.57 1024.0,532.14 1024.5,532.69 1025.0,533.21 1025.5,533.72 1026.0,534.21 1026.5,534.68 1027.0,535.13 1027.5,535.57 1028.0,535.99 1028.5,536.39 1029.0,536.78 1029.5,537.15 1030.0,537.50 1030.5,537.84 1031.0,538.17 1031.5,538.48 1032.0,538.78 1032.5,539.07 1033.0,539.34 1033.5,539.60 1034.0,539.85 1034.5,540.09 1035.0,540.32 1035.5,540.54 1036.0,540.74 1036.5,540.94 1037.0,541.13 1037.5,541.31 1038.0,541.48 1038.5,541.64 1039.0,541.80 1039.5,541.94 1040.0,542.08 1040.5,542.22 1041.0,542.34 1041.5,542.46 1042.0,542.58 1042.5,542.69 1043.0,542.79 1043.5,542.89 1044.0,542.98 1044.5,543.07 1045.0,543.15 1045.5,543.23 1046.0,543.31 1046.5,543.38 1047.0,543.45 1047.5,543.51 1048.0,543.58 1048.5,543.63 1049.0,543.69 1049.5,543.74 1050.0,543.79 1050.5,543.84 1051.0,543.88 1051.5,543.93 1052.0,543.97 1052.5,544.01 1053.0,544.04 1053.5,544.08 1054.0,544.11 1054.5,544.15 1055.0,544.18 1055.5,544.21 1056.0,544.23 1056.5,544.26 1057.0,544.29 1057.5,544.31 1058.0,544.33 1058.5,544.36 1059.0,544.38 1059.5,544.40 1060.0,544.42 1060.5,544.44 1061.0,544.45 1061.5,544.47 1062.0,544.49 1062.5,544.51 1063.0,544.52 1063.5,544.54 1064.0,544.55 1064.5,544.57 1065.0,544.58 1065.5,544.59 1066.0,544.61 1066.5,544.62 1067.0,544.63 1067.5,544.64 1068.0,544.65 1068.5,544.67 1069.0,544.68 1069.5,544.69 1070.0,544.70 1070.5,544.71 1071.0,544.72 1071.5,544.73 1072.0,544.74 1072.5,544.75 1073.0,544.76 1073.5,544.76 1074.0,544.77 1074.5,544.78 1075.0,544.79 1075.5,544.80 1076.0,544.81 1076.5,544.81 1077.0,544.82 1077.5,544.83 1078.0,544.84 1078.5,544.85 1079.0,544.85 1079.5,544.86 1080.0,544.87 1080.5,544.87 1081.0,544.88 1081.5,544.89 1082.0,544.89 1082.5,544.90 1083.0,544.91 1083.5,544.91 1084.0,544.92 1084.5,544.93 1085.0,544.93 1085.5,544.94 1086.0,544.94 1086.5,544.95 1087.0,544.96 1087.5,544.96 1088.0,544.97 1088.5,544.97 1089.0,544.98 1089.5,544.98 1090.0,544.99 1090.5,544.99 1091.0,545.00 1091.5,545.00 1092.0,545.01 1092.5,545.01 1093.0,545.02 1093.5,545.02 1094.0,545.03 1094.5,545.03 1095.0,545.04 1095.5,545.04 1096.0,545.05 1096.5,545.05 1097.0,545.06 1097.5,545.06 1098.0,545.06 1098.5,545.07 1099.0,545.07 1099.5,545.08 1100.0,545.08 1100.5,545.09 1101.0,545.09 1101.5,545.09 1102.0,545.10 1102.5,545.10 1103.0,545.11 1103.5,545.11 1104.0,545.11 1104.5,545.12 1105.0,545.12 1105.5,545.12 1106.0,545.13 1106.5,545.13 1107.0,545.13 1107.5,545.14 1108.0,545.14 1108.5,545.15 1109.0,545.15 1109.5,545.15 1110.0,545.16 1110.5,545.16 1111.0,545.16 1111.5,545.16 1112.0,545.17 1112.5,545.17 1113.0,545.17 1113.5,545.18 1114.0,545.18 1114.5,545.18 1115.0,545.19 1115.5,545.19 1116.0,545.19 1116.5,545.19 1117.0,545.20 1117.5,545.20 1118.0,545.20 1118.5,545.21 1119.0,545.21 1119.5,545.21 1120.0,545.21 1120.5,545.22 1121.0,545.22 1121.5,545.22 1122.0,545.22 1122.5,545.23 1123.0,545.23 1123.5,545.23 1124.0,545.23 1124.5,545.24 1125.0,545.24 1125.5,545.24 1126.0,545.24 1126.5,545.25 1127.0,545.25 1127.5,545.25 1128.0,545.25 1128.5,545.26 1129.0,545.26 1129.5,545.26 1130.0,545.26 1130,545.6" fill="#1db35c"/>
<polygon points="813,545.6 813.0,545.09 813.5,545.08 814.0,545.07 814.5,545.06 815.0,545.05 815.5,545.04 816.0,545.03 816.5,545.02 817.0,545.01 817.5,545.00 818.0,544.99 818.5,544.98 819.0,544.97 819.5,544.96 820.0,544.95 820.5,544.94 821.0,544.93 821.5,544.91 822.0,544.90 822.5,544.89 823.0,544.87 823.5,544.86 824.0,544.85 824.5,544.83 825.0,544.82 825.5,544.80 826.0,544.79 826.5,544.77 827.0,544.76 827.5,544.74 828.0,544.73 828.5,544.71 829.0,544.69 829.5,544.67 830.0,544.66 830.5,544.64 831.0,544.62 831.5,544.60 832.0,544.58 832.5,544.56 833.0,544.54 833.5,544.52 834.0,544.50 834.5,544.47 835.0,544.45 835.5,544.43 836.0,544.41 836.5,544.38 837.0,544.36 837.5,544.33 838.0,544.31 838.5,544.28 839.0,544.26 839.5,544.23 840.0,544.20 840.5,544.17 841.0,544.15 841.5,544.12 842.0,544.09 842.5,544.06 843.0,544.03 843.5,543.99 844.0,543.96 844.5,543.93 845.0,543.90 845.5,543.86 846.0,543.83 846.5,543.79 847.0,543.76 847.5,543.72 848.0,543.68 848.5,543.65 849.0,543.61 849.5,543.57 850.0,543.53 850.5,543.49 851.0,543.45 851.5,543.41 852.0,543.36 852.5,543.32 853.0,543.27 853.5,543.23 854.0,543.18 854.5,543.14 855.0,543.09 855.5,543.04 856.0,542.99 856.5,542.94 857.0,542.89 857.5,542.84 858.0,542.79 858.5,542.74 859.0,542.68 859.5,542.63 860.0,542.57 860.5,542.52 861.0,542.46 861.5,542.40 862.0,542.34 862.5,542.28 863.0,542.22 863.5,542.16 864.0,542.10 864.5,542.04 865.0,541.97 865.5,541.91 866.0,541.84 866.5,541.77 867.0,541.71 867.5,541.64 868.0,541.57 868.5,541.50 869.0,541.43 869.5,541.35 870.0,541.28 870.5,541.21 871.0,541.13 871.5,541.06 872.0,540.98 872.5,540.90 873.0,540.82 873.5,540.74 874.0,540.66 874.5,540.58 875.0,540.50 875.5,540.42 876.0,540.33 876.5,540.25 877.0,540.16 877.5,540.07 878.0,539.99 878.5,539.90 879.0,539.81 879.5,539.72 880.0,539.63 880.5,539.53 881.0,539.44 881.5,539.35 882.0,539.25 882.5,539.16 883.0,539.06 883.5,538.96 884.0,538.86 884.5,538.76 885.0,538.66 885.5,538.56 886.0,538.46 886.5,538.36 887.0,538.26 887.5,538.15 888.0,538.05 888.5,537.94 889.0,537.84 889.5,537.73 890.0,537.62 890.5,537.52 891.0,537.41 891.5,537.30 892.0,537.19 892.5,537.08 893.0,536.96 893.5,536.85 894.0,536.74 894.5,536.63 895.0,536.51 895.5,536.40 896.0,536.28 896.5,536.17 897.0,536.05 897.5,535.94 898.0,535.82 898.5,535.70 899.0,535.59 899.5,535.47 900.0,535.35 900.5,535.23 901.0,535.11 901.5,534.99 902.0,534.88 902.5,534.76 903.0,534.64 903.5,534.52 904.0,534.40 904.5,534.28 905.0,534.16 905.5,534.03 906.0,533.91 906.5,533.79 907.0,533.67 907.5,533.55 908.0,533.43 908.5,533.31 909.0,533.19 909.5,533.07 910.0,532.95 910.5,532.83 911.0,532.71 911.5,532.59 912.0,532.47 912.5,532.35 913.0,532.24 913.5,532.12 914.0,532.00 914.5,531.88 915.0,531.77 915.5,531.65 916.0,531.53 916.5,531.42 917.0,531.30 917.5,531.19 918.0,531.08 918.5,530.96 919.0,530.85 919.5,530.74 920.0,530.63 920.5,530.52 921.0,530.41 921.5,530.30 922.0,530.20 922.5,530.09 923.0,529.98 923.5,529.88 924.0,529.78 924.5,529.68 925.0,529.57 925.5,529.47 926.0,529.38 926.5,529.28 927.0,529.18 927.5,529.09 928.0,528.99 928.5,528.90 929.0,528.81 929.5,528.72 930.0,528.63 930.5,528.55 931.0,528.46 931.5,528.38 932.0,528.30 932.5,528.22 933.0,528.14 933.5,528.06 934.0,527.99 934.5,527.91 935.0,527.84 935.5,527.77 936.0,527.70 936.5,527.64 937.0,527.57 937.5,527.51 938.0,527.45 938.5,527.39 939.0,527.33 939.5,527.28 940.0,527.23 940.5,527.17 941.0,527.13 941.5,527.08 942.0,527.03 942.5,526.99 943.0,526.95 943.5,526.91 944.0,526.88 944.5,526.84 945.0,526.81 945.5,526.78 946.0,526.75 946.5,526.73 947.0,526.71 947.5,526.68 948.0,526.67 948.5,526.65 949.0,526.64 949.5,526.62 950.0,526.61 950.5,526.61 951.0,526.60 951.5,526.60 952.0,526.60 952.5,526.60 953.0,526.61 953.5,526.61 954.0,526.62 954.5,526.63 955.0,526.65 955.5,526.66 956.0,526.68 956.5,526.70 957.0,526.72 957.5,526.75 958.0,526.78 958.5,526.80 959.0,526.84 959.5,526.87 960.0,526.91 960.5,526.94 961.0,526.98 961.5,527.03 962.0,527.07 962.5,527.12 963.0,527.16 963.5,527.22 964.0,527.27 964.5,527.32 965.0,527.38 965.5,527.44 966.0,527.50 966.5,527.56 967.0,527.62 967.5,527.69 968.0,527.76 968.5,527.83 969.0,527.90 969.5,527.97 970.0,528.05 970.5,528.12 971.0,528.20 971.5,528.28 972.0,528.36 972.5,528.45 973.0,528.53 973.5,528.62 974.0,528.70 974.5,528.79 975.0,528.88 975.5,528.98 976.0,529.07 976.5,529.16 977.0,529.26 977.5,529.36 978.0,529.46 978.5,529.55 979.0,529.66 979.5,529.76 980.0,529.86 980.5,529.96 981.0,530.07 981.5,530.17 982.0,530.28 982.5,530.39 983.0,530.50 983.5,530.61 984.0,530.72 984.5,530.83 985.0,530.94 985.5,531.05 986.0,531.17 986.5,531.28 987.0,531.40 987.5,531.51 988.0,531.63 988.5,531.74 989.0,531.86 989.5,531.98 990.0,532.09 990.5,532.21 991.0,532.33 991.5,532.45 992.0,532.57 992.5,532.69 993.0,532.81 993.5,532.93 994.0,533.05 994.5,533.17 995.0,533.29 995.5,533.41 996.0,533.53 996.5,533.65 997.0,533.77 997.5,533.89 998.0,534.01 998.5,534.13 999.0,534.25 999.5,534.37 1000.0,534.49 1000.5,534.61 1001.0,534.73 1001.5,534.85 1002.0,534.97 1002.5,535.09 1003.0,535.21 1003.5,535.33 1004.0,535.45 1004.5,535.56 1005.0,535.68 1005.5,535.80 1006.0,535.91 1006.5,536.03 1007.0,536.15 1007.5,536.26 1008.0,536.38 1008.5,536.49 1009.0,536.60 1009.5,536.72 1010.0,536.83 1010.5,536.94 1011.0,537.05 1011.5,537.16 1012.0,537.27 1012.5,537.38 1013.0,537.49 1013.5,537.60 1014.0,537.71 1014.5,537.82 1015.0,537.92 1015.5,538.03 1016.0,538.13 1016.5,538.24 1017.0,538.34 1017.5,538.44 1018.0,538.54 1018.5,538.64 1019.0,538.74 1019.5,538.84 1020.0,538.94 1020.5,539.04 1021.0,539.14 1021.5,539.23 1022.0,539.33 1022.5,539.42 1023.0,539.51 1023.5,539.61 1024.0,539.70 1024.5,539.79 1025.0,539.88 1025.5,539.97 1026.0,540.06 1026.5,540.14 1027.0,540.23 1027.5,540.31 1028.0,540.40 1028.5,540.48 1029.0,540.57 1029.5,540.65 1030.0,540.73 1030.5,540.81 1031.0,540.89 1031.5,540.96 1032.0,541.04 1032.5,541.12 1033.0,541.19 1033.5,541.27 1034.0,541.34 1034.5,541.41 1035.0,541.48 1035.5,541.55 1036.0,541.62 1036.5,541.69 1037.0,541.76 1037.5,541.83 1038.0,541.89 1038.5,541.96 1039.0,542.02 1039.5,542.09 1040.0,542.15 1040.5,542.21 1041.0,542.27 1041.5,542.33 1042.0,542.39 1042.5,542.45 1043.0,542.51 1043.5,542.56 1044.0,542.62 1044.5,542.67 1045.0,542.73 1045.5,542.78 1046.0,542.83 1046.5,542.88 1047.0,542.93 1047.5,542.98 1048.0,543.03 1048.5,543.08 1049.0,543.13 1049.5,543.17 1050.0,543.22 1050.5,543.27 1051.0,543.31 1051.5,543.35 1052.0,543.40 1052.5,543.44 1053.0,543.48 1053.5,543.52 1054.0,543.56 1054.5,543.60 1055.0,543.64 1055.5,543.68 1056.0,543.71 1056.5,543.75 1057.0,543.79 1057.5,543.82 1058.0,543.86 1058.5,543.89 1059.0,543.92 1059.5,543.96 1060.0,543.99 1060.5,544.02 1061.0,544.05 1061.5,544.08 1062.0,544.11 1062.5,544.14 1063.0,544.17 1063.5,544.20 1064.0,544.22 1064.5,544.25 1065.0,544.28 1065.5,544.30 1066.0,544.33 1066.5,544.35 1067.0,544.38 1067.5,544.40 1068.0,544.42 1068.5,544.45 1069.0,544.47 1069.5,544.49 1070.0,544.51 1070.5,544.53 1071.0,544.56 1071.5,544.58 1072.0,544.60 1072.5,544.61 1073.0,544.63 1073.5,544.65 1074.0,544.67 1074.5,544.69 1075.0,544.70 1075.5,544.72 1076.0,544.74 1076.5,544.75 1077.0,544.77 1077.5,544.79 1078.0,544.80 1078.5,544.82 1079.0,544.83 1079.5,544.84 1080.0,544.86 1080.5,544.87 1081.0,544.89 1081.5,544.90 1082.0,544.91 1082.5,544.92 1083.0,544.94 1083.5,544.95 1084.0,544.96 1084.5,544.97 1085.0,544.98 1085.5,544.99 1086.0,545.00 1086.5,545.01 1087.0,545.02 1087.5,545.03 1088.0,545.04 1088.5,545.05 1089.0,545.06 1089.5,545.07 1090.0,545.08 1090.5,545.09 1091.0,545.09 1091.5,545.10 1092.0,545.11 1092.5,545.12 1093.0,545.13 1093.5,545.13 1094.0,545.14 1094.5,545.15 1095.0,545.15 1095.5,545.16 1096.0,545.17 1096.5,545.17 1097.0,545.18 1097.5,545.19 1098.0,545.19 1098.5,545.20 1099.0,545.20 1099.5,545.21 1100.0,545.21 1100.5,545.22 1101.0,545.23 1101.5,545.23 1102.0,545.24 1102.5,545.24 1103.0,545.24 1103.5,545.25 1104.0,545.25 1104.5,545.26 1105.0,545.26 1105.5,545.27 1106.0,545.27 1106.5,545.27 1107.0,545.28 1107.5,545.28 1108.0,545.29 1108.5,545.29 1109.0,545.29 1109.5,545.30 1110.0,545.30 1110.5,545.30 1111.0,545.31 1111.5,545.31 1112.0,545.31 1112.5,545.32 1113.0,545.32 1113.5,545.32 1114.0,545.32 1114.5,545.33 1115.0,545.33 1115.5,545.33 1116.0,545.34 1116.5,545.34 1117.0,545.34 1117.5,545.34 1118.0,545.35 1118.5,545.35 1119.0,545.35 1119.5,545.35 1120.0,545.35 1120.5,545.36 1121.0,545.36 1121.5,545.36 1122.0,545.36 1122.5,545.36 1123.0,545.37 1123.5,545.37 1124.0,545.37 1124.5,545.37 1125.0,545.37 1125.5,545.38 1126.0,545.38 1126.5,545.38 1127.0,545.38 1127.5,545.38 1128.0,545.38 1128.5,545.39 1129.0,545.39 1129.5,545.39 1130.0,545.39 1130,545.6" fill="rgba(165,106,188,0.88)"/>
<polyline points="813.0,544.88 813.5,544.87 814.0,544.86 814.5,544.85 815.0,544.84 815.5,544.82 816.0,544.81 816.5,544.80 817.0,544.79 817.5,544.78 818.0,544.77 818.5,544.76 819.0,544.74 819.5,544.73 820.0,544.72 820.5,544.70 821.0,544.69 821.5,544.68 822.0,544.66 822.5,544.65 823.0,544.63 823.5,544.62 824.0,544.60 824.5,544.59 825.0,544.57 825.5,544.56 826.0,544.54 826.5,544.52 827.0,544.51 827.5,544.49 828.0,544.47 828.5,544.45 829.0,544.43 829.5,544.41 830.0,544.39 830.5,544.37 831.0,544.35 831.5,544.33 832.0,544.31 832.5,544.29 833.0,544.27 833.5,544.24 834.0,544.22 834.5,544.20 835.0,544.17 835.5,544.15 836.0,544.12 836.5,544.10 837.0,544.07 837.5,544.04 838.0,544.02 838.5,543.99 839.0,543.96 839.5,543.93 840.0,543.90 840.5,543.87 841.0,543.84 841.5,543.81 842.0,543.78 842.5,543.75 843.0,543.71 843.5,543.68 844.0,543.64 844.5,543.61 845.0,543.57 845.5,543.54 846.0,543.50 846.5,543.46 847.0,543.43 847.5,543.39 848.0,543.35 848.5,543.31 849.0,543.27 849.5,543.22 850.0,543.18 850.5,543.14 851.0,543.09 851.5,543.05 852.0,543.00 852.5,542.96 853.0,542.91 853.5,542.86 854.0,542.81 854.5,542.76 855.0,542.71 855.5,542.66 856.0,542.61 856.5,542.56 857.0,542.51 857.5,542.45 858.0,542.40 858.5,542.34 859.0,542.28 859.5,542.23 860.0,542.17 860.5,542.11 861.0,542.05 861.5,541.99 862.0,541.92 862.5,541.86 863.0,541.80 863.5,541.73 864.0,541.66 864.5,541.60 865.0,541.53 865.5,541.46 866.0,541.39 866.5,541.32 867.0,541.25 867.5,541.18 868.0,541.10 868.5,541.03 869.0,540.95 869.5,540.88 870.0,540.80 870.5,540.72 871.0,540.64 871.5,540.56 872.0,540.48 872.5,540.40 873.0,540.32 873.5,540.23 874.0,540.15 874.5,540.06 875.0,539.97 875.5,539.88 876.0,539.80 876.5,539.71 877.0,539.61 877.5,539.52 878.0,539.43 878.5,539.34 879.0,539.24 879.5,539.14 880.0,539.05 880.5,538.95 881.0,538.85 881.5,538.75 882.0,538.65 882.5,538.55 883.0,538.45 883.5,538.34 884.0,538.24 884.5,538.13 885.0,538.03 885.5,537.92 886.0,537.81 886.5,537.70 887.0,537.59 887.5,537.48 888.0,537.37 888.5,537.26 889.0,537.14 889.5,537.03 890.0,536.92 890.5,536.80 891.0,536.68 891.5,536.57 892.0,536.45 892.5,536.33 893.0,536.21 893.5,536.09 894.0,535.97 894.5,535.84 895.0,535.72 895.5,535.60 896.0,535.47 896.5,535.35 897.0,535.22 897.5,535.10 898.0,534.97 898.5,534.84 899.0,534.71 899.5,534.59 900.0,534.46 900.5,534.33 901.0,534.20 901.5,534.06 902.0,533.93 902.5,533.80 903.0,533.67 903.5,533.53 904.0,533.40 904.5,533.26 905.0,533.13 905.5,532.99 906.0,532.85 906.5,532.71 907.0,532.57 907.5,532.43 908.0,532.29 908.5,532.15 909.0,532.01 909.5,531.87 910.0,531.72 910.5,531.58 911.0,531.43 911.5,531.29 912.0,531.14 912.5,530.99 913.0,530.84 913.5,530.69 914.0,530.54 914.5,530.38 915.0,530.22 915.5,530.07 916.0,529.91 916.5,529.74 917.0,529.58 917.5,529.41 918.0,529.24 918.5,529.07 919.0,528.90 919.5,528.72 920.0,528.54 920.5,528.35 921.0,528.17 921.5,527.97 922.0,527.78 922.5,527.58 923.0,527.37 923.5,527.16 924.0,526.94 924.5,526.72 925.0,526.49 925.5,526.26 926.0,526.02 926.5,525.77 927.0,525.51 927.5,525.24 928.0,524.97 928.5,524.69 929.0,524.39 929.5,524.09 930.0,523.78 930.5,523.45 931.0,523.12 931.5,522.77 932.0,522.41 932.5,522.03 933.0,521.64 933.5,521.24 934.0,520.82 934.5,520.38 935.0,519.93 935.5,519.46 936.0,518.98 936.5,518.47 937.0,517.95 937.5,517.40 938.0,516.84 938.5,516.25 939.0,515.64 939.5,515.01 940.0,514.36 940.5,513.69 941.0,512.98 941.5,512.26 942.0,511.51 942.5,510.73 943.0,509.93 943.5,509.10 944.0,508.25 944.5,507.36 945.0,506.45 945.5,505.51 946.0,504.55 946.5,503.55 947.0,502.53 947.5,501.47 948.0,500.39 948.5,499.28 949.0,498.15 949.5,496.98 950.0,495.79 950.5,494.56 951.0,493.32 951.5,492.04 952.0,490.74 952.5,489.41 953.0,488.06 953.5,486.68 954.0,485.28 954.5,483.86 955.0,482.42 955.5,480.96 956.0,479.48 956.5,477.98 957.0,476.47 957.5,474.94 958.0,473.40 958.5,471.84 959.0,470.28 959.5,468.72 960.0,467.14 960.5,465.56 961.0,463.99 961.5,462.41 962.0,460.83 962.5,459.26 963.0,457.70 963.5,456.15 964.0,454.61 964.5,453.09 965.0,451.58 965.5,450.09 966.0,448.63 966.5,447.19 967.0,445.79 967.5,444.41 968.0,443.06 968.5,441.76 969.0,440.49 969.5,439.26 970.0,438.08 970.5,436.95 971.0,435.87 971.5,434.84 972.0,433.86 972.5,432.94 973.0,432.09 973.5,431.29 974.0,430.56 974.5,429.90 975.0,429.30 975.5,428.78 976.0,428.32 976.5,427.94 977.0,427.64 977.5,427.41 978.0,427.26 978.5,427.18 979.0,427.18 979.5,427.26 980.0,427.42 980.5,427.65 981.0,427.96 981.5,428.35 982.0,428.81 982.5,429.35 983.0,429.96 983.5,430.65 984.0,431.40 984.5,432.23 985.0,433.12 985.5,434.07 986.0,435.09 986.5,436.17 987.0,437.31 987.5,438.50 988.0,439.75 988.5,441.05 989.0,442.39 989.5,443.78 990.0,445.22 990.5,446.69 991.0,448.20 991.5,449.74 992.0,451.32 992.5,452.92 993.0,454.55 993.5,456.20 994.0,457.87 994.5,459.56 995.0,461.27 995.5,462.98 996.0,464.71 996.5,466.44 997.0,468.18 997.5,469.92 998.0,471.66 998.5,473.40 999.0,475.13 999.5,476.86 1000.0,478.58 1000.5,480.29 1001.0,481.98 1001.5,483.66 1002.0,485.33 1002.5,486.98 1003.0,488.61 1003.5,490.22 1004.0,491.80 1004.5,493.37 1005.0,494.91 1005.5,496.42 1006.0,497.91 1006.5,499.37 1007.0,500.81 1007.5,502.21 1008.0,503.59 1008.5,504.94 1009.0,506.25 1009.5,507.54 1010.0,508.79 1010.5,510.02 1011.0,511.21 1011.5,512.37 1012.0,513.50 1012.5,514.60 1013.0,515.67 1013.5,516.70 1014.0,517.71 1014.5,518.68 1015.0,519.62 1015.5,520.54 1016.0,521.42 1016.5,522.27 1017.0,523.10 1017.5,523.90 1018.0,524.67 1018.5,525.41 1019.0,526.12 1019.5,526.81 1020.0,527.48 1020.5,528.12 1021.0,528.73 1021.5,529.32 1022.0,529.89 1022.5,530.43 1023.0,530.96 1023.5,531.46 1024.0,531.94 1024.5,532.41 1025.0,532.85 1025.5,533.28 1026.0,533.69 1026.5,534.08 1027.0,534.45 1027.5,534.81 1028.0,535.16 1028.5,535.49 1029.0,535.80 1029.5,536.10 1030.0,536.39 1030.5,536.67 1031.0,536.94 1031.5,537.19 1032.0,537.43 1032.5,537.67 1033.0,537.89 1033.5,538.10 1034.0,538.31 1034.5,538.51 1035.0,538.70 1035.5,538.88 1036.0,539.05 1036.5,539.22 1037.0,539.38 1037.5,539.53 1038.0,539.68 1038.5,539.82 1039.0,539.96 1039.5,540.09 1040.0,540.22 1040.5,540.34 1041.0,540.46 1041.5,540.58 1042.0,540.69 1042.5,540.79 1043.0,540.90 1043.5,541.00 1044.0,541.09 1044.5,541.19 1045.0,541.28 1045.5,541.36 1046.0,541.45 1046.5,541.53 1047.0,541.61 1047.5,541.69 1048.0,541.77 1048.5,541.84 1049.0,541.91 1049.5,541.98 1050.0,542.05 1050.5,542.12 1051.0,542.18 1051.5,542.24 1052.0,542.31 1052.5,542.37 1053.0,542.42 1053.5,542.48 1054.0,542.54 1054.5,542.59 1055.0,542.65 1055.5,542.70 1056.0,542.75 1056.5,542.80 1057.0,542.85 1057.5,542.90 1058.0,542.94 1058.5,542.99 1059.0,543.03 1059.5,543.08 1060.0,543.12 1060.5,543.16 1061.0,543.20 1061.5,543.25 1062.0,543.28 1062.5,543.32 1063.0,543.36 1063.5,543.40 1064.0,543.44 1064.5,543.47 1065.0,543.51 1065.5,543.54 1066.0,543.58 1066.5,543.61 1067.0,543.64 1067.5,543.67 1068.0,543.70 1068.5,543.73 1069.0,543.76 1069.5,543.79 1070.0,543.82 1070.5,543.85 1071.0,543.88 1071.5,543.91 1072.0,543.93 1072.5,543.96 1073.0,543.98 1073.5,544.01 1074.0,544.03 1074.5,544.06 1075.0,544.08 1075.5,544.10 1076.0,544.13 1076.5,544.15 1077.0,544.17 1077.5,544.19 1078.0,544.21 1078.5,544.23 1079.0,544.25 1079.5,544.27 1080.0,544.29 1080.5,544.31 1081.0,544.33 1081.5,544.35 1082.0,544.37 1082.5,544.38 1083.0,544.40 1083.5,544.42 1084.0,544.43 1084.5,544.45 1085.0,544.47 1085.5,544.48 1086.0,544.50 1086.5,544.51 1087.0,544.53 1087.5,544.54 1088.0,544.55 1088.5,544.57 1089.0,544.58 1089.5,544.59 1090.0,544.61 1090.5,544.62 1091.0,544.63 1091.5,544.64 1092.0,544.66 1092.5,544.67 1093.0,544.68 1093.5,544.69 1094.0,544.70 1094.5,544.71 1095.0,544.72 1095.5,544.73 1096.0,544.74 1096.5,544.75 1097.0,544.76 1097.5,544.77 1098.0,544.78 1098.5,544.79 1099.0,544.80 1099.5,544.81 1100.0,544.82 1100.5,544.82 1101.0,544.83 1101.5,544.84 1102.0,544.85 1102.5,544.86 1103.0,544.86 1103.5,544.87 1104.0,544.88 1104.5,544.89 1105.0,544.89 1105.5,544.90 1106.0,544.91 1106.5,544.91 1107.0,544.92 1107.5,544.93 1108.0,544.93 1108.5,544.94 1109.0,544.95 1109.5,544.95 1110.0,544.96 1110.5,544.96 1111.0,544.97 1111.5,544.98 1112.0,544.98 1112.5,544.99 1113.0,544.99 1113.5,545.00 1114.0,545.00 1114.5,545.01 1115.0,545.01 1115.5,545.02 1116.0,545.02 1116.5,545.03 1117.0,545.03 1117.5,545.04 1118.0,545.04 1118.5,545.05 1119.0,545.05 1119.5,545.05 1120.0,545.06 1120.5,545.06 1121.0,545.07 1121.5,545.07 1122.0,545.07 1122.5,545.08 1123.0,545.08 1123.5,545.09 1124.0,545.09 1124.5,545.09 1125.0,545.10 1125.5,545.10 1126.0,545.10 1126.5,545.11 1127.0,545.11 1127.5,545.11 1128.0,545.12 1128.5,545.12 1129.0,545.12 1129.5,545.13 1130.0,545.13" fill="none" stroke="#0a0a0a" stroke-width="2.1" stroke-linejoin="round"/>
<polygon points="813,711.8 813.0,711.62 813.5,711.62 814.0,711.62 814.5,711.62 815.0,711.62 815.5,711.62 816.0,711.62 816.5,711.62 817.0,711.61 817.5,711.61 818.0,711.61 818.5,711.61 819.0,711.61 819.5,711.61 820.0,711.61 820.5,711.61 821.0,711.60 821.5,711.60 822.0,711.60 822.5,711.60 823.0,711.60 823.5,711.60 824.0,711.60 824.5,711.60 825.0,711.60 825.5,711.59 826.0,711.59 826.5,711.59 827.0,711.59 827.5,711.59 828.0,711.59 828.5,711.59 829.0,711.58 829.5,711.58 830.0,711.58 830.5,711.58 831.0,711.58 831.5,711.58 832.0,711.58 832.5,711.57 833.0,711.57 833.5,711.57 834.0,711.57 834.5,711.57 835.0,711.57 835.5,711.57 836.0,711.56 836.5,711.56 837.0,711.56 837.5,711.56 838.0,711.56 838.5,711.56 839.0,711.55 839.5,711.55 840.0,711.55 840.5,711.55 841.0,711.55 841.5,711.55 842.0,711.54 842.5,711.54 843.0,711.54 843.5,711.54 844.0,711.54 844.5,711.53 845.0,711.53 845.5,711.53 846.0,711.53 846.5,711.53 847.0,711.53 847.5,711.52 848.0,711.52 848.5,711.52 849.0,711.52 849.5,711.51 850.0,711.51 850.5,711.51 851.0,711.51 851.5,711.51 852.0,711.50 852.5,711.50 853.0,711.50 853.5,711.50 854.0,711.50 854.5,711.49 855.0,711.49 855.5,711.49 856.0,711.49 856.5,711.48 857.0,711.48 857.5,711.48 858.0,711.48 858.5,711.47 859.0,711.47 859.5,711.47 860.0,711.47 860.5,711.46 861.0,711.46 861.5,711.46 862.0,711.45 862.5,711.45 863.0,711.45 863.5,711.45 864.0,711.44 864.5,711.44 865.0,711.44 865.5,711.43 866.0,711.43 866.5,711.43 867.0,711.43 867.5,711.42 868.0,711.42 868.5,711.42 869.0,711.41 869.5,711.41 870.0,711.41 870.5,711.40 871.0,711.40 871.5,711.40 872.0,711.39 872.5,711.39 873.0,711.38 873.5,711.38 874.0,711.38 874.5,711.37 875.0,711.37 875.5,711.37 876.0,711.36 876.5,711.36 877.0,711.35 877.5,711.35 878.0,711.35 878.5,711.34 879.0,711.34 879.5,711.33 880.0,711.33 880.5,711.32 881.0,711.32 881.5,711.31 882.0,711.31 882.5,711.31 883.0,711.30 883.5,711.30 884.0,711.29 884.5,711.29 885.0,711.28 885.5,711.28 886.0,711.27 886.5,711.27 887.0,711.26 887.5,711.25 888.0,711.25 888.5,711.24 889.0,711.24 889.5,711.23 890.0,711.23 890.5,711.22 891.0,711.21 891.5,711.21 892.0,711.20 892.5,711.20 893.0,711.19 893.5,711.18 894.0,711.18 894.5,711.17 895.0,711.16 895.5,711.16 896.0,711.15 896.5,711.14 897.0,711.13 897.5,711.13 898.0,711.12 898.5,711.11 899.0,711.10 899.5,711.10 900.0,711.09 900.5,711.08 901.0,711.07 901.5,711.06 902.0,711.05 902.5,711.04 903.0,711.04 903.5,711.03 904.0,711.02 904.5,711.01 905.0,711.00 905.5,710.99 906.0,710.98 906.5,710.97 907.0,710.96 907.5,710.94 908.0,710.93 908.5,710.92 909.0,710.91 909.5,710.90 910.0,710.88 910.5,710.87 911.0,710.86 911.5,710.84 912.0,710.83 912.5,710.82 913.0,710.80 913.5,710.78 914.0,710.77 914.5,710.75 915.0,710.73 915.5,710.72 916.0,710.70 916.5,710.68 917.0,710.66 917.5,710.63 918.0,710.61 918.5,710.59 919.0,710.56 919.5,710.54 920.0,710.51 920.5,710.48 921.0,710.45 921.5,710.42 922.0,710.38 922.5,710.35 923.0,710.31 923.5,710.27 924.0,710.22 924.5,710.18 925.0,710.13 925.5,710.08 926.0,710.02 926.5,709.96 927.0,709.90 927.5,709.83 928.0,709.76 928.5,709.68 929.0,709.60 929.5,709.51 930.0,709.42 930.5,709.32 931.0,709.22 931.5,709.10 932.0,708.98 932.5,708.85 933.0,708.72 933.5,708.57 934.0,708.41 934.5,708.25 935.0,708.07 935.5,707.88 936.0,707.68 936.5,707.47 937.0,707.24 937.5,707.00 938.0,706.74 938.5,706.47 939.0,706.18 939.5,705.87 940.0,705.55 940.5,705.21 941.0,704.84 941.5,704.46 942.0,704.05 942.5,703.62 943.0,703.17 943.5,702.69 944.0,702.19 944.5,701.66 945.0,701.10 945.5,700.52 946.0,699.90 946.5,699.26 947.0,698.58 947.5,697.88 948.0,697.14 948.5,696.37 949.0,695.56 949.5,694.72 950.0,693.84 950.5,692.93 951.0,691.98 951.5,690.99 952.0,689.97 952.5,688.91 953.0,687.81 953.5,686.67 954.0,685.49 954.5,684.28 955.0,683.03 955.5,681.73 956.0,680.40 956.5,679.04 957.0,677.63 957.5,676.19 958.0,674.72 958.5,673.20 959.0,671.66 959.5,670.08 960.0,668.47 960.5,666.83 961.0,665.16 961.5,663.47 962.0,661.75 962.5,660.00 963.0,658.24 963.5,656.45 964.0,654.65 964.5,652.84 965.0,651.01 965.5,649.17 966.0,647.33 966.5,645.48 967.0,643.64 967.5,641.79 968.0,639.95 968.5,638.12 969.0,636.31 969.5,634.51 970.0,632.73 970.5,630.97 971.0,629.24 971.5,627.54 972.0,625.87 972.5,624.25 973.0,622.66 973.5,621.12 974.0,619.63 974.5,618.20 975.0,616.82 975.5,615.50 976.0,614.25 976.5,613.06 977.0,611.95 977.5,610.91 978.0,609.94 978.5,609.06 979.0,608.26 979.5,607.55 980.0,606.92 980.5,606.39 981.0,605.94 981.5,605.59 982.0,605.33 982.5,605.17 983.0,605.10 983.5,605.12 984.0,605.22 984.5,605.39 985.0,605.63 985.5,605.94 986.0,606.32 986.5,606.77 987.0,607.29 987.5,607.88 988.0,608.53 988.5,609.25 989.0,610.04 989.5,610.88 990.0,611.78 990.5,612.74 991.0,613.75 991.5,614.82 992.0,615.94 992.5,617.10 993.0,618.31 993.5,619.57 994.0,620.86 994.5,622.19 995.0,623.56 995.5,624.96 996.0,626.40 996.5,627.86 997.0,629.34 997.5,630.85 998.0,632.39 998.5,633.93 999.0,635.50 999.5,637.08 1000.0,638.67 1000.5,640.27 1001.0,641.87 1001.5,643.48 1002.0,645.09 1002.5,646.70 1003.0,648.31 1003.5,649.92 1004.0,651.52 1004.5,653.11 1005.0,654.70 1005.5,656.27 1006.0,657.83 1006.5,659.38 1007.0,660.91 1007.5,662.42 1008.0,663.91 1008.5,665.39 1009.0,666.84 1009.5,668.28 1010.0,669.69 1010.5,671.07 1011.0,672.43 1011.5,673.77 1012.0,675.08 1012.5,676.36 1013.0,677.62 1013.5,678.85 1014.0,680.05 1014.5,681.22 1015.0,682.36 1015.5,683.47 1016.0,684.56 1016.5,685.61 1017.0,686.64 1017.5,687.63 1018.0,688.60 1018.5,689.54 1019.0,690.45 1019.5,691.33 1020.0,692.18 1020.5,693.00 1021.0,693.80 1021.5,694.57 1022.0,695.31 1022.5,696.02 1023.0,696.71 1023.5,697.38 1024.0,698.01 1024.5,698.63 1025.0,699.22 1025.5,699.78 1026.0,700.32 1026.5,700.84 1027.0,701.34 1027.5,701.82 1028.0,702.28 1028.5,702.71 1029.0,703.13 1029.5,703.53 1030.0,703.91 1030.5,704.27 1031.0,704.62 1031.5,704.95 1032.0,705.26 1032.5,705.56 1033.0,705.84 1033.5,706.11 1034.0,706.37 1034.5,706.61 1035.0,706.84 1035.5,707.06 1036.0,707.27 1036.5,707.47 1037.0,707.66 1037.5,707.83 1038.0,708.00 1038.5,708.16 1039.0,708.31 1039.5,708.45 1040.0,708.59 1040.5,708.72 1041.0,708.84 1041.5,708.95 1042.0,709.06 1042.5,709.16 1043.0,709.25 1043.5,709.34 1044.0,709.43 1044.5,709.51 1045.0,709.59 1045.5,709.66 1046.0,709.73 1046.5,709.79 1047.0,709.85 1047.5,709.91 1048.0,709.97 1048.5,710.02 1049.0,710.07 1049.5,710.11 1050.0,710.16 1050.5,710.20 1051.0,710.24 1051.5,710.27 1052.0,710.31 1052.5,710.34 1053.0,710.37 1053.5,710.41 1054.0,710.43 1054.5,710.46 1055.0,710.49 1055.5,710.51 1056.0,710.54 1056.5,710.56 1057.0,710.58 1057.5,710.60 1058.0,710.62 1058.5,710.64 1059.0,710.66 1059.5,710.68 1060.0,710.70 1060.5,710.71 1061.0,710.73 1061.5,710.75 1062.0,710.76 1062.5,710.77 1063.0,710.79 1063.5,710.80 1064.0,710.82 1064.5,710.83 1065.0,710.84 1065.5,710.85 1066.0,710.86 1066.5,710.88 1067.0,710.89 1067.5,710.90 1068.0,710.91 1068.5,710.92 1069.0,710.93 1069.5,710.94 1070.0,710.95 1070.5,710.96 1071.0,710.97 1071.5,710.98 1072.0,710.99 1072.5,711.00 1073.0,711.00 1073.5,711.01 1074.0,711.02 1074.5,711.03 1075.0,711.04 1075.5,711.05 1076.0,711.05 1076.5,711.06 1077.0,711.07 1077.5,711.08 1078.0,711.08 1078.5,711.09 1079.0,711.10 1079.5,711.10 1080.0,711.11 1080.5,711.12 1081.0,711.12 1081.5,711.13 1082.0,711.14 1082.5,711.14 1083.0,711.15 1083.5,711.16 1084.0,711.16 1084.5,711.17 1085.0,711.17 1085.5,711.18 1086.0,711.19 1086.5,711.19 1087.0,711.20 1087.5,711.20 1088.0,711.21 1088.5,711.21 1089.0,711.22 1089.5,711.22 1090.0,711.23 1090.5,711.23 1091.0,711.24 1091.5,711.24 1092.0,711.25 1092.5,711.25 1093.0,711.26 1093.5,711.26 1094.0,711.27 1094.5,711.27 1095.0,711.28 1095.5,711.28 1096.0,711.29 1096.5,711.29 1097.0,711.29 1097.5,711.30 1098.0,711.30 1098.5,711.31 1099.0,711.31 1099.5,711.31 1100.0,711.32 1100.5,711.32 1101.0,711.33 1101.5,711.33 1102.0,711.33 1102.5,711.34 1103.0,711.34 1103.5,711.35 1104.0,711.35 1104.5,711.35 1105.0,711.36 1105.5,711.36 1106.0,711.36 1106.5,711.37 1107.0,711.37 1107.5,711.37 1108.0,711.38 1108.5,711.38 1109.0,711.38 1109.5,711.39 1110.0,711.39 1110.5,711.39 1111.0,711.40 1111.5,711.40 1112.0,711.40 1112.5,711.40 1113.0,711.41 1113.5,711.41 1114.0,711.41 1114.5,711.42 1115.0,711.42 1115.5,711.42 1116.0,711.42 1116.5,711.43 1117.0,711.43 1117.5,711.43 1118.0,711.44 1118.5,711.44 1119.0,711.44 1119.5,711.44 1120.0,711.45 1120.5,711.45 1121.0,711.45 1121.5,711.45 1122.0,711.46 1122.5,711.46 1123.0,711.46 1123.5,711.46 1124.0,711.46 1124.5,711.47 1125.0,711.47 1125.5,711.47 1126.0,711.47 1126.5,711.48 1127.0,711.48 1127.5,711.48 1128.0,711.48 1128.5,711.48 1129.0,711.49 1129.5,711.49 1130.0,711.49 1130,711.8" fill="#1db35c"/>
<polygon points="813,711.8 813.0,711.01 813.5,711.00 814.0,710.98 814.5,710.97 815.0,710.96 815.5,710.94 816.0,710.93 816.5,710.91 817.0,710.90 817.5,710.88 818.0,710.87 818.5,710.85 819.0,710.83 819.5,710.82 820.0,710.80 820.5,710.78 821.0,710.76 821.5,710.74 822.0,710.72 822.5,710.70 823.0,710.68 823.5,710.66 824.0,710.64 824.5,710.62 825.0,710.59 825.5,710.57 826.0,710.55 826.5,710.52 827.0,710.50 827.5,710.47 828.0,710.44 828.5,710.42 829.0,710.39 829.5,710.36 830.0,710.33 830.5,710.30 831.0,710.27 831.5,710.24 832.0,710.21 832.5,710.17 833.0,710.14 833.5,710.10 834.0,710.07 834.5,710.03 835.0,709.99 835.5,709.95 836.0,709.92 836.5,709.88 837.0,709.83 837.5,709.79 838.0,709.75 838.5,709.70 839.0,709.66 839.5,709.61 840.0,709.57 840.5,709.52 841.0,709.47 841.5,709.42 842.0,709.37 842.5,709.31 843.0,709.26 843.5,709.20 844.0,709.15 844.5,709.09 845.0,709.03 845.5,708.97 846.0,708.91 846.5,708.85 847.0,708.78 847.5,708.72 848.0,708.65 848.5,708.58 849.0,708.51 849.5,708.44 850.0,708.37 850.5,708.29 851.0,708.22 851.5,708.14 852.0,708.06 852.5,707.98 853.0,707.90 853.5,707.82 854.0,707.73 854.5,707.64 855.0,707.56 855.5,707.47 856.0,707.37 856.5,707.28 857.0,707.19 857.5,707.09 858.0,706.99 858.5,706.89 859.0,706.79 859.5,706.68 860.0,706.58 860.5,706.47 861.0,706.36 861.5,706.25 862.0,706.13 862.5,706.02 863.0,705.90 863.5,705.78 864.0,705.66 864.5,705.54 865.0,705.41 865.5,705.29 866.0,705.16 866.5,705.03 867.0,704.89 867.5,704.76 868.0,704.62 868.5,704.48 869.0,704.34 869.5,704.20 870.0,704.05 870.5,703.90 871.0,703.75 871.5,703.60 872.0,703.45 872.5,703.29 873.0,703.13 873.5,702.97 874.0,702.81 874.5,702.65 875.0,702.48 875.5,702.31 876.0,702.14 876.5,701.97 877.0,701.79 877.5,701.62 878.0,701.44 878.5,701.26 879.0,701.07 879.5,700.89 880.0,700.70 880.5,700.51 881.0,700.32 881.5,700.13 882.0,699.93 882.5,699.73 883.0,699.54 883.5,699.33 884.0,699.13 884.5,698.93 885.0,698.72 885.5,698.51 886.0,698.30 886.5,698.09 887.0,697.87 887.5,697.66 888.0,697.44 888.5,697.22 889.0,697.00 889.5,696.77 890.0,696.55 890.5,696.32 891.0,696.10 891.5,695.87 892.0,695.64 892.5,695.40 893.0,695.17 893.5,694.94 894.0,694.70 894.5,694.46 895.0,694.22 895.5,693.98 896.0,693.74 896.5,693.50 897.0,693.26 897.5,693.01 898.0,692.77 898.5,692.52 899.0,692.27 899.5,692.03 900.0,691.78 900.5,691.53 901.0,691.28 901.5,691.03 902.0,690.78 902.5,690.53 903.0,690.27 903.5,690.02 904.0,689.77 904.5,689.52 905.0,689.26 905.5,689.01 906.0,688.76 906.5,688.50 907.0,688.25 907.5,688.00 908.0,687.75 908.5,687.49 909.0,687.24 909.5,686.99 910.0,686.74 910.5,686.49 911.0,686.24 911.5,685.99 912.0,685.75 912.5,685.50 913.0,685.25 913.5,685.01 914.0,684.77 914.5,684.52 915.0,684.28 915.5,684.04 916.0,683.81 916.5,683.57 917.0,683.33 917.5,683.10 918.0,682.87 918.5,682.64 919.0,682.41 919.5,682.19 920.0,681.97 920.5,681.74 921.0,681.53 921.5,681.31 922.0,681.10 922.5,680.89 923.0,680.68 923.5,680.47 924.0,680.27 924.5,680.07 925.0,679.87 925.5,679.68 926.0,679.49 926.5,679.30 927.0,679.11 927.5,678.93 928.0,678.75 928.5,678.58 929.0,678.41 929.5,678.24 930.0,678.08 930.5,677.92 931.0,677.77 931.5,677.61 932.0,677.47 932.5,677.32 933.0,677.18 933.5,677.05 934.0,676.92 934.5,676.79 935.0,676.67 935.5,676.55 936.0,676.44 936.5,676.33 937.0,676.23 937.5,676.13 938.0,676.04 938.5,675.95 939.0,675.86 939.5,675.78 940.0,675.71 940.5,675.64 941.0,675.57 941.5,675.52 942.0,675.46 942.5,675.41 943.0,675.37 943.5,675.33 944.0,675.29 944.5,675.27 945.0,675.24 945.5,675.22 946.0,675.21 946.5,675.20 947.0,675.20 947.5,675.20 948.0,675.21 948.5,675.22 949.0,675.24 949.5,675.27 950.0,675.29 950.5,675.33 951.0,675.37 951.5,675.41 952.0,675.46 952.5,675.52 953.0,675.57 953.5,675.64 954.0,675.71 954.5,675.78 955.0,675.86 955.5,675.95 956.0,676.04 956.5,676.13 957.0,676.23 957.5,676.33 958.0,676.44 958.5,676.55 959.0,676.67 959.5,676.79 960.0,676.92 960.5,677.05 961.0,677.18 961.5,677.32 962.0,677.47 962.5,677.61 963.0,677.77 963.5,677.92 964.0,678.08 964.5,678.24 965.0,678.41 965.5,678.58 966.0,678.75 966.5,678.93 967.0,679.11 967.5,679.30 968.0,679.49 968.5,679.68 969.0,679.87 969.5,680.07 970.0,680.27 970.5,680.47 971.0,680.68 971.5,680.89 972.0,681.10 972.5,681.31 973.0,681.53 973.5,681.74 974.0,681.97 974.5,682.19 975.0,682.41 975.5,682.64 976.0,682.87 976.5,683.10 977.0,683.33 977.5,683.57 978.0,683.81 978.5,684.04 979.0,684.28 979.5,684.52 980.0,684.77 980.5,685.01 981.0,685.25 981.5,685.50 982.0,685.75 982.5,685.99 983.0,686.24 983.5,686.49 984.0,686.74 984.5,686.99 985.0,687.24 985.5,687.49 986.0,687.75 986.5,688.00 987.0,688.25 987.5,688.50 988.0,688.76 988.5,689.01 989.0,689.26 989.5,689.52 990.0,689.77 990.5,690.02 991.0,690.27 991.5,690.53 992.0,690.78 992.5,691.03 993.0,691.28 993.5,691.53 994.0,691.78 994.5,692.03 995.0,692.27 995.5,692.52 996.0,692.77 996.5,693.01 997.0,693.26 997.5,693.50 998.0,693.74 998.5,693.98 999.0,694.22 999.5,694.46 1000.0,694.70 1000.5,694.94 1001.0,695.17 1001.5,695.40 1002.0,695.64 1002.5,695.87 1003.0,696.10 1003.5,696.32 1004.0,696.55 1004.5,696.77 1005.0,697.00 1005.5,697.22 1006.0,697.44 1006.5,697.66 1007.0,697.87 1007.5,698.09 1008.0,698.30 1008.5,698.51 1009.0,698.72 1009.5,698.93 1010.0,699.13 1010.5,699.33 1011.0,699.54 1011.5,699.73 1012.0,699.93 1012.5,700.13 1013.0,700.32 1013.5,700.51 1014.0,700.70 1014.5,700.89 1015.0,701.07 1015.5,701.26 1016.0,701.44 1016.5,701.62 1017.0,701.79 1017.5,701.97 1018.0,702.14 1018.5,702.31 1019.0,702.48 1019.5,702.65 1020.0,702.81 1020.5,702.97 1021.0,703.13 1021.5,703.29 1022.0,703.45 1022.5,703.60 1023.0,703.75 1023.5,703.90 1024.0,704.05 1024.5,704.20 1025.0,704.34 1025.5,704.48 1026.0,704.62 1026.5,704.76 1027.0,704.89 1027.5,705.03 1028.0,705.16 1028.5,705.29 1029.0,705.41 1029.5,705.54 1030.0,705.66 1030.5,705.78 1031.0,705.90 1031.5,706.02 1032.0,706.13 1032.5,706.25 1033.0,706.36 1033.5,706.47 1034.0,706.58 1034.5,706.68 1035.0,706.79 1035.5,706.89 1036.0,706.99 1036.5,707.09 1037.0,707.19 1037.5,707.28 1038.0,707.37 1038.5,707.47 1039.0,707.56 1039.5,707.64 1040.0,707.73 1040.5,707.82 1041.0,707.90 1041.5,707.98 1042.0,708.06 1042.5,708.14 1043.0,708.22 1043.5,708.29 1044.0,708.37 1044.5,708.44 1045.0,708.51 1045.5,708.58 1046.0,708.65 1046.5,708.72 1047.0,708.78 1047.5,708.85 1048.0,708.91 1048.5,708.97 1049.0,709.03 1049.5,709.09 1050.0,709.15 1050.5,709.20 1051.0,709.26 1051.5,709.31 1052.0,709.37 1052.5,709.42 1053.0,709.47 1053.5,709.52 1054.0,709.57 1054.5,709.61 1055.0,709.66 1055.5,709.70 1056.0,709.75 1056.5,709.79 1057.0,709.83 1057.5,709.88 1058.0,709.92 1058.5,709.95 1059.0,709.99 1059.5,710.03 1060.0,710.07 1060.5,710.10 1061.0,710.14 1061.5,710.17 1062.0,710.21 1062.5,710.24 1063.0,710.27 1063.5,710.30 1064.0,710.33 1064.5,710.36 1065.0,710.39 1065.5,710.42 1066.0,710.44 1066.5,710.47 1067.0,710.50 1067.5,710.52 1068.0,710.55 1068.5,710.57 1069.0,710.59 1069.5,710.62 1070.0,710.64 1070.5,710.66 1071.0,710.68 1071.5,710.70 1072.0,710.72 1072.5,710.74 1073.0,710.76 1073.5,710.78 1074.0,710.80 1074.5,710.82 1075.0,710.83 1075.5,710.85 1076.0,710.87 1076.5,710.88 1077.0,710.90 1077.5,710.91 1078.0,710.93 1078.5,710.94 1079.0,710.96 1079.5,710.97 1080.0,710.98 1080.5,711.00 1081.0,711.01 1081.5,711.02 1082.0,711.03 1082.5,711.05 1083.0,711.06 1083.5,711.07 1084.0,711.08 1084.5,711.09 1085.0,711.10 1085.5,711.11 1086.0,711.12 1086.5,711.13 1087.0,711.14 1087.5,711.15 1088.0,711.16 1088.5,711.16 1089.0,711.17 1089.5,711.18 1090.0,711.19 1090.5,711.20 1091.0,711.20 1091.5,711.21 1092.0,711.22 1092.5,711.23 1093.0,711.23 1093.5,711.24 1094.0,711.25 1094.5,711.25 1095.0,711.26 1095.5,711.26 1096.0,711.27 1096.5,711.28 1097.0,711.28 1097.5,711.29 1098.0,711.29 1098.5,711.30 1099.0,711.30 1099.5,711.31 1100.0,711.31 1100.5,711.32 1101.0,711.32 1101.5,711.33 1102.0,711.33 1102.5,711.34 1103.0,711.34 1103.5,711.34 1104.0,711.35 1104.5,711.35 1105.0,711.36 1105.5,711.36 1106.0,711.36 1106.5,711.37 1107.0,711.37 1107.5,711.38 1108.0,711.38 1108.5,711.38 1109.0,711.39 1109.5,711.39 1110.0,711.39 1110.5,711.39 1111.0,711.40 1111.5,711.40 1112.0,711.40 1112.5,711.41 1113.0,711.41 1113.5,711.41 1114.0,711.42 1114.5,711.42 1115.0,711.42 1115.5,711.42 1116.0,711.43 1116.5,711.43 1117.0,711.43 1117.5,711.43 1118.0,711.44 1118.5,711.44 1119.0,711.44 1119.5,711.44 1120.0,711.45 1120.5,711.45 1121.0,711.45 1121.5,711.45 1122.0,711.45 1122.5,711.46 1123.0,711.46 1123.5,711.46 1124.0,711.46 1124.5,711.46 1125.0,711.47 1125.5,711.47 1126.0,711.47 1126.5,711.47 1127.0,711.47 1127.5,711.48 1128.0,711.48 1128.5,711.48 1129.0,711.48 1129.5,711.48 1130.0,711.49 1130,711.8" fill="rgba(165,106,188,0.88)"/>
<polyline points="813.0,710.91 813.5,710.90 814.0,710.89 814.5,710.87 815.0,710.86 815.5,710.85 816.0,710.83 816.5,710.82 817.0,710.80 817.5,710.79 818.0,710.77 818.5,710.76 819.0,710.74 819.5,710.72 820.0,710.71 820.5,710.69 821.0,710.67 821.5,710.65 822.0,710.63 822.5,710.61 823.0,710.59 823.5,710.57 824.0,710.55 824.5,710.53 825.0,710.51 825.5,710.49 826.0,710.46 826.5,710.44 827.0,710.42 827.5,710.39 828.0,710.37 828.5,710.34 829.0,710.31 829.5,710.29 830.0,710.26 830.5,710.23 831.0,710.20 831.5,710.17 832.0,710.14 832.5,710.11 833.0,710.08 833.5,710.04 834.0,710.01 834.5,709.98 835.0,709.94 835.5,709.90 836.0,709.87 836.5,709.83 837.0,709.79 837.5,709.75 838.0,709.71 838.5,709.67 839.0,709.63 839.5,709.58 840.0,709.54 840.5,709.49 841.0,709.45 841.5,709.40 842.0,709.35 842.5,709.30 843.0,709.25 843.5,709.20 844.0,709.15 844.5,709.10 845.0,709.04 845.5,708.98 846.0,708.93 846.5,708.87 847.0,708.81 847.5,708.75 848.0,708.69 848.5,708.62 849.0,708.56 849.5,708.49 850.0,708.42 850.5,708.35 851.0,708.28 851.5,708.21 852.0,708.14 852.5,708.06 853.0,707.99 853.5,707.91 854.0,707.83 854.5,707.75 855.0,707.67 855.5,707.59 856.0,707.50 856.5,707.42 857.0,707.33 857.5,707.24 858.0,707.15 858.5,707.05 859.0,706.96 859.5,706.86 860.0,706.76 860.5,706.66 861.0,706.56 861.5,706.46 862.0,706.36 862.5,706.25 863.0,706.14 863.5,706.03 864.0,705.92 864.5,705.80 865.0,705.69 865.5,705.57 866.0,705.45 866.5,705.33 867.0,705.21 867.5,705.08 868.0,704.96 868.5,704.83 869.0,704.70 869.5,704.57 870.0,704.43 870.5,704.30 871.0,704.16 871.5,704.02 872.0,703.87 872.5,703.73 873.0,703.58 873.5,703.44 874.0,703.29 874.5,703.14 875.0,702.98 875.5,702.83 876.0,702.67 876.5,702.51 877.0,702.35 877.5,702.18 878.0,702.02 878.5,701.85 879.0,701.68 879.5,701.51 880.0,701.34 880.5,701.16 881.0,700.99 881.5,700.81 882.0,700.63 882.5,700.45 883.0,700.26 883.5,700.08 884.0,699.89 884.5,699.70 885.0,699.51 885.5,699.31 886.0,699.12 886.5,698.92 887.0,698.73 887.5,698.53 888.0,698.32 888.5,698.12 889.0,697.92 889.5,697.71 890.0,697.50 890.5,697.29 891.0,697.08 891.5,696.87 892.0,696.66 892.5,696.44 893.0,696.22 893.5,696.01 894.0,695.79 894.5,695.57 895.0,695.34 895.5,695.12 896.0,694.90 896.5,694.67 897.0,694.45 897.5,694.22 898.0,693.99 898.5,693.76 899.0,693.53 899.5,693.30 900.0,693.07 900.5,692.83 901.0,692.60 901.5,692.37 902.0,692.13 902.5,691.90 903.0,691.66 903.5,691.43 904.0,691.19 904.5,690.95 905.0,690.71 905.5,690.48 906.0,690.24 906.5,690.00 907.0,689.76 907.5,689.52 908.0,689.29 908.5,689.05 909.0,688.81 909.5,688.57 910.0,688.33 910.5,688.09 911.0,687.86 911.5,687.62 912.0,687.38 912.5,687.15 913.0,686.91 913.5,686.67 914.0,686.44 914.5,686.20 915.0,685.97 915.5,685.73 916.0,685.50 916.5,685.27 917.0,685.04 917.5,684.81 918.0,684.57 918.5,684.34 919.0,684.12 919.5,683.89 920.0,683.66 920.5,683.43 921.0,683.20 921.5,682.98 922.0,682.75 922.5,682.52 923.0,682.30 923.5,682.07 924.0,681.84 924.5,681.62 925.0,681.39 925.5,681.16 926.0,680.94 926.5,680.71 927.0,680.48 927.5,680.25 928.0,680.02 928.5,679.78 929.0,679.55 929.5,679.31 930.0,679.07 930.5,678.83 931.0,678.58 931.5,678.34 932.0,678.08 932.5,677.83 933.0,677.56 933.5,677.30 934.0,677.02 934.5,676.74 935.0,676.46 935.5,676.16 936.0,675.86 936.5,675.55 937.0,675.23 937.5,674.90 938.0,674.56 938.5,674.20 939.0,673.84 939.5,673.46 940.0,673.07 940.5,672.66 941.0,672.24 941.5,671.80 942.0,671.35 942.5,670.87 943.0,670.38 943.5,669.87 944.0,669.33 944.5,668.78 945.0,668.20 945.5,667.60 946.0,666.97 946.5,666.32 947.0,665.64 947.5,664.94 948.0,664.21 948.5,663.45 949.0,662.66 949.5,661.84 950.0,660.99 950.5,660.11 951.0,659.19 951.5,658.24 952.0,657.27 952.5,656.25 953.0,655.21 953.5,654.13 954.0,653.01 954.5,651.86 955.0,650.68 955.5,649.47 956.0,648.22 956.5,646.93 957.0,645.62 957.5,644.27 958.0,642.89 958.5,641.48 959.0,640.04 959.5,638.57 960.0,637.08 960.5,635.56 961.0,634.01 961.5,632.44 962.0,630.85 962.5,629.24 963.0,627.61 963.5,625.96 964.0,624.30 964.5,622.63 965.0,620.96 965.5,619.27 966.0,617.59 966.5,615.90 967.0,614.22 967.5,612.54 968.0,610.87 968.5,609.21 969.0,607.57 969.5,605.95 970.0,604.35 970.5,602.77 971.0,601.23 971.5,599.72 972.0,598.24 972.5,596.81 973.0,595.42 973.5,594.07 974.0,592.78 974.5,591.55 975.0,590.37 975.5,589.26 976.0,588.21 976.5,587.23 977.0,586.33 977.5,585.50 978.0,584.75 978.5,584.08 979.0,583.50 979.5,583.00 980.0,582.59 980.5,582.27 981.0,582.05 981.5,581.92 982.0,581.88 982.5,581.94 983.0,582.10 983.5,582.35 984.0,582.70 984.5,583.15 985.0,583.69 985.5,584.32 986.0,585.05 986.5,585.87 987.0,586.77 987.5,587.77 988.0,588.84 988.5,590.00 989.0,591.24 989.5,592.55 990.0,593.94 990.5,595.39 991.0,596.91 991.5,598.49 992.0,600.13 992.5,601.83 993.0,603.57 993.5,605.36 994.0,607.20 994.5,609.07 995.0,610.98 995.5,612.92 996.0,614.89 996.5,616.88 997.0,618.90 997.5,620.93 998.0,622.97 998.5,625.02 999.0,627.08 999.5,629.14 1000.0,631.20 1000.5,633.26 1001.0,635.31 1001.5,637.35 1002.0,639.38 1002.5,641.39 1003.0,643.39 1003.5,645.37 1004.0,647.33 1004.5,649.26 1005.0,651.17 1005.5,653.04 1006.0,654.89 1006.5,656.71 1007.0,658.50 1007.5,660.25 1008.0,661.96 1008.5,663.64 1009.0,665.29 1009.5,666.89 1010.0,668.46 1010.5,669.99 1011.0,671.48 1011.5,672.92 1012.0,674.33 1012.5,675.70 1013.0,677.03 1013.5,678.31 1014.0,679.56 1014.5,680.77 1015.0,681.94 1015.5,683.07 1016.0,684.16 1016.5,685.21 1017.0,686.22 1017.5,687.20 1018.0,688.14 1018.5,689.05 1019.0,689.92 1019.5,690.76 1020.0,691.56 1020.5,692.33 1021.0,693.07 1021.5,693.78 1022.0,694.46 1022.5,695.11 1023.0,695.74 1023.5,696.34 1024.0,696.91 1024.5,697.45 1025.0,697.98 1025.5,698.48 1026.0,698.95 1026.5,699.41 1027.0,699.84 1027.5,700.26 1028.0,700.66 1028.5,701.04 1029.0,701.40 1029.5,701.74 1030.0,702.07 1030.5,702.39 1031.0,702.69 1031.5,702.98 1032.0,703.25 1032.5,703.51 1033.0,703.76 1033.5,704.00 1034.0,704.23 1034.5,704.45 1035.0,704.66 1035.5,704.86 1036.0,705.05 1036.5,705.24 1037.0,705.41 1037.5,705.58 1038.0,705.75 1038.5,705.90 1039.0,706.05 1039.5,706.20 1040.0,706.33 1040.5,706.47 1041.0,706.60 1041.5,706.72 1042.0,706.84 1042.5,706.95 1043.0,707.07 1043.5,707.17 1044.0,707.28 1044.5,707.38 1045.0,707.48 1045.5,707.57 1046.0,707.66 1046.5,707.75 1047.0,707.84 1047.5,707.92 1048.0,708.00 1048.5,708.08 1049.0,708.15 1049.5,708.23 1050.0,708.30 1050.5,708.37 1051.0,708.44 1051.5,708.51 1052.0,708.57 1052.5,708.63 1053.0,708.70 1053.5,708.76 1054.0,708.81 1054.5,708.87 1055.0,708.93 1055.5,708.98 1056.0,709.03 1056.5,709.08 1057.0,709.14 1057.5,709.18 1058.0,709.23 1058.5,709.28 1059.0,709.32 1059.5,709.37 1060.0,709.41 1060.5,709.46 1061.0,709.50 1061.5,709.54 1062.0,709.58 1062.5,709.62 1063.0,709.65 1063.5,709.69 1064.0,709.73 1064.5,709.76 1065.0,709.80 1065.5,709.83 1066.0,709.86 1066.5,709.90 1067.0,709.93 1067.5,709.96 1068.0,709.99 1068.5,710.02 1069.0,710.05 1069.5,710.07 1070.0,710.10 1070.5,710.13 1071.0,710.15 1071.5,710.18 1072.0,710.20 1072.5,710.23 1073.0,710.25 1073.5,710.28 1074.0,710.30 1074.5,710.32 1075.0,710.34 1075.5,710.36 1076.0,710.38 1076.5,710.40 1077.0,710.42 1077.5,710.44 1078.0,710.46 1078.5,710.48 1079.0,710.50 1079.5,710.52 1080.0,710.53 1080.5,710.55 1081.0,710.57 1081.5,710.58 1082.0,710.60 1082.5,710.61 1083.0,710.63 1083.5,710.64 1084.0,710.66 1084.5,710.67 1085.0,710.69 1085.5,710.70 1086.0,710.71 1086.5,710.73 1087.0,710.74 1087.5,710.75 1088.0,710.76 1088.5,710.78 1089.0,710.79 1089.5,710.80 1090.0,710.81 1090.5,710.82 1091.0,710.83 1091.5,710.84 1092.0,710.85 1092.5,710.86 1093.0,710.87 1093.5,710.88 1094.0,710.89 1094.5,710.90 1095.0,710.91 1095.5,710.92 1096.0,710.93 1096.5,710.94 1097.0,710.94 1097.5,710.95 1098.0,710.96 1098.5,710.97 1099.0,710.98 1099.5,710.98 1100.0,710.99 1100.5,711.00 1101.0,711.01 1101.5,711.01 1102.0,711.02 1102.5,711.03 1103.0,711.03 1103.5,711.04 1104.0,711.05 1104.5,711.05 1105.0,711.06 1105.5,711.07 1106.0,711.07 1106.5,711.08 1107.0,711.08 1107.5,711.09 1108.0,711.10 1108.5,711.10 1109.0,711.11 1109.5,711.11 1110.0,711.12 1110.5,711.12 1111.0,711.13 1111.5,711.13 1112.0,711.14 1112.5,711.14 1113.0,711.15 1113.5,711.15 1114.0,711.16 1114.5,711.16 1115.0,711.17 1115.5,711.17 1116.0,711.18 1116.5,711.18 1117.0,711.18 1117.5,711.19 1118.0,711.19 1118.5,711.20 1119.0,711.20 1119.5,711.21 1120.0,711.21 1120.5,711.21 1121.0,711.22 1121.5,711.22 1122.0,711.22 1122.5,711.23 1123.0,711.23 1123.5,711.24 1124.0,711.24 1124.5,711.24 1125.0,711.25 1125.5,711.25 1126.0,711.25 1126.5,711.26 1127.0,711.26 1127.5,711.26 1128.0,711.27 1128.5,711.27 1129.0,711.27 1129.5,711.28 1130.0,711.28" fill="none" stroke="#0a0a0a" stroke-width="2.1" stroke-linejoin="round"/>
<line x1="812" y1="557.9" x2="1131" y2="557.9" stroke="#111" stroke-width="2.2"/>
<line x1="813.0" y1="557.9" x2="813.0" y2="553.4" stroke="#111" stroke-width="2"/>
<line x1="892.2" y1="557.9" x2="892.2" y2="553.4" stroke="#111" stroke-width="2"/>
<line x1="971.5" y1="557.9" x2="971.5" y2="553.4" stroke="#111" stroke-width="2"/>
<line x1="1050.8" y1="557.9" x2="1050.8" y2="553.4" stroke="#111" stroke-width="2"/>
<line x1="1130.0" y1="557.9" x2="1130.0" y2="553.4" stroke="#111" stroke-width="2"/>
<line x1="852.6" y1="557.9" x2="852.6" y2="555.4" stroke="#111" stroke-width="1.6"/>
<line x1="931.9" y1="557.9" x2="931.9" y2="555.4" stroke="#111" stroke-width="1.6"/>
<line x1="1011.1" y1="557.9" x2="1011.1" y2="555.4" stroke="#111" stroke-width="1.6"/>
<line x1="1090.4" y1="557.9" x2="1090.4" y2="555.4" stroke="#111" stroke-width="1.6"/>
<line x1="812" y1="723.6" x2="1131" y2="723.6" stroke="#111" stroke-width="2.2"/>
<line x1="813.0" y1="723.6" x2="813.0" y2="719.1" stroke="#111" stroke-width="2"/>
<line x1="892.2" y1="723.6" x2="892.2" y2="719.1" stroke="#111" stroke-width="2"/>
<line x1="971.5" y1="723.6" x2="971.5" y2="719.1" stroke="#111" stroke-width="2"/>
<line x1="1050.8" y1="723.6" x2="1050.8" y2="719.1" stroke="#111" stroke-width="2"/>
<line x1="1130.0" y1="723.6" x2="1130.0" y2="719.1" stroke="#111" stroke-width="2"/>
<line x1="852.6" y1="723.6" x2="852.6" y2="721.1" stroke="#111" stroke-width="1.6"/>
<line x1="931.9" y1="723.6" x2="931.9" y2="721.1" stroke="#111" stroke-width="1.6"/>
<line x1="1011.1" y1="723.6" x2="1011.1" y2="721.1" stroke="#111" stroke-width="1.6"/>
<line x1="1090.4" y1="723.6" x2="1090.4" y2="721.1" stroke="#111" stroke-width="1.6"/>
<text x="813.0" y="742.8" font-size="17.5" fill="#1a1a1a" text-anchor="middle"  stroke="#1a1a1a" stroke-width="0.3">1.0</text>
<text x="892.2" y="742.8" font-size="17.5" fill="#1a1a1a" text-anchor="middle"  stroke="#1a1a1a" stroke-width="0.3">0.5</text>
<text x="971.5" y="742.8" font-size="17.5" fill="#1a1a1a" text-anchor="middle"  stroke="#1a1a1a" stroke-width="0.3">0.0</text>
<text x="1050.8" y="742.8" font-size="17.5" fill="#1a1a1a" text-anchor="middle"  stroke="#1a1a1a" stroke-width="0.3">-0.5</text>
<text x="1130.0" y="742.8" font-size="17.5" fill="#1a1a1a" text-anchor="middle"  stroke="#1a1a1a" stroke-width="0.3">-1.0</text>
<text x="971.5" y="761.5" font-size="18" fill="#1a1a1a" text-anchor="middle" stroke="#1a1a1a" stroke-width="0.3"><tspan font-size="12.5" dy="-7">6</tspan><tspan dy="7">Li shift (ppm)</tspan></text>
<text x="811.5" y="437.0" font-size="20" fill="#1a1a1a" text-anchor="start"  stroke="#1a1a1a" stroke-width="0.3">(f)</text>
<text x="868.3" y="437.2" font-size="18.9" fill="#1a1a1a" text-anchor="start"  stroke="#1a1a1a" stroke-width="0.3">PL-ZCNF</text>
<text x="883.5" y="512.5" font-size="16.7" fill="#a87bc1" text-anchor="start"  stroke="#a87bc1" stroke-width="0.3">30.6%</text>
<text x="1014.1" y="495.4" font-size="16.7" fill="#20a058" text-anchor="start"  stroke="#20a058" stroke-width="0.3">69.4%</text>
<text x="883.5" y="673.3" font-size="16.7" fill="#a87bc1" text-anchor="start"  stroke="#a87bc1" stroke-width="0.3">44.2%</text>
<text x="1019.0" y="658.6" font-size="16.7" fill="#20a058" text-anchor="start"  stroke="#20a058" stroke-width="0.3">55.8%</text>
<text x="23.5" y="487.0" font-size="19" fill="#1a1a1a" text-anchor="start"  stroke="#1a1a1a" stroke-width="0.3">Pristine</text>
<text x="23" y="641" font-size="19.5" fill="#1a1a1a" stroke="#1a1a1a" stroke-width="0.3">After <tspan font-size="13" dy="-7.5">6</tspan><tspan dy="7.5">Li cycle</tspan></text>
<rect x="3.3" y="3.6" width="753.7" height="381.4" rx="34" ry="34" fill="none" stroke="#243658" stroke-width="2.4" stroke-dasharray="8.3 6.5"/>
<text x="22.5" y="26.8" font-size="20" fill="#1a1a1a" text-anchor="start"  stroke="#1a1a1a" stroke-width="0.3">(a)</text>
<path d="M105.7,147.5 V134 Q105.7,125.9 113.8,125.9 H289" fill="none" stroke="url(#arAnch)" stroke-width="8.5"/>
<polygon points="287.6,116.6 303.6,125.9 287.6,135.2" fill="#37a083"/>
<path d="M106.2,270 V281 Q106.2,291.4 116.6,291.4 H243" fill="none" stroke="url(#arAbs)" stroke-width="8.3"/>
<polygon points="241.7,282.8 257.6,291.4 241.7,300" fill="#a674c0"/>
<path d="M462.9,125.6 H509" fill="none" stroke="url(#arG)" stroke-width="7.4"/>
<polygon points="508.2,118.5 525.2,125.8 508.2,133" fill="#27a655"/>
<path d="M462.9,291.3 H509" fill="none" stroke="url(#arP)" stroke-width="7.4"/>
<polygon points="508.2,284.2 525.2,291.5 508.2,298.7" fill="#a674c0"/>
<text x="26" y="148" font-size="19.5" fill="#1a1a1a"  stroke="#1a1a1a" stroke-width="0.3">LiTFSI</text>
<text x="123.5" y="110.5" font-size="19.7" fill="#3a9e84"  stroke="#3a9e84" stroke-width="0.3">Anchoring</text>
<text x="123.5" y="319" font-size="19.7" fill="#a77cc0"  stroke="#a77cc0" stroke-width="0.3">Absorbing</text>
<text x="322" y="332" font-size="19.7" fill="#1a1a1a"  stroke="#1a1a1a" stroke-width="0.3">ZCNF</text>
<text x="442" y="110" font-size="19.3" fill="#1a1a1a"  stroke="#1a1a1a" stroke-width="0.3">ZCNF&#8211;TFSI</text>
<text x="456.5" y="279" font-size="19.2" fill="#1a1a1a"  stroke="#1a1a1a" stroke-width="0.3">ZCNF&#8211;Li</text>
<text x="585" y="196.8" font-size="19" fill="#27a65a" stroke="#27a65a" stroke-width="0.3"><tspan font-style="italic">E</tspan><tspan font-size="13" dy="4">a</tspan><tspan dy="-4"> = -2.73 eV</tspan></text>
<text x="585" y="362.5" font-size="19" fill="#a77cc0" stroke="#a77cc0" stroke-width="0.3"><tspan font-style="italic">E</tspan><tspan font-size="13" dy="4">a</tspan><tspan dy="-4"> = -1.69 eV</tspan></text>
<text x="323" y="298" font-size="16" fill="#a77cc0"  stroke="#a77cc0" stroke-width="0.3">&#8211;COO<tspan font-size="11" dy="-6">&#8211;</tspan></text>
<ellipse cx="105.7" cy="196.4" rx="91.3" ry="41" fill="#fcefe6" stroke="#777" stroke-width="0.8" stroke-dasharray="1.5 1.5"/>
<line x1="53.1" y1="200.9" x2="50.1" y2="188.2" stroke="#7d5134" stroke-width="3.2"/>
<line x1="50.1" y1="188.2" x2="47.1" y2="175.4" stroke="#a4a8c8" stroke-width="3.2"/>
<line x1="53.1" y1="200.9" x2="42.0" y2="206.4" stroke="#7d5134" stroke-width="3.2"/>
<line x1="42.0" y1="206.4" x2="31.0" y2="211.9" stroke="#a4a8c8" stroke-width="3.2"/>
<line x1="53.1" y1="200.9" x2="55.9" y2="208.1" stroke="#7d5134" stroke-width="3.2"/>
<line x1="55.9" y1="208.1" x2="58.6" y2="215.2" stroke="#a4a8c8" stroke-width="3.2"/>
<line x1="53.1" y1="200.9" x2="67.0" y2="201.7" stroke="#7d5134" stroke-width="3.2"/>
<line x1="67.0" y1="201.7" x2="80.8" y2="202.4" stroke="#e2d800" stroke-width="3.2"/>
<line x1="80.8" y1="202.4" x2="77.4" y2="194.7" stroke="#e2d800" stroke-width="3.2"/>
<line x1="77.4" y1="194.7" x2="74.1" y2="186.9" stroke="#dd0000" stroke-width="3.2"/>
<line x1="80.8" y1="202.4" x2="92.4" y2="195.8" stroke="#e2d800" stroke-width="3.2"/>
<line x1="92.4" y1="195.8" x2="104.0" y2="189.1" stroke="#2030d0" stroke-width="3.2"/>
<line x1="104.0" y1="189.1" x2="115.6" y2="195.8" stroke="#2030d0" stroke-width="3.2"/>
<line x1="115.6" y1="195.8" x2="127.2" y2="202.4" stroke="#e2d800" stroke-width="3.2"/>
<line x1="127.2" y1="202.4" x2="130.6" y2="194.7" stroke="#e2d800" stroke-width="3.2"/>
<line x1="130.6" y1="194.7" x2="133.9" y2="186.9" stroke="#dd0000" stroke-width="3.2"/>
<line x1="127.2" y1="202.4" x2="141.6" y2="201.7" stroke="#e2d800" stroke-width="3.2"/>
<line x1="141.6" y1="201.7" x2="156.0" y2="200.9" stroke="#7d5134" stroke-width="3.2"/>
<line x1="156.0" y1="200.9" x2="158.6" y2="188.2" stroke="#7d5134" stroke-width="3.2"/>
<line x1="158.6" y1="188.2" x2="161.1" y2="175.4" stroke="#a4a8c8" stroke-width="3.2"/>
<line x1="156.0" y1="200.9" x2="166.5" y2="206.4" stroke="#7d5134" stroke-width="3.2"/>
<line x1="166.5" y1="206.4" x2="177.0" y2="211.9" stroke="#a4a8c8" stroke-width="3.2"/>
<line x1="156.0" y1="200.9" x2="153.2" y2="208.1" stroke="#7d5134" stroke-width="3.2"/>
<line x1="153.2" y1="208.1" x2="150.5" y2="215.2" stroke="#a4a8c8" stroke-width="3.2"/>
<line x1="80.8" y1="202.4" x2="82.8" y2="216.8" stroke="#e2d800" stroke-width="3.2"/>
<line x1="82.8" y1="216.8" x2="84.8" y2="231.2" stroke="#dd0000" stroke-width="3.2"/>
<line x1="127.2" y1="202.4" x2="125.6" y2="216.8" stroke="#e2d800" stroke-width="3.2"/>
<line x1="125.6" y1="216.8" x2="123.9" y2="231.2" stroke="#dd0000" stroke-width="3.2"/>
<line x1="84.8" y1="231.2" x2="94.6" y2="242.1" stroke="#dd0000" stroke-width="3.2"/>
<line x1="94.6" y1="242.1" x2="104.4" y2="252.9" stroke="#64b462" stroke-width="3.2"/>
<line x1="123.9" y1="231.2" x2="114.2" y2="242.1" stroke="#dd0000" stroke-width="3.2"/>
<line x1="114.2" y1="242.1" x2="104.4" y2="252.9" stroke="#64b462" stroke-width="3.2"/>
<circle cx="47.1" cy="175.4" r="5.2" fill="url(#gF)"/>
<circle cx="161.1" cy="175.4" r="5.2" fill="url(#gF)"/>
<circle cx="74.1" cy="186.9" r="5.8" fill="url(#gO)"/>
<circle cx="133.9" cy="186.9" r="5.8" fill="url(#gO)"/>
<circle cx="104.0" cy="189.1" r="6.0" fill="url(#gN)"/>
<circle cx="53.1" cy="200.9" r="5.6" fill="url(#gC)"/>
<circle cx="156.0" cy="200.9" r="5.6" fill="url(#gC)"/>
<circle cx="80.8" cy="202.4" r="7.6" fill="url(#gS)"/>
<circle cx="127.2" cy="202.4" r="7.6" fill="url(#gS)"/>
<circle cx="31.0" cy="211.9" r="5.2" fill="url(#gF)"/>
<circle cx="177.0" cy="211.9" r="5.2" fill="url(#gF)"/>
<circle cx="58.6" cy="215.2" r="5.2" fill="url(#gF)"/>
<circle cx="150.5" cy="215.2" r="5.2" fill="url(#gF)"/>
<circle cx="84.8" cy="231.2" r="5.8" fill="url(#gO)"/>
<circle cx="123.9" cy="231.2" r="5.8" fill="url(#gO)"/>
<circle cx="104.4" cy="252.9" r="12.0" fill="url(#gL)"/>
<ellipse cx="290.1" cy="279.6" rx="34" ry="20.5" fill="#f1e5f1" stroke="#777" stroke-width="0.8" stroke-dasharray="1.5 1.5"/>
<g stroke="#aaa" stroke-width="1" stroke-dasharray="2.5 2.5"><line x1="248.8" y1="251.7" x2="267.6" y2="279.4"/><line x1="313" y1="284.9" x2="342.8" y2="269.4"/><line x1="383.8" y1="158.8" x2="421.4" y2="167.6"/><line x1="384.8" y1="121.5" x2="383.8" y2="158.8"/></g>
<line x1="362.9" y1="54.8" x2="358.2" y2="46.0" stroke="#7d5134" stroke-width="3.2"/>
<line x1="358.2" y1="46.0" x2="353.5" y2="37.1" stroke="#e9cccc" stroke-width="3.2"/>
<line x1="362.9" y1="54.8" x2="370.7" y2="53.2" stroke="#7d5134" stroke-width="3.2"/>
<line x1="370.7" y1="53.2" x2="378.5" y2="51.7" stroke="#e9cccc" stroke-width="3.2"/>
<line x1="362.9" y1="54.8" x2="367.6" y2="60.0" stroke="#7d5134" stroke-width="3.2"/>
<line x1="367.6" y1="60.0" x2="372.3" y2="65.2" stroke="#e9cccc" stroke-width="3.2"/>
<line x1="362.9" y1="54.8" x2="353.0" y2="64.7" stroke="#7d5134" stroke-width="3.2"/>
<line x1="353.0" y1="64.7" x2="343.1" y2="74.6" stroke="#2030d0" stroke-width="3.2"/>
<line x1="331.7" y1="62.1" x2="328.0" y2="52.2" stroke="#7d5134" stroke-width="3.2"/>
<line x1="328.0" y1="52.2" x2="324.4" y2="42.3" stroke="#e9cccc" stroke-width="3.2"/>
<line x1="331.7" y1="62.1" x2="321.2" y2="60.5" stroke="#7d5134" stroke-width="3.2"/>
<line x1="321.2" y1="60.5" x2="310.8" y2="59.0" stroke="#e9cccc" stroke-width="3.2"/>
<line x1="331.7" y1="62.1" x2="339.5" y2="61.5" stroke="#7d5134" stroke-width="3.2"/>
<line x1="339.5" y1="61.5" x2="347.3" y2="61.0" stroke="#e9cccc" stroke-width="3.2"/>
<line x1="331.7" y1="62.1" x2="337.4" y2="68.3" stroke="#7d5134" stroke-width="3.2"/>
<line x1="337.4" y1="68.3" x2="343.1" y2="74.6" stroke="#2030d0" stroke-width="3.2"/>
<line x1="321.3" y1="77.7" x2="332.2" y2="76.2" stroke="#7d5134" stroke-width="3.2"/>
<line x1="332.2" y1="76.2" x2="343.1" y2="74.6" stroke="#2030d0" stroke-width="3.2"/>
<line x1="321.3" y1="77.7" x2="314.5" y2="85.0" stroke="#7d5134" stroke-width="3.2"/>
<line x1="314.5" y1="85.0" x2="307.7" y2="92.3" stroke="#e9cccc" stroke-width="3.2"/>
<line x1="321.3" y1="77.7" x2="324.9" y2="81.3" stroke="#7d5134" stroke-width="3.2"/>
<line x1="324.9" y1="81.3" x2="328.5" y2="85.0" stroke="#e9cccc" stroke-width="3.2"/>
<line x1="321.3" y1="77.7" x2="316.6" y2="74.8" stroke="#7d5134" stroke-width="3.2"/>
<line x1="316.6" y1="74.8" x2="312.0" y2="72.0" stroke="#e9cccc" stroke-width="3.2"/>
<line x1="343.1" y1="74.6" x2="349.9" y2="87.6" stroke="#2030d0" stroke-width="3.2"/>
<line x1="349.9" y1="87.6" x2="356.7" y2="100.6" stroke="#7d5134" stroke-width="3.2"/>
<line x1="356.7" y1="100.6" x2="365.5" y2="98.0" stroke="#7d5134" stroke-width="3.2"/>
<line x1="365.5" y1="98.0" x2="374.4" y2="95.4" stroke="#e9cccc" stroke-width="3.2"/>
<line x1="356.7" y1="100.6" x2="349.9" y2="105.8" stroke="#7d5134" stroke-width="3.2"/>
<line x1="349.9" y1="105.8" x2="343.1" y2="111.0" stroke="#e9cccc" stroke-width="3.2"/>
<line x1="356.7" y1="100.6" x2="359.3" y2="110.0" stroke="#7d5134" stroke-width="3.2"/>
<line x1="359.3" y1="110.0" x2="361.9" y2="119.4" stroke="#7d5134" stroke-width="3.2"/>
<line x1="361.9" y1="119.4" x2="369.2" y2="113.2" stroke="#7d5134" stroke-width="3.2"/>
<line x1="369.2" y1="113.2" x2="376.5" y2="106.9" stroke="#dd0000" stroke-width="3.2"/>
<line x1="376.5" y1="106.9" x2="380.6" y2="114.2" stroke="#dd0000" stroke-width="3.2"/>
<line x1="380.6" y1="114.2" x2="384.8" y2="121.5" stroke="#e9cccc" stroke-width="3.2"/>
<line x1="361.9" y1="119.4" x2="352.5" y2="123.1" stroke="#7d5134" stroke-width="3.2"/>
<line x1="352.5" y1="123.1" x2="343.1" y2="126.7" stroke="#e9cccc" stroke-width="3.2"/>
<line x1="361.9" y1="119.4" x2="369.2" y2="131.4" stroke="#7d5134" stroke-width="3.2"/>
<line x1="369.2" y1="131.4" x2="376.5" y2="143.3" stroke="#7d5134" stroke-width="3.2"/>
<line x1="376.5" y1="143.3" x2="385.9" y2="140.7" stroke="#7d5134" stroke-width="3.2"/>
<line x1="385.9" y1="140.7" x2="395.2" y2="138.1" stroke="#e9cccc" stroke-width="3.2"/>
<line x1="376.5" y1="143.3" x2="369.7" y2="149.6" stroke="#7d5134" stroke-width="3.2"/>
<line x1="369.7" y1="149.6" x2="362.9" y2="155.8" stroke="#e9cccc" stroke-width="3.2"/>
<circle cx="353.5" cy="37.1" r="3.8" fill="url(#gH)"/>
<circle cx="324.4" cy="42.3" r="3.8" fill="url(#gH)"/>
<circle cx="378.5" cy="51.7" r="3.8" fill="url(#gH)"/>
<circle cx="310.8" cy="59.0" r="3.8" fill="url(#gH)"/>
<circle cx="347.3" cy="61.0" r="3.8" fill="url(#gH)"/>
<circle cx="372.3" cy="65.2" r="3.8" fill="url(#gH)"/>
<circle cx="312.0" cy="72.0" r="3.8" fill="url(#gH)"/>
<circle cx="328.5" cy="85.0" r="3.8" fill="url(#gH)"/>
<circle cx="307.7" cy="92.3" r="3.8" fill="url(#gH)"/>
<circle cx="374.4" cy="95.4" r="3.8" fill="url(#gH)"/>
<circle cx="343.1" cy="111.0" r="3.8" fill="url(#gH)"/>
<circle cx="384.8" cy="121.5" r="3.8" fill="url(#gH)"/>
<circle cx="343.1" cy="126.7" r="3.8" fill="url(#gH)"/>
<circle cx="395.2" cy="138.1" r="3.8" fill="url(#gH)"/>
<circle cx="362.9" cy="155.8" r="3.8" fill="url(#gH)"/>
<circle cx="362.9" cy="54.8" r="5.6" fill="url(#gC)"/>
<circle cx="331.7" cy="62.1" r="5.6" fill="url(#gC)"/>
<circle cx="343.1" cy="74.6" r="6.0" fill="url(#gN)"/>
<circle cx="321.3" cy="77.7" r="5.6" fill="url(#gC)"/>
<circle cx="356.7" cy="100.6" r="5.6" fill="url(#gC)"/>
<circle cx="376.5" cy="106.9" r="5.8" fill="url(#gO)"/>
<circle cx="361.9" cy="119.4" r="5.6" fill="url(#gC)"/>
<circle cx="376.5" cy="143.3" r="5.6" fill="url(#gC)"/>
<line x1="293.0" y1="152.1" x2="301.3" y2="156.0" stroke="#e9cccc" stroke-width="3.6"/>
<line x1="301.3" y1="156.0" x2="309.6" y2="159.9" stroke="#dd0000" stroke-width="3.6"/>
<line x1="309.6" y1="159.9" x2="307.4" y2="173.7" stroke="#dd0000" stroke-width="3.6"/>
<line x1="307.4" y1="173.7" x2="305.2" y2="187.5" stroke="#7d5134" stroke-width="3.6"/>
<line x1="305.2" y1="187.5" x2="291.4" y2="191.4" stroke="#7d5134" stroke-width="3.6"/>
<line x1="291.4" y1="191.4" x2="277.5" y2="195.3" stroke="#7d5134" stroke-width="3.6"/>
<line x1="277.5" y1="195.3" x2="268.6" y2="186.4" stroke="#7d5134" stroke-width="3.6"/>
<line x1="268.6" y1="186.4" x2="259.8" y2="177.6" stroke="#dd0000" stroke-width="3.6"/>
<line x1="259.8" y1="177.6" x2="250.9" y2="180.9" stroke="#dd0000" stroke-width="3.6"/>
<line x1="250.9" y1="180.9" x2="242.1" y2="184.2" stroke="#e9cccc" stroke-width="3.6"/>
<line x1="277.5" y1="195.3" x2="274.8" y2="210.2" stroke="#7d5134" stroke-width="3.6"/>
<line x1="274.8" y1="210.2" x2="272.0" y2="225.2" stroke="#7d5134" stroke-width="3.6"/>
<line x1="272.0" y1="225.2" x2="259.3" y2="228.5" stroke="#7d5134" stroke-width="3.6"/>
<line x1="259.3" y1="228.5" x2="246.6" y2="231.8" stroke="#dd0000" stroke-width="3.6"/>
<line x1="246.6" y1="231.8" x2="247.7" y2="241.8" stroke="#dd0000" stroke-width="3.6"/>
<line x1="247.7" y1="241.8" x2="248.8" y2="251.7" stroke="#e9cccc" stroke-width="3.6"/>
<line x1="272.0" y1="225.2" x2="283.6" y2="232.9" stroke="#7d5134" stroke-width="3.6"/>
<line x1="283.6" y1="232.9" x2="295.3" y2="240.7" stroke="#7d5134" stroke-width="3.6"/>
<line x1="295.3" y1="240.7" x2="306.9" y2="236.8" stroke="#7d5134" stroke-width="3.6"/>
<line x1="306.9" y1="236.8" x2="318.5" y2="232.9" stroke="#dd0000" stroke-width="3.6"/>
<line x1="318.5" y1="232.9" x2="322.9" y2="219.7" stroke="#dd0000" stroke-width="3.6"/>
<line x1="322.9" y1="219.7" x2="327.3" y2="206.4" stroke="#7d5134" stroke-width="3.6"/>
<line x1="327.3" y1="206.4" x2="316.2" y2="196.9" stroke="#7d5134" stroke-width="3.6"/>
<line x1="316.2" y1="196.9" x2="305.2" y2="187.5" stroke="#7d5134" stroke-width="3.6"/>
<line x1="327.3" y1="206.4" x2="339.5" y2="204.2" stroke="#7d5134" stroke-width="3.6"/>
<line x1="339.5" y1="204.2" x2="351.7" y2="201.9" stroke="#dd0000" stroke-width="3.6"/>
<line x1="351.7" y1="201.9" x2="362.2" y2="209.1" stroke="#dd0000" stroke-width="3.6"/>
<line x1="362.2" y1="209.1" x2="372.7" y2="216.3" stroke="#7d5134" stroke-width="3.6"/>
<line x1="295.3" y1="240.7" x2="293.6" y2="256.2" stroke="#7d5134" stroke-width="3.6"/>
<line x1="293.6" y1="256.2" x2="291.9" y2="271.7" stroke="#7d5134" stroke-width="3.6"/>
<line x1="291.9" y1="271.7" x2="279.8" y2="275.5" stroke="#7d5134" stroke-width="3.6"/>
<line x1="279.8" y1="275.5" x2="267.6" y2="279.4" stroke="#dd0000" stroke-width="3.6"/>
<line x1="291.9" y1="271.7" x2="302.4" y2="278.3" stroke="#7d5134" stroke-width="3.6"/>
<line x1="302.4" y1="278.3" x2="313.0" y2="284.9" stroke="#dd0000" stroke-width="3.6"/>
<line x1="372.7" y1="216.3" x2="384.9" y2="208.6" stroke="#7d5134" stroke-width="3.6"/>
<line x1="384.9" y1="208.6" x2="397.1" y2="200.8" stroke="#7d5134" stroke-width="3.6"/>
<line x1="397.1" y1="200.8" x2="409.2" y2="208.0" stroke="#7d5134" stroke-width="3.6"/>
<line x1="409.2" y1="208.0" x2="421.4" y2="215.2" stroke="#dd0000" stroke-width="3.6"/>
<line x1="421.4" y1="215.2" x2="420.9" y2="226.8" stroke="#dd0000" stroke-width="3.6"/>
<line x1="420.9" y1="226.8" x2="420.3" y2="238.5" stroke="#7d5134" stroke-width="3.6"/>
<line x1="420.3" y1="238.5" x2="410.9" y2="248.4" stroke="#7d5134" stroke-width="3.6"/>
<line x1="410.9" y1="248.4" x2="401.5" y2="258.4" stroke="#7d5134" stroke-width="3.6"/>
<line x1="401.5" y1="258.4" x2="387.1" y2="252.8" stroke="#7d5134" stroke-width="3.6"/>
<line x1="387.1" y1="252.8" x2="372.7" y2="247.3" stroke="#7d5134" stroke-width="3.6"/>
<line x1="372.7" y1="247.3" x2="372.7" y2="231.8" stroke="#7d5134" stroke-width="3.6"/>
<line x1="372.7" y1="231.8" x2="372.7" y2="216.3" stroke="#7d5134" stroke-width="3.6"/>
<line x1="397.1" y1="200.8" x2="400.4" y2="188.7" stroke="#7d5134" stroke-width="3.6"/>
<line x1="400.4" y1="188.7" x2="403.7" y2="176.5" stroke="#7d5134" stroke-width="3.6"/>
<line x1="403.7" y1="176.5" x2="393.8" y2="167.7" stroke="#7d5134" stroke-width="3.6"/>
<line x1="393.8" y1="167.7" x2="383.8" y2="158.8" stroke="#dd0000" stroke-width="3.6"/>
<line x1="403.7" y1="176.5" x2="412.5" y2="172.1" stroke="#7d5134" stroke-width="3.6"/>
<line x1="412.5" y1="172.1" x2="421.4" y2="167.6" stroke="#e9cccc" stroke-width="3.6"/>
<line x1="403.7" y1="176.5" x2="405.9" y2="181.4" stroke="#7d5134" stroke-width="3.6"/>
<line x1="405.9" y1="181.4" x2="408.1" y2="186.4" stroke="#e9cccc" stroke-width="3.6"/>
<line x1="420.3" y1="238.5" x2="433.1" y2="243.2" stroke="#7d5134" stroke-width="3.6"/>
<line x1="433.1" y1="243.2" x2="446.0" y2="248.0" stroke="#dd0000" stroke-width="3.6"/>
<line x1="446.0" y1="248.0" x2="449.5" y2="251.2" stroke="#dd0000" stroke-width="3.6"/>
<line x1="449.5" y1="251.2" x2="453.0" y2="254.5" stroke="#e9cccc" stroke-width="3.6"/>
<line x1="401.5" y1="258.4" x2="400.4" y2="270.0" stroke="#7d5134" stroke-width="3.6"/>
<line x1="400.4" y1="270.0" x2="399.3" y2="281.6" stroke="#dd0000" stroke-width="3.6"/>
<line x1="399.3" y1="281.6" x2="408.1" y2="283.8" stroke="#dd0000" stroke-width="3.6"/>
<line x1="408.1" y1="283.8" x2="417.0" y2="286.0" stroke="#e9cccc" stroke-width="3.6"/>
<line x1="401.5" y1="258.4" x2="404.8" y2="261.1" stroke="#7d5134" stroke-width="3.6"/>
<line x1="404.8" y1="261.1" x2="408.1" y2="263.9" stroke="#e9cccc" stroke-width="3.6"/>
<line x1="372.7" y1="247.3" x2="366.0" y2="255.1" stroke="#7d5134" stroke-width="3.6"/>
<line x1="366.0" y1="255.1" x2="359.4" y2="262.8" stroke="#dd0000" stroke-width="3.6"/>
<line x1="359.4" y1="262.8" x2="351.1" y2="266.1" stroke="#dd0000" stroke-width="3.6"/>
<line x1="351.1" y1="266.1" x2="342.8" y2="269.4" stroke="#e9cccc" stroke-width="3.6"/>
<circle cx="293.0" cy="152.1" r="3.8" fill="url(#gH)"/>
<circle cx="421.4" cy="167.6" r="3.8" fill="url(#gH)"/>
<circle cx="242.1" cy="184.2" r="3.8" fill="url(#gH)"/>
<circle cx="408.1" cy="186.4" r="3.8" fill="url(#gH)"/>
<circle cx="248.8" cy="251.7" r="3.8" fill="url(#gH)"/>
<circle cx="453.0" cy="254.5" r="3.8" fill="url(#gH)"/>
<circle cx="408.1" cy="263.9" r="3.8" fill="url(#gH)"/>
<circle cx="342.8" cy="269.4" r="3.8" fill="url(#gH)"/>
<circle cx="417.0" cy="286.0" r="3.8" fill="url(#gH)"/>
<circle cx="383.8" cy="158.8" r="5.8" fill="url(#gO)"/>
<circle cx="309.6" cy="159.9" r="5.8" fill="url(#gO)"/>
<circle cx="403.7" cy="176.5" r="5.6" fill="url(#gC)"/>
<circle cx="259.8" cy="177.6" r="5.8" fill="url(#gO)"/>
<circle cx="305.2" cy="187.5" r="5.6" fill="url(#gC)"/>
<circle cx="277.5" cy="195.3" r="5.6" fill="url(#gC)"/>
<circle cx="397.1" cy="200.8" r="5.6" fill="url(#gC)"/>
<circle cx="351.7" cy="201.9" r="5.8" fill="url(#gO)"/>
<circle cx="327.3" cy="206.4" r="5.6" fill="url(#gC)"/>
<circle cx="421.4" cy="215.2" r="5.8" fill="url(#gO)"/>
<circle cx="372.7" cy="216.3" r="5.6" fill="url(#gC)"/>
<circle cx="272.0" cy="225.2" r="5.6" fill="url(#gC)"/>
<circle cx="246.6" cy="231.8" r="5.8" fill="url(#gO)"/>
<circle cx="318.5" cy="232.9" r="5.8" fill="url(#gO)"/>
<circle cx="420.3" cy="238.5" r="5.6" fill="url(#gC)"/>
<circle cx="295.3" cy="240.7" r="5.6" fill="url(#gC)"/>
<circle cx="372.7" cy="247.3" r="5.6" fill="url(#gC)"/>
<circle cx="446.0" cy="248.0" r="5.8" fill="url(#gO)"/>
<circle cx="401.5" cy="258.4" r="5.6" fill="url(#gC)"/>
<circle cx="359.4" cy="262.8" r="5.8" fill="url(#gO)"/>
<circle cx="291.9" cy="271.7" r="5.6" fill="url(#gC)"/>
<circle cx="267.6" cy="279.4" r="5.8" fill="url(#gO)"/>
<circle cx="399.3" cy="281.6" r="5.8" fill="url(#gO)"/>
<circle cx="313.0" cy="284.9" r="5.8" fill="url(#gO)"/>
<circle cx="276.5" cy="192.5" r="3.3" fill="url(#gH)" opacity="0.9"/>
<circle cx="327.5" cy="205" r="3.3" fill="url(#gH)" opacity="0.9"/>
<circle cx="296" cy="237.5" r="3.3" fill="url(#gH)" opacity="0.9"/>
<circle cx="371" cy="213.5" r="3.3" fill="url(#gH)" opacity="0.9"/>
<circle cx="366" cy="245.5" r="3.3" fill="url(#gH)" opacity="0.9"/>
<ellipse cx="353.3" cy="95.2" rx="50" ry="68" transform="rotate(-20 353.3 95.2)" fill="#cdeddb" style="mix-blend-mode:multiply"/>
<ellipse cx="353.3" cy="95.2" rx="50" ry="68" transform="rotate(-20 353.3 95.2)" fill="#cdeddb" fill-opacity="0.3" stroke="#666" stroke-width="0.8" stroke-dasharray="1.5 1.5"/>
<text x="0" y="0" font-size="17" fill="#22a35a" transform="translate(394.5,36.5) rotate(66.5)" stroke="#22a35a" stroke-width="0.3">&#8211;(CH<tspan font-size="11" dy="4">3</tspan><tspan dy="-4">)</tspan><tspan font-size="11" dy="4">3</tspan><tspan dy="-4">N</tspan><tspan font-size="11" dy="-6">+</tspan></text>
<line x1="594.3" y1="43.4" x2="586.9" y2="37.2" stroke="#7d5134" stroke-width="3.5"/>
<line x1="586.9" y1="37.2" x2="579.5" y2="31.0" stroke="#a4a8c8" stroke-width="3.5"/>
<line x1="594.3" y1="43.4" x2="595.0" y2="38.5" stroke="#7d5134" stroke-width="3.5"/>
<line x1="595.0" y1="38.5" x2="595.6" y2="33.5" stroke="#a4a8c8" stroke-width="3.5"/>
<line x1="594.3" y1="43.4" x2="590.0" y2="55.2" stroke="#7d5134" stroke-width="3.5"/>
<line x1="590.0" y1="55.2" x2="585.7" y2="66.9" stroke="#a4a8c8" stroke-width="3.5"/>
<line x1="594.3" y1="43.4" x2="609.8" y2="44.0" stroke="#7d5134" stroke-width="3.5"/>
<line x1="609.8" y1="44.0" x2="625.3" y2="44.6" stroke="#e2d800" stroke-width="3.5"/>
<line x1="625.3" y1="44.6" x2="629.6" y2="32.5" stroke="#e2d800" stroke-width="3.5"/>
<line x1="629.6" y1="32.5" x2="634.0" y2="20.4" stroke="#dd0000" stroke-width="3.5"/>
<line x1="625.3" y1="44.6" x2="623.2" y2="51.8" stroke="#e2d800" stroke-width="3.5"/>
<line x1="623.2" y1="51.8" x2="621.1" y2="59.0" stroke="#dd0000" stroke-width="3.5"/>
<line x1="625.3" y1="44.6" x2="632.7" y2="53.9" stroke="#e2d800" stroke-width="3.5"/>
<line x1="632.7" y1="53.9" x2="640.1" y2="63.2" stroke="#2030d0" stroke-width="3.5"/>
<line x1="640.1" y1="63.2" x2="648.8" y2="58.9" stroke="#2030d0" stroke-width="3.5"/>
<line x1="648.8" y1="58.9" x2="657.4" y2="54.5" stroke="#e2d800" stroke-width="3.5"/>
<line x1="657.4" y1="54.5" x2="653.7" y2="43.6" stroke="#e2d800" stroke-width="3.5"/>
<line x1="653.7" y1="43.6" x2="650.0" y2="32.8" stroke="#dd0000" stroke-width="3.5"/>
<line x1="657.4" y1="54.5" x2="660.2" y2="65.4" stroke="#e2d800" stroke-width="3.5"/>
<line x1="660.2" y1="65.4" x2="663.1" y2="76.3" stroke="#dd0000" stroke-width="3.5"/>
<line x1="657.4" y1="54.5" x2="672.9" y2="50.2" stroke="#e2d800" stroke-width="3.5"/>
<line x1="672.9" y1="50.2" x2="688.4" y2="45.9" stroke="#7d5134" stroke-width="3.5"/>
<line x1="688.4" y1="45.9" x2="687.8" y2="36.6" stroke="#7d5134" stroke-width="3.5"/>
<line x1="687.8" y1="36.6" x2="687.1" y2="27.3" stroke="#a4a8c8" stroke-width="3.5"/>
<line x1="688.4" y1="45.9" x2="696.5" y2="43.4" stroke="#7d5134" stroke-width="3.5"/>
<line x1="696.5" y1="43.4" x2="704.5" y2="40.9" stroke="#a4a8c8" stroke-width="3.5"/>
<line x1="688.4" y1="45.9" x2="693.3" y2="55.8" stroke="#7d5134" stroke-width="3.5"/>
<line x1="693.3" y1="55.8" x2="698.3" y2="65.7" stroke="#a4a8c8" stroke-width="3.5"/>
<circle cx="634.0" cy="20.4" r="5.5" fill="url(#gO)"/>
<circle cx="687.1" cy="27.3" r="4.9" fill="url(#gF)"/>
<circle cx="579.5" cy="31.0" r="4.9" fill="url(#gF)"/>
<circle cx="650.0" cy="32.8" r="5.5" fill="url(#gO)"/>
<circle cx="595.6" cy="33.5" r="4.9" fill="url(#gF)"/>
<circle cx="704.5" cy="40.9" r="4.9" fill="url(#gF)"/>
<circle cx="594.3" cy="43.4" r="5.3" fill="url(#gC)"/>
<circle cx="625.3" cy="44.6" r="7.2" fill="url(#gS)"/>
<circle cx="688.4" cy="45.9" r="5.3" fill="url(#gC)"/>
<circle cx="657.4" cy="54.5" r="7.2" fill="url(#gS)"/>
<circle cx="621.1" cy="59.0" r="5.5" fill="url(#gO)"/>
<circle cx="640.1" cy="63.2" r="5.7" fill="url(#gN)"/>
<circle cx="698.3" cy="65.7" r="4.9" fill="url(#gF)"/>
<circle cx="585.7" cy="66.9" r="4.9" fill="url(#gF)"/>
<circle cx="663.1" cy="76.3" r="5.5" fill="url(#gO)"/>
<g stroke="#bbb" stroke-width="0.9" stroke-dasharray="2 2" fill="none"><path d="M544.8,151 L562.2,165.9 M573.3,167.1 L603,165.9 M658.7,172.1 L664.9,153.5 M705.7,184.5 L732.9,168.4 M552.3,132.5 L579.5,111.5 M538.2,289 L568.7,324.2 M613.2,317.2 L642.5,301.9 M715.1,331.2 L738.5,317.2 M621.4,269.1 L656.5,259.7"/></g>
<line x1="643.9" y1="87.4" x2="637.0" y2="83.3" stroke="#7d5134" stroke-width="3.2"/>
<line x1="637.0" y1="83.3" x2="630.2" y2="79.2" stroke="#e9cccc" stroke-width="3.2"/>
<line x1="643.9" y1="87.4" x2="644.8" y2="81.9" stroke="#7d5134" stroke-width="3.2"/>
<line x1="644.8" y1="81.9" x2="645.8" y2="76.4" stroke="#e9cccc" stroke-width="3.2"/>
<line x1="643.9" y1="87.4" x2="652.6" y2="88.3" stroke="#7d5134" stroke-width="3.2"/>
<line x1="652.6" y1="88.3" x2="661.3" y2="89.2" stroke="#e9cccc" stroke-width="3.2"/>
<line x1="643.9" y1="87.4" x2="639.3" y2="99.8" stroke="#7d5134" stroke-width="3.2"/>
<line x1="639.3" y1="99.8" x2="634.8" y2="112.1" stroke="#2030d0" stroke-width="3.2"/>
<line x1="634.8" y1="112.1" x2="622.5" y2="110.8" stroke="#2030d0" stroke-width="3.2"/>
<line x1="622.5" y1="110.8" x2="610.1" y2="109.4" stroke="#7d5134" stroke-width="3.2"/>
<line x1="610.1" y1="109.4" x2="603.7" y2="105.2" stroke="#7d5134" stroke-width="3.2"/>
<line x1="603.7" y1="105.2" x2="597.2" y2="101.1" stroke="#e9cccc" stroke-width="3.2"/>
<line x1="610.1" y1="109.4" x2="611.9" y2="103.9" stroke="#7d5134" stroke-width="3.2"/>
<line x1="611.9" y1="103.9" x2="613.7" y2="98.4" stroke="#e9cccc" stroke-width="3.2"/>
<line x1="610.1" y1="109.4" x2="616.5" y2="105.2" stroke="#7d5134" stroke-width="3.2"/>
<line x1="616.5" y1="105.2" x2="622.9" y2="101.1" stroke="#e9cccc" stroke-width="3.2"/>
<line x1="634.8" y1="112.1" x2="644.4" y2="119.4" stroke="#2030d0" stroke-width="3.2"/>
<line x1="644.4" y1="119.4" x2="654.0" y2="126.8" stroke="#7d5134" stroke-width="3.2"/>
<line x1="654.0" y1="126.8" x2="659.0" y2="120.3" stroke="#7d5134" stroke-width="3.2"/>
<line x1="659.0" y1="120.3" x2="664.1" y2="113.9" stroke="#7d5134" stroke-width="3.2"/>
<line x1="664.1" y1="113.9" x2="673.2" y2="105.2" stroke="#7d5134" stroke-width="3.2"/>
<line x1="673.2" y1="105.2" x2="682.4" y2="96.5" stroke="#dd0000" stroke-width="3.2"/>
<line x1="682.4" y1="96.5" x2="685.6" y2="92.4" stroke="#dd0000" stroke-width="3.2"/>
<line x1="685.6" y1="92.4" x2="688.8" y2="88.3" stroke="#e9cccc" stroke-width="3.2"/>
<line x1="664.1" y1="113.9" x2="656.8" y2="108.9" stroke="#7d5134" stroke-width="3.2"/>
<line x1="656.8" y1="108.9" x2="649.4" y2="103.9" stroke="#e9cccc" stroke-width="3.2"/>
<line x1="654.0" y1="126.8" x2="661.4" y2="133.2" stroke="#7d5134" stroke-width="3.2"/>
<line x1="661.4" y1="133.2" x2="668.7" y2="139.6" stroke="#7d5134" stroke-width="3.2"/>
<line x1="654.0" y1="126.8" x2="649.9" y2="127.7" stroke="#7d5134" stroke-width="3.2"/>
<line x1="649.9" y1="127.7" x2="645.8" y2="128.6" stroke="#e9cccc" stroke-width="3.2"/>
<line x1="668.7" y1="139.6" x2="671.4" y2="135.9" stroke="#7d5134" stroke-width="3.2"/>
<line x1="671.4" y1="135.9" x2="674.1" y2="132.2" stroke="#7d5134" stroke-width="3.2"/>
<line x1="668.7" y1="139.6" x2="667.3" y2="146.9" stroke="#7d5134" stroke-width="3.2"/>
<line x1="667.3" y1="146.9" x2="665.9" y2="154.2" stroke="#7d5134" stroke-width="3.2"/>
<line x1="674.1" y1="132.2" x2="678.2" y2="125.3" stroke="#7d5134" stroke-width="3.2"/>
<line x1="678.2" y1="125.3" x2="682.4" y2="118.5" stroke="#dd0000" stroke-width="3.2"/>
<line x1="682.4" y1="118.5" x2="691.5" y2="123.5" stroke="#dd0000" stroke-width="3.2"/>
<line x1="691.5" y1="123.5" x2="700.7" y2="128.6" stroke="#7d5134" stroke-width="3.2"/>
<line x1="700.7" y1="128.6" x2="704.8" y2="120.8" stroke="#7d5134" stroke-width="3.2"/>
<line x1="704.8" y1="120.8" x2="708.9" y2="113.0" stroke="#e9cccc" stroke-width="3.2"/>
<line x1="700.7" y1="128.6" x2="708.0" y2="133.1" stroke="#7d5134" stroke-width="3.2"/>
<line x1="708.0" y1="133.1" x2="715.3" y2="137.7" stroke="#e9cccc" stroke-width="3.2"/>
<line x1="674.1" y1="132.2" x2="682.4" y2="139.6" stroke="#7d5134" stroke-width="3.2"/>
<line x1="682.4" y1="139.6" x2="690.6" y2="146.9" stroke="#7d5134" stroke-width="3.2"/>
<line x1="690.6" y1="146.9" x2="692.9" y2="142.3" stroke="#7d5134" stroke-width="3.2"/>
<line x1="692.9" y1="142.3" x2="695.2" y2="137.7" stroke="#e9cccc" stroke-width="3.2"/>
<line x1="665.9" y1="154.2" x2="678.2" y2="154.6" stroke="#7d5134" stroke-width="3.2"/>
<line x1="678.2" y1="154.6" x2="690.6" y2="155.1" stroke="#7d5134" stroke-width="3.2"/>
<line x1="690.6" y1="155.1" x2="701.6" y2="152.8" stroke="#7d5134" stroke-width="3.2"/>
<line x1="701.6" y1="152.8" x2="712.6" y2="150.6" stroke="#dd0000" stroke-width="3.2"/>
<line x1="690.6" y1="155.1" x2="688.8" y2="163.3" stroke="#7d5134" stroke-width="3.2"/>
<line x1="688.8" y1="163.3" x2="687.0" y2="171.6" stroke="#dd0000" stroke-width="3.2"/>
<line x1="690.6" y1="155.1" x2="700.2" y2="160.6" stroke="#7d5134" stroke-width="3.2"/>
<line x1="700.2" y1="160.6" x2="709.8" y2="166.1" stroke="#7d5134" stroke-width="3.2"/>
<line x1="709.8" y1="166.1" x2="711.2" y2="158.3" stroke="#7d5134" stroke-width="3.2"/>
<line x1="711.2" y1="158.3" x2="712.6" y2="150.6" stroke="#dd0000" stroke-width="3.2"/>
<line x1="709.8" y1="166.1" x2="721.2" y2="167.5" stroke="#7d5134" stroke-width="3.2"/>
<line x1="721.2" y1="167.5" x2="732.7" y2="168.9" stroke="#dd0000" stroke-width="3.2"/>
<line x1="732.7" y1="168.9" x2="735.9" y2="160.7" stroke="#dd0000" stroke-width="3.2"/>
<line x1="735.9" y1="160.7" x2="739.1" y2="152.4" stroke="#e9cccc" stroke-width="3.2"/>
<line x1="709.8" y1="166.1" x2="707.5" y2="175.2" stroke="#7d5134" stroke-width="3.2"/>
<line x1="707.5" y1="175.2" x2="705.3" y2="184.4" stroke="#e9cccc" stroke-width="3.2"/>
<line x1="687.0" y1="171.6" x2="694.8" y2="173.9" stroke="#dd0000" stroke-width="3.2"/>
<line x1="694.8" y1="173.9" x2="702.5" y2="176.2" stroke="#e9cccc" stroke-width="3.2"/>
<line x1="690.6" y1="146.9" x2="690.6" y2="151.0" stroke="#7d5134" stroke-width="3.2"/>
<line x1="690.6" y1="151.0" x2="690.6" y2="155.1" stroke="#7d5134" stroke-width="3.2"/>
<line x1="665.9" y1="154.2" x2="662.7" y2="163.3" stroke="#7d5134" stroke-width="3.2"/>
<line x1="662.7" y1="163.3" x2="659.5" y2="172.5" stroke="#e9cccc" stroke-width="3.2"/>
<line x1="668.7" y1="139.6" x2="658.6" y2="140.9" stroke="#7d5134" stroke-width="3.2"/>
<line x1="658.6" y1="140.9" x2="648.5" y2="142.3" stroke="#dd0000" stroke-width="3.2"/>
<line x1="648.5" y1="142.3" x2="637.5" y2="139.1" stroke="#dd0000" stroke-width="3.2"/>
<line x1="637.5" y1="139.1" x2="626.5" y2="135.9" stroke="#7d5134" stroke-width="3.2"/>
<line x1="626.5" y1="135.9" x2="617.8" y2="135.4" stroke="#7d5134" stroke-width="3.2"/>
<line x1="617.8" y1="135.4" x2="609.1" y2="135.0" stroke="#7d5134" stroke-width="3.2"/>
<line x1="626.5" y1="135.9" x2="620.5" y2="145.1" stroke="#7d5134" stroke-width="3.2"/>
<line x1="620.5" y1="145.1" x2="614.6" y2="154.2" stroke="#dd0000" stroke-width="3.2"/>
<line x1="630.2" y1="126.8" x2="628.4" y2="131.3" stroke="#7d5134" stroke-width="3.2"/>
<line x1="628.4" y1="131.3" x2="626.5" y2="135.9" stroke="#7d5134" stroke-width="3.2"/>
<line x1="609.1" y1="135.0" x2="600.5" y2="140.1" stroke="#7d5134" stroke-width="3.2"/>
<line x1="600.5" y1="140.1" x2="591.8" y2="145.1" stroke="#7d5134" stroke-width="3.2"/>
<line x1="609.1" y1="135.0" x2="607.3" y2="131.8" stroke="#7d5134" stroke-width="3.2"/>
<line x1="607.3" y1="131.8" x2="605.5" y2="128.6" stroke="#e9cccc" stroke-width="3.2"/>
<line x1="618.3" y1="116.7" x2="613.7" y2="125.8" stroke="#dd0000" stroke-width="3.2"/>
<line x1="613.7" y1="125.8" x2="609.1" y2="135.0" stroke="#7d5134" stroke-width="3.2"/>
<line x1="618.3" y1="116.7" x2="622.4" y2="117.6" stroke="#dd0000" stroke-width="3.2"/>
<line x1="622.4" y1="117.6" x2="626.5" y2="118.5" stroke="#e9cccc" stroke-width="3.2"/>
<line x1="591.8" y1="145.1" x2="582.1" y2="146.4" stroke="#7d5134" stroke-width="3.2"/>
<line x1="582.1" y1="146.4" x2="572.5" y2="147.8" stroke="#7d5134" stroke-width="3.2"/>
<line x1="591.8" y1="145.1" x2="586.8" y2="137.8" stroke="#7d5134" stroke-width="3.2"/>
<line x1="586.8" y1="137.8" x2="581.7" y2="130.4" stroke="#7d5134" stroke-width="3.2"/>
<line x1="591.8" y1="145.1" x2="603.2" y2="149.6" stroke="#7d5134" stroke-width="3.2"/>
<line x1="603.2" y1="149.6" x2="614.6" y2="154.2" stroke="#dd0000" stroke-width="3.2"/>
<line x1="591.8" y1="145.1" x2="601.4" y2="145.1" stroke="#7d5134" stroke-width="3.2"/>
<line x1="601.4" y1="145.1" x2="611.0" y2="145.1" stroke="#e9cccc" stroke-width="3.2"/>
<line x1="581.7" y1="130.4" x2="574.9" y2="132.7" stroke="#7d5134" stroke-width="3.2"/>
<line x1="574.9" y1="132.7" x2="568.0" y2="135.0" stroke="#dd0000" stroke-width="3.2"/>
<line x1="581.7" y1="130.4" x2="587.7" y2="128.1" stroke="#7d5134" stroke-width="3.2"/>
<line x1="587.7" y1="128.1" x2="593.6" y2="125.8" stroke="#e9cccc" stroke-width="3.2"/>
<line x1="581.7" y1="130.4" x2="580.8" y2="120.8" stroke="#7d5134" stroke-width="3.2"/>
<line x1="580.8" y1="120.8" x2="579.9" y2="111.2" stroke="#e9cccc" stroke-width="3.2"/>
<line x1="568.0" y1="135.0" x2="559.8" y2="133.6" stroke="#dd0000" stroke-width="3.2"/>
<line x1="559.8" y1="133.6" x2="551.5" y2="132.2" stroke="#e9cccc" stroke-width="3.2"/>
<line x1="572.5" y1="147.8" x2="560.6" y2="143.7" stroke="#7d5134" stroke-width="3.2"/>
<line x1="560.6" y1="143.7" x2="548.7" y2="139.6" stroke="#dd0000" stroke-width="3.2"/>
<line x1="548.7" y1="139.6" x2="547.4" y2="144.6" stroke="#dd0000" stroke-width="3.2"/>
<line x1="547.4" y1="144.6" x2="546.0" y2="149.6" stroke="#e9cccc" stroke-width="3.2"/>
<line x1="572.5" y1="147.8" x2="578.5" y2="154.7" stroke="#7d5134" stroke-width="3.2"/>
<line x1="578.5" y1="154.7" x2="584.4" y2="161.5" stroke="#7d5134" stroke-width="3.2"/>
<line x1="584.4" y1="161.5" x2="573.5" y2="163.3" stroke="#7d5134" stroke-width="3.2"/>
<line x1="573.5" y1="163.3" x2="562.5" y2="165.2" stroke="#dd0000" stroke-width="3.2"/>
<line x1="584.4" y1="161.5" x2="593.5" y2="163.3" stroke="#7d5134" stroke-width="3.2"/>
<line x1="593.5" y1="163.3" x2="602.7" y2="165.2" stroke="#dd0000" stroke-width="3.2"/>
<line x1="584.4" y1="161.5" x2="578.9" y2="164.2" stroke="#7d5134" stroke-width="3.2"/>
<line x1="578.9" y1="164.2" x2="573.4" y2="167.0" stroke="#e9cccc" stroke-width="3.2"/>
<line x1="652.0" y1="145.0" x2="660.4" y2="142.3" stroke="#dd0000" stroke-width="3.2"/>
<line x1="660.4" y1="142.3" x2="668.7" y2="139.6" stroke="#7d5134" stroke-width="3.2"/>
<line x1="626.5" y1="135.9" x2="630.6" y2="144.2" stroke="#7d5134" stroke-width="3.2"/>
<line x1="630.6" y1="144.2" x2="634.8" y2="152.4" stroke="#e9cccc" stroke-width="3.2"/>
<line x1="664.1" y1="113.9" x2="666.9" y2="116.7" stroke="#7d5134" stroke-width="3.2"/>
<line x1="666.9" y1="116.7" x2="669.6" y2="119.4" stroke="#e9cccc" stroke-width="3.2"/>
<circle cx="645.8" cy="76.4" r="3.8" fill="url(#gH)"/>
<circle cx="630.2" cy="79.2" r="3.8" fill="url(#gH)"/>
<circle cx="688.8" cy="88.3" r="3.8" fill="url(#gH)"/>
<circle cx="661.3" cy="89.2" r="3.8" fill="url(#gH)"/>
<circle cx="613.7" cy="98.4" r="3.8" fill="url(#gH)"/>
<circle cx="597.2" cy="101.1" r="3.8" fill="url(#gH)"/>
<circle cx="622.9" cy="101.1" r="3.8" fill="url(#gH)"/>
<circle cx="649.4" cy="103.9" r="3.8" fill="url(#gH)"/>
<circle cx="579.9" cy="111.2" r="3.8" fill="url(#gH)"/>
<circle cx="708.9" cy="113.0" r="3.8" fill="url(#gH)"/>
<circle cx="626.5" cy="118.5" r="3.8" fill="url(#gH)"/>
<circle cx="669.6" cy="119.4" r="3.8" fill="url(#gH)"/>
<circle cx="593.6" cy="125.8" r="3.8" fill="url(#gH)"/>
<circle cx="605.5" cy="128.6" r="3.8" fill="url(#gH)"/>
<circle cx="645.8" cy="128.6" r="3.8" fill="url(#gH)"/>
<circle cx="551.5" cy="132.2" r="3.8" fill="url(#gH)"/>
<circle cx="715.3" cy="137.7" r="3.8" fill="url(#gH)"/>
<circle cx="695.2" cy="137.7" r="3.8" fill="url(#gH)"/>
<circle cx="611.0" cy="145.1" r="3.8" fill="url(#gH)"/>
<circle cx="546.0" cy="149.6" r="3.8" fill="url(#gH)"/>
<circle cx="634.8" cy="152.4" r="3.8" fill="url(#gH)"/>
<circle cx="739.1" cy="152.4" r="3.8" fill="url(#gH)"/>
<circle cx="573.4" cy="167.0" r="3.8" fill="url(#gH)"/>
<circle cx="659.5" cy="172.5" r="3.8" fill="url(#gH)"/>
<circle cx="702.5" cy="176.2" r="3.8" fill="url(#gH)"/>
<circle cx="705.3" cy="184.4" r="3.8" fill="url(#gH)"/>
<circle cx="643.9" cy="87.4" r="5.6" fill="url(#gC)"/>
<circle cx="682.4" cy="96.5" r="5.8" fill="url(#gO)"/>
<circle cx="610.1" cy="109.4" r="5.6" fill="url(#gC)"/>
<circle cx="634.8" cy="112.1" r="6.0" fill="url(#gN)"/>
<circle cx="664.1" cy="113.9" r="5.6" fill="url(#gC)"/>
<circle cx="618.3" cy="116.7" r="5.8" fill="url(#gO)"/>
<circle cx="682.4" cy="118.5" r="5.8" fill="url(#gO)"/>
<circle cx="654.0" cy="126.8" r="5.6" fill="url(#gC)"/>
<circle cx="630.2" cy="126.8" r="5.6" fill="url(#gC)"/>
<circle cx="700.7" cy="128.6" r="5.6" fill="url(#gC)"/>
<circle cx="581.7" cy="130.4" r="5.6" fill="url(#gC)"/>
<circle cx="674.1" cy="132.2" r="5.6" fill="url(#gC)"/>
<circle cx="568.0" cy="135.0" r="5.8" fill="url(#gO)"/>
<circle cx="609.1" cy="135.0" r="5.6" fill="url(#gC)"/>
<circle cx="626.5" cy="135.9" r="5.6" fill="url(#gC)"/>
<circle cx="548.7" cy="139.6" r="5.8" fill="url(#gO)"/>
<circle cx="668.7" cy="139.6" r="5.6" fill="url(#gC)"/>
<circle cx="648.5" cy="142.3" r="5.8" fill="url(#gO)"/>
<circle cx="652.0" cy="145.0" r="5.8" fill="url(#gO)"/>
<circle cx="591.8" cy="145.1" r="5.6" fill="url(#gC)"/>
<circle cx="690.6" cy="146.9" r="5.6" fill="url(#gC)"/>
<circle cx="572.5" cy="147.8" r="5.6" fill="url(#gC)"/>
<circle cx="712.6" cy="150.6" r="5.8" fill="url(#gO)"/>
<circle cx="614.6" cy="154.2" r="5.8" fill="url(#gO)"/>
<circle cx="665.9" cy="154.2" r="5.6" fill="url(#gC)"/>
<circle cx="690.6" cy="155.1" r="5.6" fill="url(#gC)"/>
<circle cx="584.4" cy="161.5" r="5.6" fill="url(#gC)"/>
<circle cx="562.5" cy="165.2" r="5.8" fill="url(#gO)"/>
<circle cx="602.7" cy="165.2" r="5.8" fill="url(#gO)"/>
<circle cx="709.8" cy="166.1" r="5.6" fill="url(#gC)"/>
<circle cx="732.7" cy="168.9" r="5.8" fill="url(#gO)"/>
<circle cx="687.0" cy="171.6" r="5.8" fill="url(#gO)"/>
<line x1="573.4" y1="286.8" x2="585.8" y2="288.6" stroke="#7d5134" stroke-width="3.2"/>
<line x1="585.8" y1="288.6" x2="598.2" y2="290.5" stroke="#7d5134" stroke-width="3.2"/>
<line x1="573.4" y1="286.8" x2="563.8" y2="288.6" stroke="#7d5134" stroke-width="3.2"/>
<line x1="563.8" y1="288.6" x2="554.2" y2="290.5" stroke="#dd0000" stroke-width="3.2"/>
<line x1="554.2" y1="290.5" x2="546.5" y2="289.6" stroke="#dd0000" stroke-width="3.2"/>
<line x1="546.5" y1="289.6" x2="538.7" y2="288.7" stroke="#e9cccc" stroke-width="3.2"/>
<line x1="573.4" y1="286.8" x2="571.6" y2="295.1" stroke="#7d5134" stroke-width="3.2"/>
<line x1="571.6" y1="295.1" x2="569.8" y2="303.3" stroke="#7d5134" stroke-width="3.2"/>
<line x1="573.4" y1="286.8" x2="573.0" y2="276.8" stroke="#7d5134" stroke-width="3.2"/>
<line x1="573.0" y1="276.8" x2="572.5" y2="266.7" stroke="#e9cccc" stroke-width="3.2"/>
<line x1="569.8" y1="303.3" x2="558.3" y2="299.6" stroke="#7d5134" stroke-width="3.2"/>
<line x1="558.3" y1="299.6" x2="546.9" y2="296.0" stroke="#dd0000" stroke-width="3.2"/>
<line x1="546.9" y1="296.0" x2="547.3" y2="300.1" stroke="#dd0000" stroke-width="3.2"/>
<line x1="547.3" y1="300.1" x2="547.8" y2="304.2" stroke="#e9cccc" stroke-width="3.2"/>
<line x1="569.8" y1="303.3" x2="581.7" y2="301.0" stroke="#7d5134" stroke-width="3.2"/>
<line x1="581.7" y1="301.0" x2="593.6" y2="298.7" stroke="#7d5134" stroke-width="3.2"/>
<line x1="569.8" y1="303.3" x2="571.1" y2="311.1" stroke="#7d5134" stroke-width="3.2"/>
<line x1="571.1" y1="311.1" x2="572.5" y2="318.9" stroke="#dd0000" stroke-width="3.2"/>
<line x1="598.2" y1="290.5" x2="600.0" y2="282.2" stroke="#7d5134" stroke-width="3.2"/>
<line x1="600.0" y1="282.2" x2="601.8" y2="274.0" stroke="#dd0000" stroke-width="3.2"/>
<line x1="601.8" y1="274.0" x2="593.5" y2="273.6" stroke="#dd0000" stroke-width="3.2"/>
<line x1="593.5" y1="273.6" x2="585.3" y2="273.1" stroke="#e9cccc" stroke-width="3.2"/>
<line x1="598.2" y1="290.5" x2="609.2" y2="289.6" stroke="#7d5134" stroke-width="3.2"/>
<line x1="609.2" y1="289.6" x2="620.1" y2="288.7" stroke="#7d5134" stroke-width="3.2"/>
<line x1="593.6" y1="298.7" x2="593.6" y2="305.6" stroke="#7d5134" stroke-width="3.2"/>
<line x1="593.6" y1="305.6" x2="593.6" y2="312.5" stroke="#7d5134" stroke-width="3.2"/>
<line x1="593.6" y1="312.5" x2="583.0" y2="315.7" stroke="#7d5134" stroke-width="3.2"/>
<line x1="583.0" y1="315.7" x2="572.5" y2="318.9" stroke="#dd0000" stroke-width="3.2"/>
<line x1="593.6" y1="312.5" x2="604.1" y2="315.2" stroke="#7d5134" stroke-width="3.2"/>
<line x1="604.1" y1="315.2" x2="614.6" y2="318.0" stroke="#dd0000" stroke-width="3.2"/>
<line x1="593.6" y1="298.7" x2="604.1" y2="301.9" stroke="#7d5134" stroke-width="3.2"/>
<line x1="604.1" y1="301.9" x2="614.6" y2="305.1" stroke="#dd0000" stroke-width="3.2"/>
<line x1="614.6" y1="305.1" x2="617.4" y2="296.9" stroke="#dd0000" stroke-width="3.2"/>
<line x1="617.4" y1="296.9" x2="620.1" y2="288.7" stroke="#7d5134" stroke-width="3.2"/>
<line x1="620.1" y1="288.7" x2="620.5" y2="278.6" stroke="#7d5134" stroke-width="3.2"/>
<line x1="620.5" y1="278.6" x2="621.0" y2="268.5" stroke="#e9cccc" stroke-width="3.2"/>
<line x1="620.1" y1="288.7" x2="631.5" y2="291.4" stroke="#7d5134" stroke-width="3.2"/>
<line x1="631.5" y1="291.4" x2="643.0" y2="294.1" stroke="#dd0000" stroke-width="3.2"/>
<line x1="643.0" y1="294.1" x2="654.0" y2="290.9" stroke="#dd0000" stroke-width="3.2"/>
<line x1="654.0" y1="290.9" x2="665.0" y2="287.7" stroke="#7d5134" stroke-width="3.2"/>
<line x1="656.7" y1="290.5" x2="660.9" y2="289.1" stroke="#dd0000" stroke-width="3.2"/>
<line x1="660.9" y1="289.1" x2="665.0" y2="287.7" stroke="#7d5134" stroke-width="3.2"/>
<line x1="620.1" y1="288.7" x2="624.2" y2="291.4" stroke="#7d5134" stroke-width="3.2"/>
<line x1="624.2" y1="291.4" x2="628.4" y2="294.1" stroke="#e9cccc" stroke-width="3.2"/>
<line x1="643.0" y1="294.1" x2="643.0" y2="297.8" stroke="#dd0000" stroke-width="3.2"/>
<line x1="643.0" y1="297.8" x2="643.0" y2="301.5" stroke="#e9cccc" stroke-width="3.2"/>
<line x1="624.7" y1="247.5" x2="626.5" y2="239.2" stroke="#7d5134" stroke-width="3.2"/>
<line x1="626.5" y1="239.2" x2="628.4" y2="231.0" stroke="#e9cccc" stroke-width="3.2"/>
<line x1="624.7" y1="247.5" x2="622.0" y2="242.9" stroke="#7d5134" stroke-width="3.2"/>
<line x1="622.0" y1="242.9" x2="619.2" y2="238.3" stroke="#e9cccc" stroke-width="3.2"/>
<line x1="624.7" y1="247.5" x2="617.4" y2="253.4" stroke="#7d5134" stroke-width="3.2"/>
<line x1="617.4" y1="253.4" x2="610.1" y2="259.4" stroke="#e9cccc" stroke-width="3.2"/>
<line x1="624.7" y1="247.5" x2="636.2" y2="254.8" stroke="#7d5134" stroke-width="3.2"/>
<line x1="636.2" y1="254.8" x2="647.6" y2="262.1" stroke="#2030d0" stroke-width="3.2"/>
<line x1="647.6" y1="262.1" x2="652.2" y2="260.8" stroke="#2030d0" stroke-width="3.2"/>
<line x1="652.2" y1="260.8" x2="656.7" y2="259.4" stroke="#7d5134" stroke-width="3.2"/>
<line x1="656.7" y1="259.4" x2="664.5" y2="248.8" stroke="#7d5134" stroke-width="3.2"/>
<line x1="664.5" y1="248.8" x2="672.3" y2="238.3" stroke="#dd0000" stroke-width="3.2"/>
<line x1="672.3" y1="238.3" x2="672.8" y2="233.8" stroke="#dd0000" stroke-width="3.2"/>
<line x1="672.8" y1="233.8" x2="673.2" y2="229.2" stroke="#e9cccc" stroke-width="3.2"/>
<line x1="672.3" y1="238.3" x2="675.0" y2="236.4" stroke="#dd0000" stroke-width="3.2"/>
<line x1="675.0" y1="236.4" x2="677.8" y2="234.6" stroke="#e9cccc" stroke-width="3.2"/>
<line x1="656.7" y1="259.4" x2="660.0" y2="247.5" stroke="#7d5134" stroke-width="3.2"/>
<line x1="660.0" y1="247.5" x2="663.2" y2="235.6" stroke="#e9cccc" stroke-width="3.2"/>
<line x1="647.6" y1="262.1" x2="646.2" y2="271.2" stroke="#2030d0" stroke-width="3.2"/>
<line x1="646.2" y1="271.2" x2="644.9" y2="280.4" stroke="#7d5134" stroke-width="3.2"/>
<line x1="644.9" y1="280.4" x2="642.1" y2="276.3" stroke="#7d5134" stroke-width="3.2"/>
<line x1="642.1" y1="276.3" x2="639.4" y2="272.2" stroke="#e9cccc" stroke-width="3.2"/>
<line x1="647.6" y1="262.1" x2="643.0" y2="258.0" stroke="#2030d0" stroke-width="3.2"/>
<line x1="643.0" y1="258.0" x2="638.4" y2="253.9" stroke="#e9cccc" stroke-width="3.2"/>
<line x1="656.7" y1="259.4" x2="656.7" y2="267.1" stroke="#7d5134" stroke-width="3.2"/>
<line x1="656.7" y1="267.1" x2="656.7" y2="274.9" stroke="#7d5134" stroke-width="3.2"/>
<line x1="656.7" y1="274.9" x2="661.8" y2="276.8" stroke="#7d5134" stroke-width="3.2"/>
<line x1="661.8" y1="276.8" x2="666.8" y2="278.6" stroke="#7d5134" stroke-width="3.2"/>
<line x1="666.8" y1="278.6" x2="668.6" y2="269.9" stroke="#7d5134" stroke-width="3.2"/>
<line x1="668.6" y1="269.9" x2="670.5" y2="261.2" stroke="#dd0000" stroke-width="3.2"/>
<line x1="670.5" y1="261.2" x2="680.5" y2="264.4" stroke="#dd0000" stroke-width="3.2"/>
<line x1="680.5" y1="264.4" x2="690.6" y2="267.6" stroke="#7d5134" stroke-width="3.2"/>
<line x1="690.6" y1="267.6" x2="692.5" y2="259.4" stroke="#7d5134" stroke-width="3.2"/>
<line x1="692.5" y1="259.4" x2="694.3" y2="251.1" stroke="#e9cccc" stroke-width="3.2"/>
<line x1="690.6" y1="267.6" x2="699.3" y2="269.5" stroke="#7d5134" stroke-width="3.2"/>
<line x1="699.3" y1="269.5" x2="708.0" y2="271.3" stroke="#e9cccc" stroke-width="3.2"/>
<line x1="690.6" y1="267.6" x2="688.8" y2="279.1" stroke="#7d5134" stroke-width="3.2"/>
<line x1="688.8" y1="279.1" x2="687.0" y2="290.5" stroke="#7d5134" stroke-width="3.2"/>
<line x1="666.8" y1="278.6" x2="665.9" y2="283.1" stroke="#7d5134" stroke-width="3.2"/>
<line x1="665.9" y1="283.1" x2="665.0" y2="287.7" stroke="#7d5134" stroke-width="3.2"/>
<line x1="665.0" y1="287.7" x2="666.9" y2="295.5" stroke="#7d5134" stroke-width="3.2"/>
<line x1="666.9" y1="295.5" x2="668.7" y2="303.3" stroke="#7d5134" stroke-width="3.2"/>
<line x1="687.0" y1="290.5" x2="699.4" y2="291.9" stroke="#7d5134" stroke-width="3.2"/>
<line x1="699.4" y1="291.9" x2="711.7" y2="293.2" stroke="#dd0000" stroke-width="3.2"/>
<line x1="687.0" y1="290.5" x2="683.3" y2="287.3" stroke="#7d5134" stroke-width="3.2"/>
<line x1="683.3" y1="287.3" x2="679.6" y2="284.1" stroke="#e9cccc" stroke-width="3.2"/>
<line x1="668.7" y1="303.3" x2="682.4" y2="305.6" stroke="#7d5134" stroke-width="3.2"/>
<line x1="682.4" y1="305.6" x2="696.1" y2="307.9" stroke="#7d5134" stroke-width="3.2"/>
<line x1="668.7" y1="303.3" x2="665.0" y2="312.0" stroke="#7d5134" stroke-width="3.2"/>
<line x1="665.0" y1="312.0" x2="661.3" y2="320.7" stroke="#e9cccc" stroke-width="3.2"/>
<line x1="696.1" y1="307.9" x2="691.5" y2="299.2" stroke="#7d5134" stroke-width="3.2"/>
<line x1="691.5" y1="299.2" x2="687.0" y2="290.5" stroke="#7d5134" stroke-width="3.2"/>
<line x1="696.1" y1="307.9" x2="704.8" y2="310.6" stroke="#7d5134" stroke-width="3.2"/>
<line x1="704.8" y1="310.6" x2="713.5" y2="313.4" stroke="#7d5134" stroke-width="3.2"/>
<line x1="696.1" y1="307.9" x2="696.5" y2="317.5" stroke="#7d5134" stroke-width="3.2"/>
<line x1="696.5" y1="317.5" x2="697.0" y2="327.1" stroke="#dd0000" stroke-width="3.2"/>
<line x1="696.1" y1="307.9" x2="689.2" y2="307.9" stroke="#7d5134" stroke-width="3.2"/>
<line x1="689.2" y1="307.9" x2="682.4" y2="307.9" stroke="#e9cccc" stroke-width="3.2"/>
<line x1="713.5" y1="313.4" x2="712.6" y2="303.3" stroke="#7d5134" stroke-width="3.2"/>
<line x1="712.6" y1="303.3" x2="711.7" y2="293.2" stroke="#dd0000" stroke-width="3.2"/>
<line x1="713.5" y1="313.4" x2="725.9" y2="315.2" stroke="#7d5134" stroke-width="3.2"/>
<line x1="725.9" y1="315.2" x2="738.2" y2="317.0" stroke="#dd0000" stroke-width="3.2"/>
<line x1="738.2" y1="317.0" x2="741.0" y2="308.8" stroke="#dd0000" stroke-width="3.2"/>
<line x1="741.0" y1="308.8" x2="743.7" y2="300.6" stroke="#e9cccc" stroke-width="3.2"/>
<line x1="713.5" y1="313.4" x2="710.8" y2="321.6" stroke="#7d5134" stroke-width="3.2"/>
<line x1="710.8" y1="321.6" x2="708.0" y2="329.9" stroke="#e9cccc" stroke-width="3.2"/>
<line x1="697.0" y1="327.1" x2="706.1" y2="329.0" stroke="#dd0000" stroke-width="3.2"/>
<line x1="706.1" y1="329.0" x2="715.3" y2="330.8" stroke="#e9cccc" stroke-width="3.2"/>
<line x1="711.7" y1="293.2" x2="707.5" y2="291.4" stroke="#dd0000" stroke-width="3.2"/>
<line x1="707.5" y1="291.4" x2="703.4" y2="289.6" stroke="#e9cccc" stroke-width="3.2"/>
<line x1="656.7" y1="259.4" x2="671.4" y2="257.5" stroke="#7d5134" stroke-width="3.2"/>
<line x1="671.4" y1="257.5" x2="686.0" y2="255.7" stroke="#e9cccc" stroke-width="3.2"/>
<line x1="644.9" y1="280.4" x2="650.8" y2="277.6" stroke="#7d5134" stroke-width="3.2"/>
<line x1="650.8" y1="277.6" x2="656.7" y2="274.9" stroke="#7d5134" stroke-width="3.2"/>
<line x1="593.6" y1="298.7" x2="596.8" y2="301.9" stroke="#7d5134" stroke-width="3.2"/>
<line x1="596.8" y1="301.9" x2="600.0" y2="305.1" stroke="#e9cccc" stroke-width="3.2"/>
<line x1="572.5" y1="318.9" x2="570.7" y2="321.6" stroke="#dd0000" stroke-width="3.2"/>
<line x1="570.7" y1="321.6" x2="568.9" y2="324.4" stroke="#e9cccc" stroke-width="3.2"/>
<circle cx="673.2" cy="229.2" r="3.8" fill="url(#gH)"/>
<circle cx="628.4" cy="231.0" r="3.8" fill="url(#gH)"/>
<circle cx="677.8" cy="234.6" r="3.8" fill="url(#gH)"/>
<circle cx="663.2" cy="235.6" r="3.8" fill="url(#gH)"/>
<circle cx="619.2" cy="238.3" r="3.8" fill="url(#gH)"/>
<circle cx="694.3" cy="251.1" r="3.8" fill="url(#gH)"/>
<circle cx="638.4" cy="253.9" r="3.8" fill="url(#gH)"/>
<circle cx="686.0" cy="255.7" r="3.8" fill="url(#gH)"/>
<circle cx="610.1" cy="259.4" r="3.8" fill="url(#gH)"/>
<circle cx="572.5" cy="266.7" r="3.8" fill="url(#gH)"/>
<circle cx="665.0" cy="268.5" r="3.8" fill="url(#gH)"/>
<circle cx="621.0" cy="268.5" r="3.8" fill="url(#gH)"/>
<circle cx="708.0" cy="271.3" r="3.8" fill="url(#gH)"/>
<circle cx="639.4" cy="272.2" r="3.8" fill="url(#gH)"/>
<circle cx="585.3" cy="273.1" r="3.8" fill="url(#gH)"/>
<circle cx="593.6" cy="278.6" r="3.8" fill="url(#gH)"/>
<circle cx="679.6" cy="284.1" r="3.8" fill="url(#gH)"/>
<circle cx="538.7" cy="288.7" r="3.8" fill="url(#gH)"/>
<circle cx="703.4" cy="289.6" r="3.8" fill="url(#gH)"/>
<circle cx="628.4" cy="294.1" r="3.8" fill="url(#gH)"/>
<circle cx="743.7" cy="300.6" r="3.8" fill="url(#gH)"/>
<circle cx="643.0" cy="301.5" r="3.8" fill="url(#gH)"/>
<circle cx="547.8" cy="304.2" r="3.8" fill="url(#gH)"/>
<circle cx="600.0" cy="305.1" r="3.8" fill="url(#gH)"/>
<circle cx="682.4" cy="307.9" r="3.8" fill="url(#gH)"/>
<circle cx="661.3" cy="320.7" r="3.8" fill="url(#gH)"/>
<circle cx="568.9" cy="324.4" r="3.8" fill="url(#gH)"/>
<circle cx="708.0" cy="329.9" r="3.8" fill="url(#gH)"/>
<circle cx="715.3" cy="330.8" r="3.8" fill="url(#gH)"/>
<circle cx="672.3" cy="238.3" r="5.8" fill="url(#gO)"/>
<circle cx="624.7" cy="247.5" r="5.6" fill="url(#gC)"/>
<circle cx="656.7" cy="259.4" r="5.6" fill="url(#gC)"/>
<circle cx="670.5" cy="261.2" r="5.8" fill="url(#gO)"/>
<circle cx="647.6" cy="262.1" r="6.0" fill="url(#gN)"/>
<circle cx="690.6" cy="267.6" r="5.6" fill="url(#gC)"/>
<circle cx="601.8" cy="274.0" r="5.8" fill="url(#gO)"/>
<circle cx="656.7" cy="274.9" r="5.6" fill="url(#gC)"/>
<circle cx="666.8" cy="278.6" r="5.6" fill="url(#gC)"/>
<circle cx="644.9" cy="280.4" r="5.6" fill="url(#gC)"/>
<circle cx="573.4" cy="286.8" r="5.6" fill="url(#gC)"/>
<circle cx="665.0" cy="287.7" r="5.6" fill="url(#gC)"/>
<circle cx="620.1" cy="288.7" r="5.6" fill="url(#gC)"/>
<circle cx="656.7" cy="290.5" r="5.8" fill="url(#gO)"/>
<circle cx="687.0" cy="290.5" r="5.6" fill="url(#gC)"/>
<circle cx="554.2" cy="290.5" r="5.8" fill="url(#gO)"/>
<circle cx="598.2" cy="290.5" r="5.6" fill="url(#gC)"/>
<circle cx="711.7" cy="293.2" r="5.8" fill="url(#gO)"/>
<circle cx="643.0" cy="294.1" r="5.8" fill="url(#gO)"/>
<circle cx="546.9" cy="296.0" r="5.8" fill="url(#gO)"/>
<circle cx="593.6" cy="298.7" r="5.6" fill="url(#gC)"/>
<circle cx="668.7" cy="303.3" r="5.6" fill="url(#gC)"/>
<circle cx="569.8" cy="303.3" r="5.6" fill="url(#gC)"/>
<circle cx="614.6" cy="305.1" r="5.8" fill="url(#gO)"/>
<circle cx="696.1" cy="307.9" r="5.6" fill="url(#gC)"/>
<circle cx="593.6" cy="312.5" r="5.6" fill="url(#gC)"/>
<circle cx="713.5" cy="313.4" r="5.6" fill="url(#gC)"/>
<circle cx="738.2" cy="317.0" r="5.8" fill="url(#gO)"/>
<circle cx="614.6" cy="318.0" r="5.8" fill="url(#gO)"/>
<circle cx="572.5" cy="318.9" r="5.8" fill="url(#gO)"/>
<circle cx="697.0" cy="327.1" r="5.8" fill="url(#gO)"/>
<line x1="578" y1="321.5" x2="594.5" y2="329.9" stroke="#5fb35d" stroke-width="3"/><line x1="609" y1="321" x2="594.5" y2="329.9" stroke="#5fb35d" stroke-width="3"/>
<circle cx="594.5" cy="329.9" r="12" fill="url(#gL)"/>
<circle cx="35.6" cy="359.4" r="6.3" fill="url(#gH)"/>
<text x="44.2" y="365.6" font-size="16.5" fill="#1a1a1a"  stroke="#1a1a1a" stroke-width="0.3">H</text>
<circle cx="76.9" cy="359.4" r="6.3" fill="url(#gL)"/>
<text x="85.5" y="365.6" font-size="16.5" fill="#1a1a1a"  stroke="#1a1a1a" stroke-width="0.3">Li</text>
<circle cx="118.3" cy="359.4" r="6.3" fill="url(#gC)"/>
<text x="126.9" y="365.6" font-size="16.5" fill="#1a1a1a"  stroke="#1a1a1a" stroke-width="0.3">C</text>
<circle cx="160.1" cy="359.4" r="6.3" fill="url(#gN)"/>
<text x="168.7" y="365.6" font-size="16.5" fill="#1a1a1a"  stroke="#1a1a1a" stroke-width="0.3">N</text>
<circle cx="201.2" cy="359.4" r="6.3" fill="url(#gO)"/>
<text x="209.8" y="365.6" font-size="16.5" fill="#1a1a1a"  stroke="#1a1a1a" stroke-width="0.3">O</text>
<circle cx="243" cy="359.4" r="6.3" fill="url(#gF)"/>
<text x="251.6" y="365.6" font-size="16.5" fill="#1a1a1a"  stroke="#1a1a1a" stroke-width="0.3">F</text>
<circle cx="284" cy="359.4" r="6.3" fill="url(#gS)"/>
<text x="292.6" y="365.6" font-size="16.5" fill="#1a1a1a"  stroke="#1a1a1a" stroke-width="0.3">S</text>
</svg></body></html>
